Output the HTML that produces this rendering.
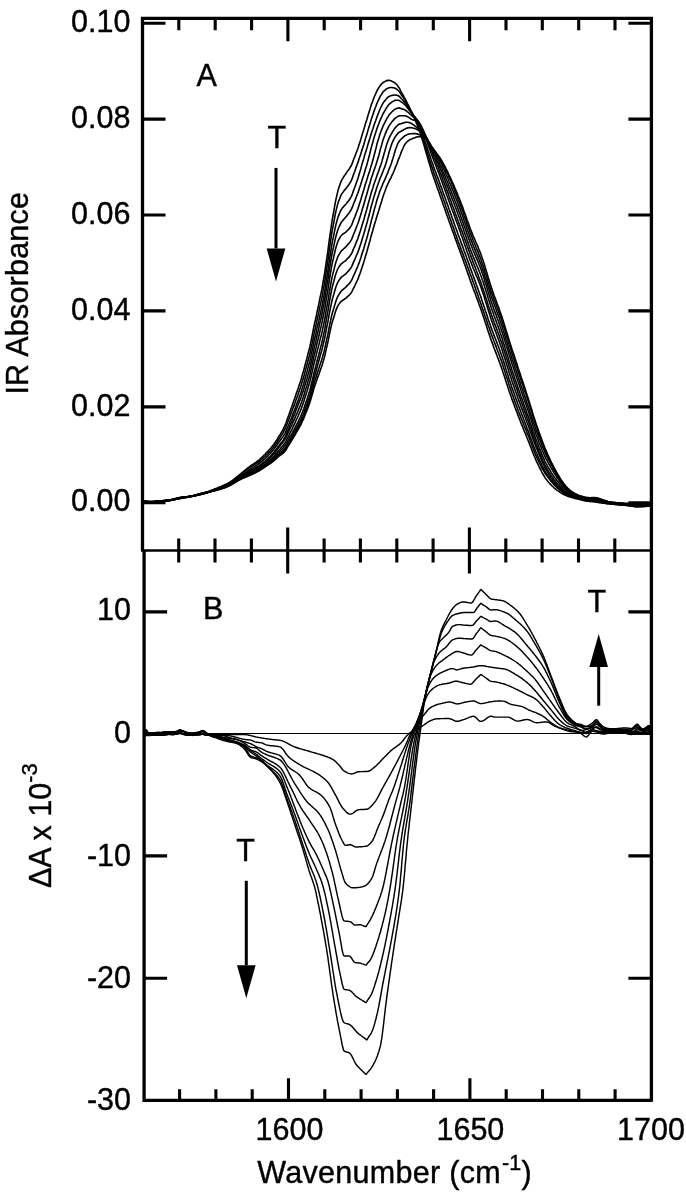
<!DOCTYPE html>
<html lang="en"><head><meta charset="utf-8"><title>IR Absorbance vs Wavenumber</title>
<style>html,body{margin:0;padding:0;background:#fff}svg{display:block}</style></head>
<body>
<svg width="686" height="1199" viewBox="0 0 686 1199">
<rect width="686" height="1199" fill="#fff"/>
<g fill="none" stroke="#000" stroke-width="1.6" stroke-linejoin="round" stroke-linecap="round">
<path d="M142.5 502.0L143.2 502.0L144.0 501.9L144.8 501.9L145.5 501.9L146.2 501.8L147.0 501.8L147.8 501.8L148.5 501.7L149.2 501.7L150.0 501.6L150.8 501.6L151.5 501.6L152.2 501.5L153.0 501.5L153.8 501.5L154.5 501.4L155.2 501.4L156.0 501.4L156.8 501.3L157.5 501.3L158.2 501.2L159.0 501.2L159.8 501.2L160.5 501.1L161.2 501.1L162.0 501.1L162.8 501.0L163.5 501.0L164.2 500.9L165.0 500.9L165.8 500.8L166.5 500.8L167.2 500.7L168.0 500.6L168.8 500.5L169.5 500.4L170.2 500.3L171.0 500.2L171.8 500.1L172.5 499.9L173.2 499.8L174.0 499.6L174.8 499.5L175.5 499.3L176.2 499.2L177.0 499.0L177.8 498.9L178.5 498.7L179.2 498.5L180.0 498.4L180.8 498.2L181.5 498.0L182.2 497.9L183.0 497.7L183.8 497.6L184.5 497.4L185.2 497.3L186.0 497.2L186.8 497.0L187.5 496.9L188.2 496.7L189.0 496.6L189.8 496.4L190.5 496.3L191.2 496.1L192.0 496.0L192.8 495.8L193.5 495.7L194.2 495.5L195.0 495.4L195.8 495.2L196.5 495.1L197.2 494.9L198.0 494.7L198.8 494.5L199.5 494.3L200.2 494.2L201.0 494.0L201.8 493.7L202.5 493.5L203.2 493.3L204.0 493.1L204.8 492.8L205.5 492.6L206.2 492.3L207.0 492.0L207.8 491.8L208.5 491.5L209.2 491.2L210.0 490.9L210.8 490.6L211.5 490.3L212.2 490.0L213.0 489.7L213.8 489.4L214.5 489.1L215.2 488.8L216.0 488.5L216.8 488.2L217.5 487.9L218.2 487.6L219.0 487.3L219.8 487.0L220.5 486.7L221.2 486.4L222.0 486.1L222.8 485.7L223.5 485.4L224.2 485.1L225.0 484.7L225.8 484.3L226.5 484.0L227.2 483.6L228.0 483.2L228.8 482.8L229.5 482.3L230.2 481.9L231.0 481.4L231.8 480.9L232.5 480.3L233.2 479.8L234.0 479.2L234.8 478.6L235.5 478.0L236.2 477.4L237.0 476.8L237.8 476.2L238.5 475.6L239.2 475.0L240.0 474.4L240.8 473.8L241.5 473.2L242.2 472.6L243.0 472.0L243.8 471.3L244.5 470.7L245.2 470.1L246.0 469.5L246.8 468.8L247.5 468.2L248.2 467.6L249.0 467.1L249.8 466.5L250.5 465.9L251.2 465.4L252.0 464.9L252.8 464.4L253.5 463.9L254.2 463.4L255.0 462.9L255.8 462.4L256.5 461.9L257.2 461.3L258.0 460.7L258.8 460.1L259.5 459.5L260.2 458.8L261.0 458.1L261.8 457.4L262.5 456.7L263.2 456.0L264.0 455.2L264.8 454.5L265.5 453.7L266.2 452.9L267.0 452.2L267.8 451.4L268.5 450.6L269.2 449.8L270.0 449.0L270.8 448.1L271.5 447.2L272.2 446.3L273.0 445.4L273.8 444.4L274.5 443.3L275.2 442.2L276.0 441.0L276.8 439.9L277.5 438.6L278.2 437.4L279.0 436.2L279.8 435.0L280.5 433.8L281.2 432.6L282.0 431.3L282.8 430.0L283.5 428.5L284.2 427.0L285.0 425.4L285.8 423.5L286.5 421.4L287.2 419.3L288.0 417.2L288.8 415.1L289.5 413.0L290.2 410.9L291.0 408.8L291.8 406.7L292.5 404.6L293.2 402.5L294.0 400.3L294.8 398.1L295.5 396.0L296.2 393.8L297.0 391.6L297.8 389.4L298.5 387.2L299.2 385.0L300.0 382.7L300.8 380.4L301.5 378.0L302.2 375.4L303.0 372.8L303.8 370.1L304.5 367.3L305.2 364.4L306.0 361.6L306.8 358.7L307.5 355.9L308.2 353.0L309.0 350.0L309.8 347.0L310.5 343.7L311.2 340.1L312.0 336.3L312.8 332.4L313.5 328.7L314.2 325.2L315.0 321.7L315.8 318.2L316.5 314.8L317.2 311.2L318.0 307.7L318.8 304.1L319.5 300.6L320.2 297.0L321.0 293.4L321.8 289.6L322.5 285.6L323.2 281.5L324.0 277.0L324.8 272.3L325.5 267.3L326.2 262.1L327.0 256.9L327.8 251.7L328.5 246.2L329.2 240.6L330.0 234.9L330.8 229.5L331.5 224.5L332.2 219.9L333.0 215.5L333.8 211.3L334.5 207.2L335.2 203.1L336.0 199.1L336.8 195.6L337.5 192.6L338.2 189.8L339.0 187.3L339.8 185.0L340.5 182.9L341.2 181.1L342.0 179.6L342.8 178.3L343.5 177.1L344.2 176.0L345.0 174.9L345.8 173.9L346.5 172.8L347.2 171.6L348.0 170.6L348.8 169.6L349.5 168.5L350.2 167.3L351.0 166.0L351.8 164.4L352.5 162.5L353.2 160.5L354.0 158.5L354.8 156.6L355.5 154.7L356.2 152.8L357.0 150.8L357.8 148.7L358.5 146.6L359.2 144.3L360.0 141.9L360.8 139.4L361.5 136.9L362.2 134.5L363.0 132.0L363.8 129.5L364.5 127.1L365.2 124.6L366.0 122.1L366.8 119.7L367.5 117.2L368.2 114.8L369.0 112.3L369.8 109.8L370.5 107.4L371.2 105.1L372.0 102.9L372.8 100.8L373.5 98.9L374.2 97.0L375.0 95.2L375.8 93.5L376.5 91.9L377.2 90.4L378.0 89.0L378.8 87.8L379.5 86.6L380.2 85.5L381.0 84.6L381.8 83.8L382.5 83.1L383.2 82.5L384.0 82.0L384.8 81.6L385.5 81.2L386.2 80.8L387.0 80.6L387.8 80.4L388.5 80.3L389.2 80.4L390.0 80.5L390.8 80.7L391.5 81.0L392.2 81.4L393.0 81.8L393.8 82.2L394.5 82.6L395.2 83.2L396.0 83.9L396.8 84.7L397.5 85.6L398.2 86.6L399.0 87.7L399.8 89.0L400.5 90.5L401.2 92.0L402.0 93.3L402.8 94.7L403.5 96.0L404.2 97.3L405.0 98.7L405.8 100.2L406.5 101.6L407.2 103.1L408.0 104.6L408.8 106.2L409.5 107.8L410.2 109.5L411.0 111.1L411.8 112.8L412.5 114.5L413.2 116.1L414.0 117.7L414.8 119.3L415.5 120.9L416.2 122.6L417.0 124.4L417.8 126.2L418.5 128.2L419.2 130.3L420.0 132.5L420.8 134.8L421.5 137.1L422.2 139.5L423.0 141.9L423.8 144.4L424.5 147.0L425.2 149.6L426.0 152.2L426.8 154.8L427.5 157.3L428.2 159.9L429.0 162.5L429.8 165.0L430.5 167.6L431.2 170.0L432.0 172.4L432.8 174.7L433.5 176.9L434.2 179.1L435.0 181.3L435.8 183.4L436.5 185.5L437.2 187.6L438.0 189.7L438.8 191.8L439.5 193.9L440.2 196.1L441.0 198.2L441.8 200.4L442.5 202.5L443.2 204.7L444.0 206.8L444.8 209.0L445.5 211.1L446.2 213.2L447.0 215.4L447.8 217.5L448.5 219.6L449.2 221.7L450.0 223.8L450.8 225.9L451.5 228.0L452.2 230.1L453.0 232.2L453.8 234.2L454.5 236.3L455.2 238.4L456.0 240.5L456.8 242.5L457.5 244.6L458.2 246.6L459.0 248.6L459.8 250.7L460.5 252.7L461.2 254.8L462.0 256.9L462.8 259.0L463.5 261.1L464.2 263.2L465.0 265.3L465.8 267.5L466.5 269.6L467.2 271.8L468.0 273.9L468.8 276.0L469.5 278.2L470.2 280.3L471.0 282.4L471.8 284.5L472.5 286.5L473.2 288.5L474.0 290.6L474.8 292.6L475.5 294.6L476.2 296.6L477.0 298.6L477.8 300.6L478.5 302.7L479.2 304.7L480.0 306.8L480.8 308.9L481.5 311.0L482.2 313.2L483.0 315.4L483.8 317.7L484.5 319.9L485.2 322.2L486.0 324.6L486.8 326.9L487.5 329.2L488.2 331.5L489.0 333.8L489.8 336.0L490.5 338.2L491.2 340.3L492.0 342.4L492.8 344.5L493.5 346.5L494.2 348.5L495.0 350.4L495.8 352.4L496.5 354.3L497.2 356.2L498.0 358.2L498.8 360.2L499.5 362.2L500.2 364.3L501.0 366.4L501.8 368.5L502.5 370.8L503.2 373.0L504.0 375.3L504.8 377.6L505.5 379.9L506.2 382.3L507.0 384.6L507.8 386.9L508.5 389.1L509.2 391.4L510.0 393.6L510.8 395.7L511.5 397.8L512.2 399.9L513.0 401.9L513.8 404.0L514.5 406.0L515.2 408.0L516.0 410.0L516.8 412.0L517.5 413.9L518.2 415.9L519.0 417.8L519.8 419.8L520.5 421.7L521.2 423.6L522.0 425.4L522.8 427.3L523.5 429.1L524.2 431.0L525.0 432.8L525.8 434.6L526.5 436.5L527.2 438.3L528.0 440.2L528.8 442.0L529.5 443.9L530.2 445.9L531.0 447.8L531.8 449.8L532.5 451.7L533.2 453.6L534.0 455.5L534.8 457.3L535.5 459.0L536.2 460.7L537.0 462.3L537.8 463.9L538.5 465.5L539.2 467.0L540.0 468.5L540.8 470.0L541.5 471.5L542.2 472.9L543.0 474.2L543.8 475.5L544.5 476.7L545.2 477.9L546.0 478.9L546.8 479.9L547.5 480.9L548.2 481.8L549.0 482.7L549.8 483.5L550.5 484.4L551.2 485.1L552.0 485.9L552.8 486.6L553.5 487.3L554.2 488.0L555.0 488.6L555.8 489.2L556.5 489.8L557.2 490.3L558.0 490.9L558.8 491.4L559.5 491.9L560.2 492.4L561.0 492.9L561.8 493.4L562.5 493.8L563.2 494.2L564.0 494.6L564.8 495.0L565.5 495.3L566.2 495.6L567.0 495.9L567.8 496.2L568.5 496.4L569.2 496.7L570.0 496.9L570.8 497.2L571.5 497.4L572.2 497.6L573.0 497.8L573.8 498.0L574.5 498.2L575.2 498.4L576.0 498.6L576.8 498.7L577.5 498.9L578.2 499.1L579.0 499.2L579.8 499.4L580.5 499.5L581.2 499.7L582.0 499.8L582.8 500.0L583.5 500.1L584.2 500.2L585.0 500.4L585.8 500.5L586.5 500.6L587.2 500.8L588.0 500.9L588.8 501.0L589.5 501.1L590.2 501.2L591.0 501.4L591.8 501.5L592.5 501.6L593.2 501.7L594.0 501.8L594.8 501.9L595.5 502.0L596.2 502.1L597.0 502.3L597.8 502.4L598.5 502.5L599.2 502.6L600.0 502.7L600.8 502.8L601.5 502.9L602.2 503.0L603.0 503.1L603.8 503.2L604.5 503.3L605.2 503.4L606.0 503.5L606.8 503.6L607.5 503.7L608.2 503.8L609.0 503.8L609.8 503.9L610.5 504.0L611.2 504.1L612.0 504.2L612.8 504.3L613.5 504.3L614.2 504.4L615.0 504.5L615.8 504.6L616.5 504.7L617.2 504.7L618.0 504.8L618.8 504.9L619.5 504.9L620.2 505.0L621.0 505.0L621.8 505.1L622.5 505.1L623.2 505.2L624.0 505.3L624.8 505.3L625.5 505.4L626.2 505.4L627.0 505.5L627.8 505.6L628.5 505.6L629.2 505.7L630.0 505.8L630.8 505.9L631.5 506.0L632.2 506.1L633.0 506.2L633.8 506.4L634.5 506.5L635.2 506.6L636.0 506.6L636.8 506.7L637.5 506.7L638.2 506.7L639.0 506.7L639.8 506.7L640.5 506.7L641.2 506.7L642.0 506.6L642.8 506.6L643.5 506.6L644.2 506.5L645.0 506.5L645.8 506.4L646.5 506.4L647.2 506.3L648.0 506.2L648.8 506.1L649.5 506.0L650.2 505.9L651.0 505.8"/>
<path d="M142.5 501.1L143.2 501.1L144.0 501.2L144.8 501.2L145.5 501.3L146.2 501.4L147.0 501.5L147.8 501.6L148.5 501.6L149.2 501.7L150.0 501.8L150.8 501.8L151.5 501.8L152.2 501.8L153.0 501.8L153.8 501.8L154.5 501.8L155.2 501.7L156.0 501.6L156.8 501.5L157.5 501.4L158.2 501.3L159.0 501.2L159.8 501.1L160.5 501.0L161.2 501.0L162.0 500.9L162.8 500.8L163.5 500.8L164.2 500.7L165.0 500.7L165.8 500.7L166.5 500.6L167.2 500.6L168.0 500.6L168.8 500.5L169.5 500.4L170.2 500.3L171.0 500.2L171.8 500.1L172.5 499.9L173.2 499.7L174.0 499.5L174.8 499.3L175.5 499.1L176.2 498.9L177.0 498.6L177.8 498.4L178.5 498.2L179.2 498.0L180.0 497.8L180.8 497.7L181.5 497.5L182.2 497.4L183.0 497.3L183.8 497.2L184.5 497.2L185.2 497.1L186.0 497.1L186.8 497.0L187.5 497.0L188.2 496.9L189.0 496.8L189.8 496.8L190.5 496.6L191.2 496.5L192.0 496.3L192.8 496.2L193.5 496.0L194.2 495.7L195.0 495.5L195.8 495.2L196.5 495.0L197.2 494.7L198.0 494.5L198.8 494.2L199.5 494.0L200.2 493.7L201.0 493.5L201.8 493.3L202.5 493.1L203.2 492.9L204.0 492.7L204.8 492.5L205.5 492.3L206.2 492.1L207.0 491.9L207.8 491.7L208.5 491.4L209.2 491.2L210.0 491.0L210.8 490.7L211.5 490.4L212.2 490.2L213.0 489.9L213.8 489.6L214.5 489.3L215.2 489.0L216.0 488.8L216.8 488.5L217.5 488.2L218.2 487.9L219.0 487.6L219.8 487.3L220.5 487.0L221.2 486.7L222.0 486.4L222.8 486.1L223.5 485.8L224.2 485.4L225.0 485.1L225.8 484.7L226.5 484.4L227.2 484.0L228.0 483.6L228.8 483.2L229.5 482.7L230.2 482.3L231.0 481.8L231.8 481.3L232.5 480.7L233.2 480.2L234.0 479.6L234.8 479.0L235.5 478.4L236.2 477.8L237.0 477.2L237.8 476.6L238.5 476.0L239.2 475.4L240.0 474.9L240.8 474.3L241.5 473.7L242.2 473.1L243.0 472.5L243.8 471.8L244.5 471.2L245.2 470.7L246.0 470.1L246.8 469.5L247.5 468.9L248.2 468.4L249.0 467.9L249.8 467.4L250.5 466.9L251.2 466.4L252.0 466.0L252.8 465.5L253.5 465.1L254.2 464.7L255.0 464.2L255.8 463.8L256.5 463.3L257.2 462.8L258.0 462.3L258.8 461.8L259.5 461.2L260.2 460.6L261.0 459.9L261.8 459.3L262.5 458.6L263.2 457.9L264.0 457.2L264.8 456.5L265.5 455.8L266.2 455.0L267.0 454.3L267.8 453.6L268.5 452.8L269.2 452.1L270.0 451.3L270.8 450.4L271.5 449.6L272.2 448.7L273.0 447.8L273.8 446.8L274.5 445.8L275.2 444.7L276.0 443.6L276.8 442.5L277.5 441.3L278.2 440.2L279.0 439.0L279.8 437.9L280.5 436.8L281.2 435.6L282.0 434.5L282.8 433.2L283.5 431.9L284.2 430.5L285.0 429.0L285.8 427.3L286.5 425.4L287.2 423.4L288.0 421.4L288.8 419.4L289.5 417.5L290.2 415.6L291.0 413.6L291.8 411.6L292.5 409.6L293.2 407.6L294.0 405.6L294.8 403.5L295.5 401.4L296.2 399.4L297.0 397.3L297.8 395.2L298.5 393.1L299.2 391.0L300.0 388.8L300.8 386.5L301.5 384.2L302.2 381.8L303.0 379.2L303.8 376.6L304.5 373.9L305.2 371.1L306.0 368.3L306.8 365.6L307.5 362.8L308.2 360.0L309.0 357.1L309.8 354.1L310.5 351.0L311.2 347.5L312.0 343.8L312.8 340.0L313.5 336.3L314.2 332.9L315.0 329.5L315.8 326.1L316.5 322.7L317.2 319.3L318.0 315.8L318.8 312.4L319.5 308.9L320.2 305.4L321.0 301.9L321.8 298.2L322.5 294.3L323.2 290.3L324.0 285.9L324.8 281.3L325.5 276.4L326.2 271.4L327.0 266.3L327.8 261.2L328.5 255.9L329.2 250.4L330.0 244.9L330.8 239.6L331.5 234.9L332.2 230.4L333.0 226.3L333.8 222.3L334.5 218.4L335.2 214.6L336.0 210.9L336.8 207.6L337.5 204.9L338.2 202.4L339.0 200.2L339.8 198.2L340.5 196.4L341.2 194.8L342.0 193.6L342.8 192.4L343.5 191.5L344.2 190.5L345.0 189.6L345.8 188.7L346.5 187.7L347.2 186.7L348.0 185.7L348.8 184.7L349.5 183.6L350.2 182.5L351.0 181.1L351.8 179.4L352.5 177.5L353.2 175.4L354.0 173.3L354.8 171.2L355.5 169.1L356.2 167.1L357.0 165.0L357.8 162.9L358.5 160.8L359.2 158.6L360.0 156.2L360.8 153.9L361.5 151.6L362.2 149.2L363.0 146.9L363.8 144.5L364.5 142.1L365.2 139.6L366.0 137.1L366.8 134.6L367.5 132.1L368.2 129.6L369.0 127.0L369.8 124.5L370.5 122.0L371.2 119.6L372.0 117.2L372.8 114.9L373.5 112.8L374.2 110.6L375.0 108.5L375.8 106.5L376.5 104.6L377.2 102.8L378.0 101.0L378.8 99.3L379.5 97.8L380.2 96.3L381.0 95.1L381.8 93.9L382.5 92.8L383.2 91.8L384.0 91.0L384.8 90.4L385.5 89.7L386.2 89.1L387.0 88.6L387.8 88.2L388.5 87.9L389.2 87.7L390.0 87.5L390.8 87.5L391.5 87.5L392.2 87.6L393.0 87.7L393.8 87.8L394.5 88.0L395.2 88.3L396.0 88.7L396.8 89.3L397.5 89.9L398.2 90.5L399.0 91.3L399.8 92.4L400.5 93.5L401.2 94.7L402.0 95.8L402.8 96.8L403.5 97.9L404.2 99.0L405.0 100.1L405.8 101.3L406.5 102.5L407.2 103.8L408.0 105.1L408.8 106.5L409.5 107.9L410.2 109.3L411.0 110.8L411.8 112.2L412.5 113.7L413.2 115.1L414.0 116.6L414.8 118.0L415.5 119.4L416.2 121.0L417.0 122.5L417.8 124.2L418.5 126.1L419.2 128.0L420.0 130.0L420.8 132.1L421.5 134.2L422.2 136.5L423.0 138.8L423.8 141.1L424.5 143.5L425.2 145.9L426.0 148.3L426.8 150.7L427.5 153.1L428.2 155.5L429.0 158.0L429.8 160.4L430.5 162.7L431.2 165.1L432.0 167.3L432.8 169.5L433.5 171.6L434.2 173.7L435.0 175.8L435.8 177.9L436.5 179.9L437.2 182.0L438.0 184.0L438.8 186.1L439.5 188.2L440.2 190.3L441.0 192.4L441.8 194.6L442.5 196.7L443.2 198.8L444.0 201.0L444.8 203.1L445.5 205.3L446.2 207.4L447.0 209.6L447.8 211.7L448.5 213.9L449.2 216.0L450.0 218.2L450.8 220.3L451.5 222.5L452.2 224.6L453.0 226.8L453.8 228.9L454.5 231.1L455.2 233.2L456.0 235.3L456.8 237.4L457.5 239.5L458.2 241.5L459.0 243.5L459.8 245.6L460.5 247.6L461.2 249.6L462.0 251.6L462.8 253.6L463.5 255.6L464.2 257.7L465.0 259.7L465.8 261.7L466.5 263.8L467.2 265.8L468.0 267.9L468.8 269.9L469.5 272.0L470.2 274.1L471.0 276.1L471.8 278.2L472.5 280.2L473.2 282.3L474.0 284.3L474.8 286.4L475.5 288.5L476.2 290.6L477.0 292.7L477.8 294.9L478.5 297.0L479.2 299.2L480.0 301.3L480.8 303.5L481.5 305.6L482.2 307.8L483.0 310.0L483.8 312.2L484.5 314.4L485.2 316.6L486.0 318.8L486.8 321.0L487.5 323.2L488.2 325.4L489.0 327.6L489.8 329.8L490.5 331.9L491.2 334.0L492.0 336.0L492.8 338.0L493.5 340.0L494.2 342.0L495.0 343.9L495.8 345.9L496.5 347.8L497.2 349.8L498.0 351.7L498.8 353.7L499.5 355.7L500.2 357.8L501.0 359.9L501.8 362.1L502.5 364.3L503.2 366.6L504.0 368.9L504.8 371.2L505.5 373.6L506.2 375.9L507.0 378.3L507.8 380.6L508.5 382.9L509.2 385.2L510.0 387.5L510.8 389.7L511.5 391.9L512.2 394.1L513.0 396.2L513.8 398.4L514.5 400.5L515.2 402.6L516.0 404.7L516.8 406.7L517.5 408.7L518.2 410.7L519.0 412.7L519.8 414.6L520.5 416.5L521.2 418.4L522.0 420.3L522.8 422.1L523.5 423.9L524.2 425.8L525.0 427.6L525.8 429.4L526.5 431.2L527.2 433.1L528.0 434.9L528.8 436.8L529.5 438.8L530.2 440.8L531.0 442.8L531.8 444.8L532.5 446.9L533.2 448.8L534.0 450.8L534.8 452.7L535.5 454.5L536.2 456.2L537.0 457.8L537.8 459.4L538.5 461.0L539.2 462.6L540.0 464.1L540.8 465.6L541.5 467.1L542.2 468.5L543.0 469.8L543.8 471.1L544.5 472.3L545.2 473.5L546.0 474.6L546.8 475.6L547.5 476.6L548.2 477.6L549.0 478.6L549.8 479.6L550.5 480.5L551.2 481.4L552.0 482.3L552.8 483.1L553.5 484.0L554.2 484.8L555.0 485.5L555.8 486.3L556.5 487.0L557.2 487.7L558.0 488.4L558.8 489.0L559.5 489.6L560.2 490.3L561.0 490.8L561.8 491.4L562.5 492.0L563.2 492.5L564.0 493.0L564.8 493.4L565.5 493.8L566.2 494.2L567.0 494.6L567.8 495.0L568.5 495.3L569.2 495.7L570.0 496.0L570.8 496.3L571.5 496.5L572.2 496.8L573.0 497.1L573.8 497.3L574.5 497.5L575.2 497.8L576.0 498.0L576.8 498.2L577.5 498.5L578.2 498.7L579.0 499.0L579.8 499.2L580.5 499.5L581.2 499.7L582.0 500.0L582.8 500.2L583.5 500.5L584.2 500.7L585.0 500.8L585.8 501.0L586.5 501.1L587.2 501.2L588.0 501.3L588.8 501.3L589.5 501.4L590.2 501.4L591.0 501.4L591.8 501.3L592.5 501.3L593.2 501.4L594.0 501.4L594.8 501.4L595.5 501.5L596.2 501.6L597.0 501.7L597.8 501.9L598.5 502.0L599.2 502.2L600.0 502.4L600.8 502.5L601.5 502.7L602.2 502.8L603.0 503.0L603.8 503.1L604.5 503.2L605.2 503.3L606.0 503.4L606.8 503.5L607.5 503.6L608.2 503.7L609.0 503.7L609.8 503.8L610.5 503.8L611.2 503.9L612.0 503.9L612.8 504.0L613.5 504.1L614.2 504.1L615.0 504.2L615.8 504.2L616.5 504.3L617.2 504.4L618.0 504.4L618.8 504.5L619.5 504.6L620.2 504.6L621.0 504.7L621.8 504.8L622.5 504.8L623.2 504.9L624.0 505.0L624.8 505.1L625.5 505.2L626.2 505.3L627.0 505.4L627.8 505.5L628.5 505.6L629.2 505.7L630.0 505.9L630.8 506.0L631.5 506.1L632.2 506.2L633.0 506.3L633.8 506.4L634.5 506.5L635.2 506.6L636.0 506.6L636.8 506.6L637.5 506.6L638.2 506.6L639.0 506.6L639.8 506.5L640.5 506.5L641.2 506.5L642.0 506.5L642.8 506.4L643.5 506.4L644.2 506.3L645.0 506.3L645.8 506.2L646.5 506.1L647.2 506.0L648.0 505.9L648.8 505.7L649.5 505.6L650.2 505.4L651.0 505.3"/>
<path d="M142.5 501.6L143.2 501.6L144.0 501.7L144.8 501.7L145.5 501.8L146.2 501.9L147.0 501.9L147.8 502.0L148.5 502.0L149.2 502.0L150.0 502.1L150.8 502.1L151.5 502.0L152.2 502.0L153.0 502.0L153.8 501.9L154.5 501.8L155.2 501.8L156.0 501.7L156.8 501.6L157.5 501.5L158.2 501.4L159.0 501.2L159.8 501.1L160.5 501.0L161.2 500.9L162.0 500.8L162.8 500.7L163.5 500.7L164.2 500.6L165.0 500.5L165.8 500.4L166.5 500.4L167.2 500.3L168.0 500.3L168.8 500.2L169.5 500.1L170.2 500.0L171.0 500.0L171.8 499.9L172.5 499.8L173.2 499.7L174.0 499.6L174.8 499.4L175.5 499.3L176.2 499.2L177.0 499.0L177.8 498.9L178.5 498.7L179.2 498.6L180.0 498.4L180.8 498.2L181.5 498.1L182.2 497.9L183.0 497.7L183.8 497.6L184.5 497.4L185.2 497.3L186.0 497.1L186.8 496.9L187.5 496.8L188.2 496.6L189.0 496.5L189.8 496.3L190.5 496.1L191.2 496.0L192.0 495.9L192.8 495.7L193.5 495.6L194.2 495.4L195.0 495.3L195.8 495.2L196.5 495.0L197.2 494.9L198.0 494.7L198.8 494.6L199.5 494.5L200.2 494.3L201.0 494.1L201.8 494.0L202.5 493.8L203.2 493.6L204.0 493.4L204.8 493.2L205.5 492.9L206.2 492.7L207.0 492.4L207.8 492.2L208.5 491.9L209.2 491.7L210.0 491.4L210.8 491.1L211.5 490.8L212.2 490.6L213.0 490.3L213.8 490.0L214.5 489.7L215.2 489.5L216.0 489.2L216.8 488.9L217.5 488.6L218.2 488.4L219.0 488.1L219.8 487.8L220.5 487.5L221.2 487.2L222.0 486.9L222.8 486.6L223.5 486.3L224.2 485.9L225.0 485.6L225.8 485.2L226.5 484.9L227.2 484.5L228.0 484.2L228.8 483.8L229.5 483.4L230.2 483.0L231.0 482.6L231.8 482.1L232.5 481.6L233.2 481.1L234.0 480.6L234.8 480.1L235.5 479.6L236.2 479.1L237.0 478.5L237.8 478.0L238.5 477.5L239.2 476.9L240.0 476.4L240.8 475.9L241.5 475.3L242.2 474.8L243.0 474.2L243.8 473.6L244.5 473.1L245.2 472.5L246.0 471.9L246.8 471.4L247.5 470.8L248.2 470.3L249.0 469.8L249.8 469.3L250.5 468.8L251.2 468.3L252.0 467.9L252.8 467.5L253.5 467.1L254.2 466.6L255.0 466.2L255.8 465.8L256.5 465.3L257.2 464.8L258.0 464.3L258.8 463.8L259.5 463.2L260.2 462.6L261.0 462.0L261.8 461.4L262.5 460.8L263.2 460.1L264.0 459.4L264.8 458.8L265.5 458.1L266.2 457.4L267.0 456.7L267.8 456.0L268.5 455.2L269.2 454.5L270.0 453.7L270.8 452.9L271.5 452.1L272.2 451.2L273.0 450.3L273.8 449.4L274.5 448.4L275.2 447.3L276.0 446.3L276.8 445.2L277.5 444.1L278.2 443.0L279.0 442.0L279.8 441.0L280.5 440.0L281.2 439.0L282.0 438.0L282.8 436.9L283.5 435.8L284.2 434.6L285.0 433.3L285.8 431.7L286.5 430.0L287.2 428.1L288.0 426.3L288.8 424.5L289.5 422.7L290.2 420.8L291.0 419.0L291.8 417.1L292.5 415.2L293.2 413.3L294.0 411.4L294.8 409.4L295.5 407.4L296.2 405.4L297.0 403.4L297.8 401.4L298.5 399.4L299.2 397.3L300.0 395.2L300.8 393.0L301.5 390.8L302.2 388.4L303.0 385.9L303.8 383.4L304.5 380.7L305.2 378.0L306.0 375.3L306.8 372.6L307.5 369.9L308.2 367.2L309.0 364.3L309.8 361.4L310.5 358.3L311.2 354.9L312.0 351.2L312.8 347.5L313.5 343.9L314.2 340.5L315.0 337.2L315.8 334.0L316.5 330.7L317.2 327.4L318.0 324.0L318.8 320.7L319.5 317.3L320.2 314.0L321.0 310.6L321.8 307.0L322.5 303.3L323.2 299.5L324.0 295.3L324.8 290.8L325.5 286.2L326.2 281.3L327.0 276.5L327.8 271.6L328.5 266.6L329.2 261.4L330.0 256.2L330.8 251.2L331.5 246.7L332.2 242.6L333.0 238.7L333.8 235.0L334.5 231.4L335.2 227.9L336.0 224.4L336.8 221.4L337.5 218.9L338.2 216.6L339.0 214.6L339.8 212.7L340.5 211.1L341.2 209.7L342.0 208.6L342.8 207.6L343.5 206.7L344.2 205.9L345.0 205.1L345.8 204.3L346.5 203.4L347.2 202.4L348.0 201.5L348.8 200.6L349.5 199.5L350.2 198.4L351.0 197.1L351.8 195.4L352.5 193.5L353.2 191.4L354.0 189.3L354.8 187.3L355.5 185.3L356.2 183.2L357.0 181.0L357.8 178.8L358.5 176.5L359.2 174.0L360.0 171.4L360.8 168.7L361.5 166.1L362.2 163.5L363.0 160.9L363.8 158.4L364.5 155.8L365.2 153.4L366.0 150.9L366.8 148.4L367.5 146.0L368.2 143.5L369.0 141.0L369.8 138.5L370.5 136.0L371.2 133.7L372.0 131.3L372.8 129.0L373.5 126.8L374.2 124.6L375.0 122.5L375.8 120.3L376.5 118.2L377.2 116.2L378.0 114.2L378.8 112.3L379.5 110.4L380.2 108.7L381.0 107.1L381.8 105.6L382.5 104.2L383.2 102.9L384.0 101.8L384.8 100.8L385.5 99.9L386.2 99.0L387.0 98.1L387.8 97.4L388.5 96.8L389.2 96.4L390.0 96.0L390.8 95.8L391.5 95.5L392.2 95.4L393.0 95.2L393.8 95.1L394.5 95.0L395.2 95.0L396.0 95.1L396.8 95.3L397.5 95.5L398.2 95.8L399.0 96.2L399.8 96.9L400.5 97.7L401.2 98.5L402.0 99.3L402.8 100.1L403.5 100.9L404.2 101.8L405.0 102.8L405.8 103.8L406.5 104.8L407.2 105.8L408.0 106.8L408.8 107.9L409.5 109.0L410.2 110.1L411.0 111.2L411.8 112.4L412.5 113.6L413.2 114.7L414.0 115.9L414.8 117.0L415.5 118.2L416.2 119.5L417.0 120.8L417.8 122.2L418.5 123.8L419.2 125.5L420.0 127.3L420.8 129.2L421.5 131.1L422.2 133.1L423.0 135.2L423.8 137.4L424.5 139.6L425.2 141.8L426.0 144.1L426.8 146.4L427.5 148.6L428.2 150.9L429.0 153.2L429.8 155.5L430.5 157.8L431.2 160.0L432.0 162.2L432.8 164.3L433.5 166.4L434.2 168.4L435.0 170.5L435.8 172.4L436.5 174.4L437.2 176.4L438.0 178.4L438.8 180.4L439.5 182.4L440.2 184.5L441.0 186.6L441.8 188.6L442.5 190.7L443.2 192.8L444.0 194.9L444.8 197.0L445.5 199.1L446.2 201.1L447.0 203.2L447.8 205.3L448.5 207.4L449.2 209.5L450.0 211.6L450.8 213.8L451.5 215.9L452.2 218.0L453.0 220.1L453.8 222.2L454.5 224.4L455.2 226.5L456.0 228.5L456.8 230.6L457.5 232.7L458.2 234.7L459.0 236.8L459.8 238.8L460.5 240.8L461.2 242.9L462.0 244.9L462.8 246.9L463.5 249.0L464.2 251.1L465.0 253.1L465.8 255.2L466.5 257.3L467.2 259.4L468.0 261.5L468.8 263.6L469.5 265.7L470.2 267.8L471.0 269.8L471.8 271.9L472.5 274.0L473.2 276.0L474.0 278.1L474.8 280.1L475.5 282.2L476.2 284.2L477.0 286.3L477.8 288.4L478.5 290.5L479.2 292.6L480.0 294.7L480.8 296.8L481.5 299.0L482.2 301.2L483.0 303.4L483.8 305.7L484.5 307.9L485.2 310.2L486.0 312.5L486.8 314.8L487.5 317.0L488.2 319.3L489.0 321.5L489.8 323.7L490.5 325.8L491.2 327.9L492.0 330.0L492.8 332.0L493.5 333.9L494.2 335.9L495.0 337.8L495.8 339.7L496.5 341.6L497.2 343.6L498.0 345.5L498.8 347.5L499.5 349.5L500.2 351.6L501.0 353.7L501.8 355.9L502.5 358.2L503.2 360.5L504.0 362.8L504.8 365.2L505.5 367.6L506.2 370.0L507.0 372.4L507.8 374.8L508.5 377.2L509.2 379.5L510.0 381.8L510.8 384.0L511.5 386.2L512.2 388.4L513.0 390.5L513.8 392.6L514.5 394.7L515.2 396.8L516.0 398.9L516.8 400.9L517.5 403.0L518.2 405.0L519.0 407.0L519.8 409.0L520.5 411.0L521.2 413.0L522.0 415.0L522.8 416.9L523.5 418.9L524.2 420.8L525.0 422.7L525.8 424.7L526.5 426.7L527.2 428.6L528.0 430.6L528.8 432.6L529.5 434.7L530.2 436.7L531.0 438.8L531.8 440.9L532.5 442.9L533.2 445.0L534.0 447.0L534.8 448.9L535.5 450.8L536.2 452.5L537.0 454.3L537.8 456.0L538.5 457.7L539.2 459.4L540.0 461.1L540.8 462.7L541.5 464.3L542.2 465.9L543.0 467.4L543.8 468.9L544.5 470.3L545.2 471.7L546.0 472.9L546.8 474.1L547.5 475.3L548.2 476.4L549.0 477.6L549.8 478.6L550.5 479.7L551.2 480.7L552.0 481.6L552.8 482.6L553.5 483.4L554.2 484.3L555.0 485.1L555.8 485.9L556.5 486.6L557.2 487.4L558.0 488.1L558.8 488.7L559.5 489.4L560.2 490.0L561.0 490.6L561.8 491.2L562.5 491.7L563.2 492.2L564.0 492.7L564.8 493.2L565.5 493.6L566.2 494.0L567.0 494.4L567.8 494.7L568.5 495.0L569.2 495.4L570.0 495.7L570.8 496.0L571.5 496.3L572.2 496.5L573.0 496.8L573.8 497.0L574.5 497.3L575.2 497.5L576.0 497.8L576.8 498.0L577.5 498.2L578.2 498.4L579.0 498.6L579.8 498.8L580.5 499.0L581.2 499.2L582.0 499.4L582.8 499.6L583.5 499.8L584.2 499.9L585.0 500.1L585.8 500.2L586.5 500.3L587.2 500.4L588.0 500.5L588.8 500.6L589.5 500.7L590.2 500.8L591.0 500.9L591.8 501.0L592.5 501.0L593.2 501.1L594.0 501.2L594.8 501.3L595.5 501.4L596.2 501.5L597.0 501.7L597.8 501.8L598.5 501.9L599.2 502.0L600.0 502.2L600.8 502.3L601.5 502.4L602.2 502.5L603.0 502.6L603.8 502.7L604.5 502.8L605.2 502.9L606.0 503.0L606.8 503.1L607.5 503.2L608.2 503.2L609.0 503.3L609.8 503.4L610.5 503.5L611.2 503.5L612.0 503.6L612.8 503.7L613.5 503.8L614.2 503.8L615.0 503.9L615.8 504.0L616.5 504.1L617.2 504.2L618.0 504.3L618.8 504.4L619.5 504.4L620.2 504.5L621.0 504.6L621.8 504.7L622.5 504.8L623.2 504.9L624.0 504.9L624.8 505.0L625.5 505.1L626.2 505.1L627.0 505.2L627.8 505.3L628.5 505.3L629.2 505.4L630.0 505.5L630.8 505.6L631.5 505.7L632.2 505.8L633.0 505.9L633.8 505.9L634.5 506.0L635.2 506.1L636.0 506.1L636.8 506.2L637.5 506.2L638.2 506.2L639.0 506.2L639.8 506.2L640.5 506.2L641.2 506.2L642.0 506.2L642.8 506.2L643.5 506.1L644.2 506.1L645.0 506.1L645.8 506.0L646.5 506.0L647.2 505.9L648.0 505.8L648.8 505.7L649.5 505.6L650.2 505.4L651.0 505.3"/>
<path d="M142.5 501.0L143.2 501.0L144.0 501.0L144.8 501.1L145.5 501.1L146.2 501.2L147.0 501.2L147.8 501.3L148.5 501.4L149.2 501.4L150.0 501.5L150.8 501.5L151.5 501.6L152.2 501.6L153.0 501.7L153.8 501.7L154.5 501.7L155.2 501.7L156.0 501.7L156.8 501.7L157.5 501.7L158.2 501.7L159.0 501.7L159.8 501.7L160.5 501.7L161.2 501.6L162.0 501.6L162.8 501.5L163.5 501.5L164.2 501.4L165.0 501.3L165.8 501.2L166.5 501.1L167.2 501.0L168.0 500.8L168.8 500.7L169.5 500.5L170.2 500.3L171.0 500.1L171.8 499.8L172.5 499.6L173.2 499.4L174.0 499.1L174.8 498.9L175.5 498.7L176.2 498.4L177.0 498.2L177.8 498.0L178.5 497.8L179.2 497.7L180.0 497.5L180.8 497.4L181.5 497.2L182.2 497.1L183.0 497.1L183.8 497.0L184.5 496.9L185.2 496.8L186.0 496.8L186.8 496.7L187.5 496.7L188.2 496.6L189.0 496.5L189.8 496.4L190.5 496.4L191.2 496.3L192.0 496.2L192.8 496.1L193.5 495.9L194.2 495.8L195.0 495.7L195.8 495.5L196.5 495.4L197.2 495.2L198.0 495.1L198.8 494.9L199.5 494.7L200.2 494.5L201.0 494.3L201.8 494.1L202.5 493.9L203.2 493.7L204.0 493.5L204.8 493.2L205.5 493.0L206.2 492.8L207.0 492.5L207.8 492.2L208.5 492.0L209.2 491.7L210.0 491.4L210.8 491.1L211.5 490.9L212.2 490.6L213.0 490.3L213.8 490.0L214.5 489.7L215.2 489.4L216.0 489.1L216.8 488.9L217.5 488.6L218.2 488.3L219.0 488.0L219.8 487.7L220.5 487.5L221.2 487.2L222.0 486.9L222.8 486.7L223.5 486.4L224.2 486.1L225.0 485.9L225.8 485.6L226.5 485.3L227.2 485.0L228.0 484.7L228.8 484.4L229.5 484.0L230.2 483.6L231.0 483.2L231.8 482.8L232.5 482.4L233.2 481.9L234.0 481.4L234.8 480.9L235.5 480.4L236.2 479.8L237.0 479.3L237.8 478.8L238.5 478.3L239.2 477.8L240.0 477.3L240.8 476.8L241.5 476.3L242.2 475.7L243.0 475.2L243.8 474.7L244.5 474.1L245.2 473.6L246.0 473.1L246.8 472.6L247.5 472.1L248.2 471.6L249.0 471.1L249.8 470.7L250.5 470.2L251.2 469.8L252.0 469.5L252.8 469.1L253.5 468.7L254.2 468.4L255.0 468.0L255.8 467.6L256.5 467.2L257.2 466.8L258.0 466.4L258.8 465.9L259.5 465.4L260.2 464.8L261.0 464.3L261.8 463.7L262.5 463.1L263.2 462.5L264.0 461.9L264.8 461.3L265.5 460.6L266.2 460.0L267.0 459.3L267.8 458.6L268.5 457.9L269.2 457.2L270.0 456.5L270.8 455.8L271.5 455.0L272.2 454.2L273.0 453.3L273.8 452.4L274.5 451.5L275.2 450.5L276.0 449.5L276.8 448.5L277.5 447.5L278.2 446.4L279.0 445.5L279.8 444.5L280.5 443.6L281.2 442.6L282.0 441.7L282.8 440.7L283.5 439.6L284.2 438.4L285.0 437.1L285.8 435.6L286.5 433.9L287.2 432.0L288.0 430.2L288.8 428.4L289.5 426.6L290.2 424.8L291.0 423.0L291.8 421.1L292.5 419.2L293.2 417.3L294.0 415.4L294.8 413.5L295.5 411.5L296.2 409.6L297.0 407.7L297.8 405.8L298.5 403.9L299.2 402.0L300.0 400.1L300.8 398.1L301.5 396.0L302.2 393.8L303.0 391.5L303.8 389.2L304.5 386.7L305.2 384.2L306.0 381.7L306.8 379.2L307.5 376.6L308.2 374.0L309.0 371.3L309.8 368.5L310.5 365.5L311.2 362.1L312.0 358.5L312.8 354.9L313.5 351.3L314.2 348.0L315.0 344.7L315.8 341.4L316.5 338.2L317.2 334.9L318.0 331.5L318.8 328.2L319.5 324.9L320.2 321.6L321.0 318.3L321.8 314.8L322.5 311.2L323.2 307.4L324.0 303.4L324.8 299.0L325.5 294.5L326.2 289.8L327.0 285.1L327.8 280.5L328.5 275.7L329.2 270.7L330.0 265.7L330.8 261.0L331.5 256.8L332.2 252.9L333.0 249.3L333.8 245.9L334.5 242.6L335.2 239.3L336.0 236.1L336.8 233.2L337.5 230.9L338.2 228.9L339.0 227.0L339.8 225.3L340.5 223.8L341.2 222.5L342.0 221.4L342.8 220.4L343.5 219.6L344.2 218.8L345.0 218.0L345.8 217.1L346.5 216.2L347.2 215.2L348.0 214.3L348.8 213.3L349.5 212.3L350.2 211.2L351.0 210.0L351.8 208.4L352.5 206.6L353.2 204.7L354.0 202.8L354.8 200.9L355.5 199.1L356.2 197.2L357.0 195.3L357.8 193.3L358.5 191.2L359.2 189.1L360.0 186.7L360.8 184.3L361.5 182.0L362.2 179.6L363.0 177.2L363.8 174.8L364.5 172.5L365.2 170.0L366.0 167.6L366.8 165.1L367.5 162.4L368.2 159.7L369.0 156.8L369.8 153.8L370.5 150.8L371.2 147.9L372.0 145.0L372.8 142.3L373.5 139.6L374.2 137.1L375.0 134.7L375.8 132.3L376.5 130.1L377.2 127.9L378.0 125.8L378.8 123.8L379.5 121.8L380.2 120.0L381.0 118.3L381.8 116.6L382.5 115.0L383.2 113.5L384.0 112.1L384.8 110.8L385.5 109.5L386.2 108.3L387.0 107.1L387.8 106.0L388.5 105.1L389.2 104.2L390.0 103.5L390.8 102.9L391.5 102.3L392.2 101.8L393.0 101.4L393.8 101.0L394.5 100.6L395.2 100.3L396.0 100.2L396.8 100.2L397.5 100.2L398.2 100.2L399.0 100.4L399.8 100.9L400.5 101.4L401.2 101.9L402.0 102.4L402.8 102.9L403.5 103.5L404.2 104.2L405.0 104.9L405.8 105.7L406.5 106.6L407.2 107.6L408.0 108.5L408.8 109.5L409.5 110.4L410.2 111.4L411.0 112.4L411.8 113.3L412.5 114.2L413.2 115.1L414.0 116.0L414.8 116.8L415.5 117.7L416.2 118.6L417.0 119.6L417.8 120.8L418.5 122.0L419.2 123.4L420.0 124.8L420.8 126.4L421.5 128.0L422.2 129.7L423.0 131.5L423.8 133.3L424.5 135.2L425.2 137.1L426.0 139.1L426.8 141.1L427.5 143.1L428.2 145.2L429.0 147.3L429.8 149.4L430.5 151.5L431.2 153.6L432.0 155.6L432.8 157.6L433.5 159.5L434.2 161.5L435.0 163.4L435.8 165.3L436.5 167.2L437.2 169.2L438.0 171.1L438.8 173.1L439.5 175.1L440.2 177.1L441.0 179.2L441.8 181.2L442.5 183.3L443.2 185.4L444.0 187.4L444.8 189.5L445.5 191.6L446.2 193.6L447.0 195.7L447.8 197.7L448.5 199.8L449.2 201.8L450.0 203.9L450.8 205.9L451.5 207.9L452.2 210.0L453.0 212.0L453.8 214.0L454.5 216.1L455.2 218.1L456.0 220.2L456.8 222.2L457.5 224.3L458.2 226.3L459.0 228.4L459.8 230.5L460.5 232.6L461.2 234.7L462.0 236.8L462.8 239.0L463.5 241.1L464.2 243.3L465.0 245.5L465.8 247.7L466.5 249.9L467.2 252.0L468.0 254.2L468.8 256.3L469.5 258.4L470.2 260.4L471.0 262.4L471.8 264.4L472.5 266.3L473.2 268.2L474.0 270.0L474.8 271.8L475.5 273.6L476.2 275.4L477.0 277.2L477.8 279.0L478.5 280.9L479.2 282.8L480.0 284.8L480.8 286.8L481.5 288.8L482.2 291.0L483.0 293.2L483.8 295.5L484.5 297.9L485.2 300.3L486.0 302.8L486.8 305.2L487.5 307.7L488.2 310.1L489.0 312.5L489.8 314.9L490.5 317.3L491.2 319.5L492.0 321.7L492.8 323.9L493.5 326.0L494.2 328.0L495.0 330.1L495.8 332.1L496.5 334.1L497.2 336.1L498.0 338.1L498.8 340.2L499.5 342.3L500.2 344.4L501.0 346.6L501.8 348.8L502.5 351.1L503.2 353.5L504.0 355.9L504.8 358.3L505.5 360.7L506.2 363.1L507.0 365.5L507.8 367.9L508.5 370.3L509.2 372.7L510.0 375.0L510.8 377.2L511.5 379.5L512.2 381.7L513.0 383.9L513.8 386.0L514.5 388.2L515.2 390.3L516.0 392.5L516.8 394.6L517.5 396.7L518.2 398.8L519.0 400.9L519.8 402.9L520.5 405.0L521.2 407.1L522.0 409.1L522.8 411.1L523.5 413.1L524.2 415.0L525.0 417.0L525.8 419.0L526.5 421.0L527.2 423.0L528.0 425.0L528.8 427.0L529.5 429.0L530.2 431.1L531.0 433.2L531.8 435.4L532.5 437.5L533.2 439.5L534.0 441.6L534.8 443.6L535.5 445.5L536.2 447.4L537.0 449.2L537.8 451.1L538.5 452.9L539.2 454.7L540.0 456.5L540.8 458.3L541.5 460.1L542.2 461.8L543.0 463.4L543.8 465.0L544.5 466.6L545.2 468.1L546.0 469.5L546.8 470.8L547.5 472.1L548.2 473.4L549.0 474.6L549.8 475.8L550.5 477.0L551.2 478.1L552.0 479.2L552.8 480.2L553.5 481.2L554.2 482.2L555.0 483.1L555.8 484.0L556.5 484.9L557.2 485.7L558.0 486.5L558.8 487.3L559.5 488.0L560.2 488.7L561.0 489.4L561.8 490.1L562.5 490.7L563.2 491.2L564.0 491.8L564.8 492.3L565.5 492.8L566.2 493.2L567.0 493.6L567.8 494.0L568.5 494.4L569.2 494.8L570.0 495.1L570.8 495.4L571.5 495.8L572.2 496.1L573.0 496.4L573.8 496.7L574.5 496.9L575.2 497.2L576.0 497.5L576.8 497.7L577.5 498.0L578.2 498.2L579.0 498.5L579.8 498.7L580.5 498.9L581.2 499.1L582.0 499.2L582.8 499.4L583.5 499.5L584.2 499.6L585.0 499.7L585.8 499.8L586.5 499.9L587.2 500.0L588.0 500.0L588.8 500.1L589.5 500.2L590.2 500.2L591.0 500.3L591.8 500.4L592.5 500.4L593.2 500.5L594.0 500.6L594.8 500.7L595.5 500.9L596.2 501.0L597.0 501.1L597.8 501.3L598.5 501.4L599.2 501.6L600.0 501.7L600.8 501.9L601.5 502.0L602.2 502.1L603.0 502.3L603.8 502.4L604.5 502.5L605.2 502.6L606.0 502.7L606.8 502.8L607.5 502.9L608.2 503.0L609.0 503.1L609.8 503.2L610.5 503.3L611.2 503.4L612.0 503.4L612.8 503.5L613.5 503.6L614.2 503.7L615.0 503.8L615.8 503.9L616.5 503.9L617.2 504.0L618.0 504.1L618.8 504.1L619.5 504.2L620.2 504.3L621.0 504.3L621.8 504.4L622.5 504.4L623.2 504.5L624.0 504.6L624.8 504.6L625.5 504.7L626.2 504.8L627.0 504.8L627.8 504.9L628.5 505.0L629.2 505.1L630.0 505.2L630.8 505.3L631.5 505.5L632.2 505.6L633.0 505.8L633.8 505.9L634.5 506.0L635.2 506.1L636.0 506.2L636.8 506.2L637.5 506.2L638.2 506.2L639.0 506.2L639.8 506.1L640.5 506.1L641.2 506.1L642.0 506.0L642.8 505.9L643.5 505.8L644.2 505.7L645.0 505.6L645.8 505.5L646.5 505.4L647.2 505.3L648.0 505.2L648.8 505.0L649.5 504.9L650.2 504.8L651.0 504.6"/>
<path d="M142.5 501.2L143.2 501.2L144.0 501.3L144.8 501.3L145.5 501.4L146.2 501.5L147.0 501.6L147.8 501.7L148.5 501.8L149.2 501.8L150.0 501.9L150.8 501.9L151.5 501.9L152.2 501.9L153.0 501.8L153.8 501.8L154.5 501.7L155.2 501.7L156.0 501.6L156.8 501.5L157.5 501.4L158.2 501.3L159.0 501.2L159.8 501.1L160.5 501.0L161.2 500.9L162.0 500.9L162.8 500.8L163.5 500.8L164.2 500.7L165.0 500.7L165.8 500.7L166.5 500.7L167.2 500.6L168.0 500.6L168.8 500.5L169.5 500.5L170.2 500.4L171.0 500.2L171.8 500.1L172.5 499.9L173.2 499.8L174.0 499.6L174.8 499.3L175.5 499.1L176.2 498.9L177.0 498.6L177.8 498.4L178.5 498.2L179.2 498.0L180.0 497.8L180.8 497.7L181.5 497.5L182.2 497.4L183.0 497.3L183.8 497.2L184.5 497.1L185.2 497.1L186.0 497.0L186.8 497.0L187.5 496.9L188.2 496.9L189.0 496.8L189.8 496.7L190.5 496.6L191.2 496.5L192.0 496.4L192.8 496.2L193.5 496.0L194.2 495.8L195.0 495.6L195.8 495.3L196.5 495.1L197.2 494.8L198.0 494.6L198.8 494.3L199.5 494.0L200.2 493.8L201.0 493.6L201.8 493.4L202.5 493.2L203.2 493.0L204.0 492.8L204.8 492.6L205.5 492.4L206.2 492.3L207.0 492.1L207.8 491.9L208.5 491.7L209.2 491.6L210.0 491.4L210.8 491.1L211.5 490.9L212.2 490.7L213.0 490.5L213.8 490.3L214.5 490.0L215.2 489.8L216.0 489.6L216.8 489.3L217.5 489.1L218.2 488.8L219.0 488.6L219.8 488.3L220.5 488.1L221.2 487.8L222.0 487.6L222.8 487.3L223.5 487.0L224.2 486.7L225.0 486.4L225.8 486.1L226.5 485.8L227.2 485.5L228.0 485.1L228.8 484.7L229.5 484.4L230.2 484.0L231.0 483.5L231.8 483.1L232.5 482.6L233.2 482.1L234.0 481.6L234.8 481.1L235.5 480.6L236.2 480.0L237.0 479.5L237.8 479.1L238.5 478.6L239.2 478.1L240.0 477.7L240.8 477.2L241.5 476.8L242.2 476.3L243.0 475.8L243.8 475.4L244.5 474.9L245.2 474.4L246.0 474.0L246.8 473.5L247.5 473.0L248.2 472.6L249.0 472.1L249.8 471.7L250.5 471.3L251.2 470.8L252.0 470.5L252.8 470.1L253.5 469.7L254.2 469.3L255.0 469.0L255.8 468.6L256.5 468.2L257.2 467.8L258.0 467.4L258.8 467.0L259.5 466.5L260.2 466.0L261.0 465.5L261.8 465.0L262.5 464.4L263.2 463.8L264.0 463.2L264.8 462.6L265.5 462.0L266.2 461.3L267.0 460.7L267.8 460.0L268.5 459.4L269.2 458.7L270.0 457.9L270.8 457.2L271.5 456.4L272.2 455.6L273.0 454.8L273.8 453.9L274.5 453.0L275.2 452.0L276.0 451.1L276.8 450.1L277.5 449.1L278.2 448.1L279.0 447.1L279.8 446.2L280.5 445.2L281.2 444.3L282.0 443.4L282.8 442.5L283.5 441.5L284.2 440.4L285.0 439.2L285.8 437.7L286.5 436.2L287.2 434.6L288.0 432.9L288.8 431.4L289.5 429.8L290.2 428.2L291.0 426.6L291.8 425.0L292.5 423.4L293.2 421.8L294.0 420.1L294.8 418.4L295.5 416.7L296.2 415.0L297.0 413.3L297.8 411.6L298.5 409.8L299.2 408.1L300.0 406.2L300.8 404.3L301.5 402.3L302.2 400.2L303.0 398.0L303.8 395.6L304.5 393.2L305.2 390.7L306.0 388.2L306.8 385.7L307.5 383.2L308.2 380.6L309.0 377.9L309.8 375.2L310.5 372.2L311.2 368.9L312.0 365.4L312.8 361.8L313.5 358.4L314.2 355.2L315.0 352.0L315.8 348.9L316.5 345.8L317.2 342.6L318.0 339.4L318.8 336.3L319.5 333.2L320.2 330.1L321.0 326.9L321.8 323.6L322.5 320.2L323.2 316.5L324.0 312.7L324.8 308.5L325.5 304.1L326.2 299.6L327.0 295.0L327.8 290.5L328.5 285.8L329.2 280.9L330.0 276.0L330.8 271.4L331.5 267.2L332.2 263.5L333.0 259.9L333.8 256.6L334.5 253.5L335.2 250.3L336.0 247.3L336.8 244.7L337.5 242.6L338.2 240.8L339.0 239.2L339.8 237.8L340.5 236.6L341.2 235.6L342.0 234.9L342.8 234.2L343.5 233.7L344.2 233.2L345.0 232.7L345.8 232.1L346.5 231.4L347.2 230.7L348.0 229.9L348.8 229.2L349.5 228.3L350.2 227.3L351.0 226.1L351.8 224.6L352.5 222.8L353.2 220.8L354.0 218.9L354.8 217.0L355.5 215.1L356.2 213.2L357.0 211.1L357.8 209.1L358.5 206.9L359.2 204.6L360.0 202.2L360.8 199.7L361.5 197.2L362.2 194.7L363.0 192.2L363.8 189.7L364.5 187.3L365.2 184.8L366.0 182.4L366.8 180.0L367.5 177.6L368.2 175.3L369.0 172.9L369.8 170.5L370.5 168.1L371.2 165.7L372.0 163.2L372.8 160.6L373.5 157.8L374.2 155.0L375.0 152.0L375.8 149.0L376.5 146.1L377.2 143.3L378.0 140.6L378.8 138.0L379.5 135.6L380.2 133.4L381.0 131.3L381.8 129.4L382.5 127.5L383.2 125.8L384.0 124.2L384.8 122.7L385.5 121.2L386.2 119.8L387.0 118.4L387.8 117.1L388.5 115.9L389.2 114.8L390.0 113.9L390.8 113.0L391.5 112.2L392.2 111.5L393.0 110.8L393.8 110.1L394.5 109.5L395.2 109.1L396.0 108.7L396.8 108.4L397.5 108.2L398.2 108.0L399.0 107.9L399.8 108.1L400.5 108.4L401.2 108.6L402.0 108.9L402.8 109.1L403.5 109.3L404.2 109.6L405.0 110.0L405.8 110.5L406.5 111.0L407.2 111.6L408.0 112.2L408.8 112.9L409.5 113.6L410.2 114.3L411.0 115.0L411.8 115.7L412.5 116.3L413.2 116.8L414.0 117.3L414.8 117.8L415.5 118.4L416.2 119.0L417.0 119.8L417.8 120.7L418.5 121.8L419.2 123.0L420.0 124.3L420.8 125.7L421.5 127.1L422.2 128.7L423.0 130.3L423.8 132.0L424.5 133.7L425.2 135.5L426.0 137.3L426.8 139.1L427.5 140.9L428.2 142.8L429.0 144.6L429.8 146.5L430.5 148.4L431.2 150.3L432.0 152.2L432.8 154.0L433.5 155.9L434.2 157.7L435.0 159.5L435.8 161.3L436.5 163.1L437.2 165.0L438.0 166.8L438.8 168.7L439.5 170.6L440.2 172.6L441.0 174.6L441.8 176.5L442.5 178.5L443.2 180.5L444.0 182.5L444.8 184.6L445.5 186.6L446.2 188.6L447.0 190.6L447.8 192.6L448.5 194.6L449.2 196.7L450.0 198.7L450.8 200.8L451.5 202.8L452.2 204.9L453.0 207.0L453.8 209.0L454.5 211.1L455.2 213.2L456.0 215.2L456.8 217.3L457.5 219.3L458.2 221.3L459.0 223.4L459.8 225.4L460.5 227.4L461.2 229.4L462.0 231.4L462.8 233.5L463.5 235.5L464.2 237.6L465.0 239.7L465.8 241.8L466.5 243.9L467.2 246.0L468.0 248.1L468.8 250.2L469.5 252.3L470.2 254.3L471.0 256.4L471.8 258.4L472.5 260.4L473.2 262.4L474.0 264.4L474.8 266.4L475.5 268.3L476.2 270.3L477.0 272.3L477.8 274.3L478.5 276.3L479.2 278.3L480.0 280.3L480.8 282.4L481.5 284.5L482.2 286.7L483.0 288.9L483.8 291.2L484.5 293.5L485.2 295.8L486.0 298.2L486.8 300.6L487.5 302.9L488.2 305.2L489.0 307.6L489.8 309.8L490.5 312.1L491.2 314.3L492.0 316.4L492.8 318.5L493.5 320.6L494.2 322.6L495.0 324.6L495.8 326.6L496.5 328.5L497.2 330.5L498.0 332.5L498.8 334.5L499.5 336.6L500.2 338.7L501.0 340.9L501.8 343.1L502.5 345.3L503.2 347.7L504.0 350.0L504.8 352.4L505.5 354.8L506.2 357.2L507.0 359.6L507.8 362.0L508.5 364.4L509.2 366.8L510.0 369.1L510.8 371.4L511.5 373.6L512.2 375.8L513.0 378.1L513.8 380.3L514.5 382.5L515.2 384.6L516.0 386.8L516.8 389.0L517.5 391.1L518.2 393.3L519.0 395.4L519.8 397.5L520.5 399.6L521.2 401.7L522.0 403.8L522.8 405.9L523.5 407.9L524.2 410.0L525.0 412.1L525.8 414.1L526.5 416.2L527.2 418.3L528.0 420.4L528.8 422.5L529.5 424.7L530.2 426.9L531.0 429.1L531.8 431.4L532.5 433.6L533.2 435.8L534.0 438.0L534.8 440.1L535.5 442.2L536.2 444.2L537.0 446.1L537.8 448.0L538.5 449.9L539.2 451.8L540.0 453.7L540.8 455.6L541.5 457.4L542.2 459.1L543.0 460.8L543.8 462.4L544.5 464.0L545.2 465.5L546.0 466.9L546.8 468.3L547.5 469.6L548.2 470.9L549.0 472.1L549.8 473.3L550.5 474.5L551.2 475.7L552.0 476.8L552.8 477.8L553.5 478.9L554.2 479.9L555.0 480.9L555.8 481.8L556.5 482.7L557.2 483.6L558.0 484.5L558.8 485.3L559.5 486.2L560.2 486.9L561.0 487.7L561.8 488.4L562.5 489.1L563.2 489.8L564.0 490.4L564.8 491.0L565.5 491.5L566.2 492.0L567.0 492.5L567.8 492.9L568.5 493.4L569.2 493.7L570.0 494.1L570.8 494.5L571.5 494.8L572.2 495.1L573.0 495.4L573.8 495.7L574.5 496.0L575.2 496.3L576.0 496.5L576.8 496.8L577.5 497.1L578.2 497.3L579.0 497.6L579.8 497.8L580.5 498.1L581.2 498.4L582.0 498.6L582.8 498.8L583.5 499.1L584.2 499.3L585.0 499.5L585.8 499.6L586.5 499.8L587.2 499.9L588.0 500.0L588.8 500.0L589.5 500.1L590.2 500.1L591.0 500.1L591.8 500.1L592.5 500.1L593.2 500.1L594.0 500.1L594.8 500.1L595.5 500.1L596.2 500.2L597.0 500.3L597.8 500.4L598.5 500.5L599.2 500.7L600.0 500.9L600.8 501.1L601.5 501.3L602.2 501.5L603.0 501.7L603.8 501.9L604.5 502.1L605.2 502.2L606.0 502.4L606.8 502.6L607.5 502.7L608.2 502.8L609.0 503.0L609.8 503.1L610.5 503.2L611.2 503.2L612.0 503.3L612.8 503.4L613.5 503.4L614.2 503.5L615.0 503.5L615.8 503.6L616.5 503.6L617.2 503.7L618.0 503.7L618.8 503.8L619.5 503.9L620.2 503.9L621.0 504.0L621.8 504.1L622.5 504.2L623.2 504.3L624.0 504.3L624.8 504.5L625.5 504.6L626.2 504.7L627.0 504.8L627.8 504.9L628.5 505.0L629.2 505.1L630.0 505.1L630.8 505.2L631.5 505.3L632.2 505.4L633.0 505.5L633.8 505.5L634.5 505.6L635.2 505.6L636.0 505.6L636.8 505.6L637.5 505.5L638.2 505.5L639.0 505.4L639.8 505.4L640.5 505.4L641.2 505.4L642.0 505.4L642.8 505.4L643.5 505.4L644.2 505.4L645.0 505.3L645.8 505.3L646.5 505.3L647.2 505.2L648.0 505.1L648.8 505.1L649.5 505.0L650.2 504.9L651.0 504.7"/>
<path d="M142.5 501.1L143.2 501.2L144.0 501.2L144.8 501.3L145.5 501.3L146.2 501.4L147.0 501.4L147.8 501.5L148.5 501.6L149.2 501.6L150.0 501.7L150.8 501.7L151.5 501.8L152.2 501.8L153.0 501.8L153.8 501.8L154.5 501.9L155.2 501.9L156.0 501.9L156.8 501.8L157.5 501.8L158.2 501.8L159.0 501.8L159.8 501.7L160.5 501.7L161.2 501.6L162.0 501.6L162.8 501.5L163.5 501.4L164.2 501.3L165.0 501.2L165.8 501.1L166.5 500.9L167.2 500.8L168.0 500.6L168.8 500.4L169.5 500.3L170.2 500.0L171.0 499.8L171.8 499.6L172.5 499.4L173.2 499.2L174.0 498.9L174.8 498.7L175.5 498.5L176.2 498.3L177.0 498.1L177.8 497.9L178.5 497.7L179.2 497.6L180.0 497.5L180.8 497.4L181.5 497.3L182.2 497.2L183.0 497.1L183.8 497.1L184.5 497.0L185.2 497.0L186.0 496.9L186.8 496.9L187.5 496.9L188.2 496.8L189.0 496.7L189.8 496.7L190.5 496.6L191.2 496.5L192.0 496.4L192.8 496.2L193.5 496.1L194.2 496.0L195.0 495.8L195.8 495.7L196.5 495.5L197.2 495.3L198.0 495.1L198.8 495.0L199.5 494.8L200.2 494.6L201.0 494.4L201.8 494.1L202.5 493.9L203.2 493.7L204.0 493.5L204.8 493.3L205.5 493.0L206.2 492.8L207.0 492.6L207.8 492.4L208.5 492.1L209.2 491.9L210.0 491.7L210.8 491.4L211.5 491.2L212.2 491.0L213.0 490.8L213.8 490.5L214.5 490.3L215.2 490.1L216.0 489.8L216.8 489.6L217.5 489.3L218.2 489.1L219.0 488.9L219.8 488.6L220.5 488.4L221.2 488.2L222.0 487.9L222.8 487.7L223.5 487.4L224.2 487.1L225.0 486.9L225.8 486.6L226.5 486.3L227.2 486.0L228.0 485.7L228.8 485.3L229.5 485.0L230.2 484.6L231.0 484.2L231.8 483.8L232.5 483.3L233.2 482.8L234.0 482.4L234.8 481.9L235.5 481.4L236.2 480.9L237.0 480.4L237.8 479.9L238.5 479.4L239.2 479.0L240.0 478.6L240.8 478.1L241.5 477.7L242.2 477.2L243.0 476.8L243.8 476.3L244.5 475.9L245.2 475.4L246.0 475.0L246.8 474.5L247.5 474.1L248.2 473.7L249.0 473.3L249.8 472.8L250.5 472.5L251.2 472.1L252.0 471.7L252.8 471.4L253.5 471.0L254.2 470.7L255.0 470.3L255.8 470.0L256.5 469.6L257.2 469.2L258.0 468.8L258.8 468.4L259.5 468.0L260.2 467.5L261.0 467.0L261.8 466.5L262.5 465.9L263.2 465.4L264.0 464.8L264.8 464.2L265.5 463.6L266.2 463.1L267.0 462.5L267.8 461.9L268.5 461.2L269.2 460.6L270.0 459.9L270.8 459.3L271.5 458.6L272.2 457.8L273.0 457.1L273.8 456.3L274.5 455.4L275.2 454.5L276.0 453.6L276.8 452.7L277.5 451.8L278.2 450.9L279.0 450.0L279.8 449.2L280.5 448.4L281.2 447.6L282.0 446.8L282.8 445.9L283.5 445.0L284.2 444.0L285.0 442.9L285.8 441.6L286.5 440.1L287.2 438.6L288.0 437.0L288.8 435.6L289.5 434.1L290.2 432.6L291.0 431.1L291.8 429.6L292.5 428.1L293.2 426.5L294.0 425.0L294.8 423.4L295.5 421.8L296.2 420.1L297.0 418.5L297.8 416.9L298.5 415.2L299.2 413.5L300.0 411.7L300.8 409.9L301.5 407.9L302.2 405.9L303.0 403.7L303.8 401.4L304.5 399.1L305.2 396.7L306.0 394.3L306.8 391.9L307.5 389.5L308.2 387.0L309.0 384.5L309.8 381.8L310.5 379.0L311.2 375.9L312.0 372.5L312.8 369.1L313.5 365.9L314.2 362.8L315.0 359.8L315.8 356.9L316.5 353.9L317.2 350.9L318.0 347.9L318.8 345.0L319.5 342.1L320.2 339.1L321.0 336.1L321.8 333.1L322.5 329.8L323.2 326.4L324.0 322.8L324.8 318.8L325.5 314.7L326.2 310.4L327.0 306.1L327.8 301.8L328.5 297.4L329.2 292.8L330.0 288.2L330.8 283.9L331.5 280.0L332.2 276.6L333.0 273.4L333.8 270.4L334.5 267.5L335.2 264.6L336.0 261.9L336.8 259.5L337.5 257.7L338.2 256.1L339.0 254.6L339.8 253.3L340.5 252.1L341.2 251.1L342.0 250.3L342.8 249.6L343.5 249.0L344.2 248.3L345.0 247.7L345.8 246.9L346.5 246.1L347.2 245.2L348.0 244.4L348.8 243.5L349.5 242.6L350.2 241.6L351.0 240.4L351.8 238.9L352.5 237.1L353.2 235.2L354.0 233.3L354.8 231.5L355.5 229.6L356.2 227.8L357.0 225.8L357.8 223.8L358.5 221.7L359.2 219.5L360.0 217.1L360.8 214.6L361.5 212.1L362.2 209.6L363.0 207.1L363.8 204.6L364.5 202.0L365.2 199.4L366.0 196.8L366.8 194.2L367.5 191.6L368.2 189.0L369.0 186.3L369.8 183.7L370.5 181.1L371.2 178.6L372.0 176.3L372.8 174.0L373.5 171.8L374.2 169.7L375.0 167.5L375.8 165.3L376.5 163.1L377.2 160.7L378.0 158.2L378.8 155.5L379.5 152.7L380.2 149.9L381.0 147.1L381.8 144.4L382.5 141.8L383.2 139.4L384.0 137.3L384.8 135.3L385.5 133.4L386.2 131.6L387.0 129.9L387.8 128.4L388.5 126.9L389.2 125.6L390.0 124.4L390.8 123.4L391.5 122.4L392.2 121.4L393.0 120.6L393.8 119.7L394.5 118.9L395.2 118.2L396.0 117.6L396.8 117.1L397.5 116.6L398.2 116.2L399.0 115.9L399.8 115.8L400.5 115.8L401.2 115.8L402.0 115.8L402.8 115.7L403.5 115.7L404.2 115.7L405.0 115.8L405.8 116.0L406.5 116.3L407.2 116.6L408.0 117.0L408.8 117.4L409.5 117.9L410.2 118.4L411.0 119.0L411.8 119.4L412.5 119.8L413.2 120.0L414.0 120.1L414.8 120.1L415.5 120.1L416.2 120.3L417.0 120.6L417.8 121.1L418.5 121.8L419.2 122.8L420.0 123.9L420.8 125.2L421.5 126.6L422.2 128.1L423.0 129.7L423.8 131.3L424.5 133.0L425.2 134.7L426.0 136.3L426.8 138.0L427.5 139.6L428.2 141.3L429.0 142.9L429.8 144.6L430.5 146.3L431.2 147.9L432.0 149.6L432.8 151.2L433.5 152.8L434.2 154.5L435.0 156.1L435.8 157.7L436.5 159.4L437.2 161.1L438.0 162.8L438.8 164.6L439.5 166.4L440.2 168.3L441.0 170.2L441.8 172.0L442.5 173.9L443.2 175.9L444.0 177.8L444.8 179.7L445.5 181.6L446.2 183.5L447.0 185.4L447.8 187.3L448.5 189.3L449.2 191.2L450.0 193.1L450.8 195.0L451.5 196.9L452.2 198.9L453.0 200.8L453.8 202.8L454.5 204.7L455.2 206.7L456.0 208.7L456.8 210.7L457.5 212.7L458.2 214.7L459.0 216.8L459.8 218.8L460.5 220.9L461.2 223.0L462.0 225.1L462.8 227.3L463.5 229.5L464.2 231.7L465.0 233.9L465.8 236.1L466.5 238.3L467.2 240.5L468.0 242.6L468.8 244.8L469.5 246.9L470.2 249.0L471.0 251.0L471.8 253.0L472.5 254.9L473.2 256.8L474.0 258.6L474.8 260.4L475.5 262.2L476.2 264.0L477.0 265.8L477.8 267.6L478.5 269.4L479.2 271.3L480.0 273.2L480.8 275.2L481.5 277.2L482.2 279.4L483.0 281.6L483.8 283.8L484.5 286.2L485.2 288.6L486.0 291.0L486.8 293.4L487.5 295.8L488.2 298.3L489.0 300.7L489.8 303.0L490.5 305.3L491.2 307.6L492.0 309.8L492.8 312.0L493.5 314.1L494.2 316.1L495.0 318.2L495.8 320.2L496.5 322.3L497.2 324.3L498.0 326.4L498.8 328.5L499.5 330.6L500.2 332.8L501.0 335.0L501.8 337.3L502.5 339.6L503.2 342.0L504.0 344.5L504.8 346.9L505.5 349.4L506.2 351.8L507.0 354.3L507.8 356.8L508.5 359.2L509.2 361.6L510.0 363.9L510.8 366.2L511.5 368.5L512.2 370.8L513.0 373.0L513.8 375.2L514.5 377.4L515.2 379.6L516.0 381.8L516.8 384.0L517.5 386.2L518.2 388.4L519.0 390.5L519.8 392.7L520.5 394.8L521.2 397.0L522.0 399.1L522.8 401.2L523.5 403.3L524.2 405.4L525.0 407.5L525.8 409.6L526.5 411.7L527.2 413.8L528.0 415.9L528.8 418.1L529.5 420.3L530.2 422.5L531.0 424.7L531.8 427.0L532.5 429.2L533.2 431.5L534.0 433.6L534.8 435.8L535.5 437.9L536.2 439.9L537.0 441.8L537.8 443.8L538.5 445.8L539.2 447.7L540.0 449.6L540.8 451.5L541.5 453.4L542.2 455.2L543.0 456.9L543.8 458.6L544.5 460.3L545.2 461.8L546.0 463.3L546.8 464.7L547.5 466.1L548.2 467.4L549.0 468.7L549.8 470.0L550.5 471.2L551.2 472.4L552.0 473.6L552.8 474.8L553.5 475.9L554.2 476.9L555.0 478.0L555.8 479.0L556.5 480.0L557.2 480.9L558.0 481.9L558.8 482.8L559.5 483.7L560.2 484.6L561.0 485.4L561.8 486.3L562.5 487.1L563.2 487.8L564.0 488.5L564.8 489.2L565.5 489.9L566.2 490.5L567.0 491.0L567.8 491.6L568.5 492.1L569.2 492.5L570.0 493.0L570.8 493.4L571.5 493.8L572.2 494.2L573.0 494.6L573.8 495.0L574.5 495.3L575.2 495.7L576.0 496.0L576.8 496.3L577.5 496.7L578.2 497.0L579.0 497.3L579.8 497.5L580.5 497.8L581.2 498.0L582.0 498.2L582.8 498.4L583.5 498.6L584.2 498.7L585.0 498.8L585.8 498.9L586.5 499.0L587.2 499.1L588.0 499.1L588.8 499.2L589.5 499.2L590.2 499.3L591.0 499.3L591.8 499.4L592.5 499.5L593.2 499.6L594.0 499.7L594.8 499.8L595.5 499.9L596.2 500.1L597.0 500.2L597.8 500.4L598.5 500.5L599.2 500.7L600.0 500.9L600.8 501.0L601.5 501.2L602.2 501.4L603.0 501.5L603.8 501.7L604.5 501.8L605.2 502.0L606.0 502.1L606.8 502.2L607.5 502.4L608.2 502.5L609.0 502.6L609.8 502.7L610.5 502.8L611.2 502.9L612.0 503.0L612.8 503.1L613.5 503.2L614.2 503.2L615.0 503.3L615.8 503.4L616.5 503.5L617.2 503.6L618.0 503.6L618.8 503.7L619.5 503.8L620.2 503.8L621.0 503.9L621.8 503.9L622.5 504.0L623.2 504.0L624.0 504.1L624.8 504.1L625.5 504.2L626.2 504.3L627.0 504.4L627.8 504.4L628.5 504.5L629.2 504.6L630.0 504.7L630.8 504.8L631.5 505.0L632.2 505.1L633.0 505.2L633.8 505.3L634.5 505.4L635.2 505.5L636.0 505.5L636.8 505.5L637.5 505.5L638.2 505.5L639.0 505.4L639.8 505.4L640.5 505.3L641.2 505.3L642.0 505.2L642.8 505.2L643.5 505.1L644.2 505.1L645.0 505.0L645.8 504.9L646.5 504.8L647.2 504.7L648.0 504.6L648.8 504.5L649.5 504.4L650.2 504.3L651.0 504.2"/>
<path d="M142.5 502.4L143.2 502.4L144.0 502.4L144.8 502.4L145.5 502.4L146.2 502.4L147.0 502.4L147.8 502.3L148.5 502.3L149.2 502.2L150.0 502.2L150.8 502.1L151.5 502.0L152.2 501.9L153.0 501.8L153.8 501.7L154.5 501.6L155.2 501.5L156.0 501.4L156.8 501.3L157.5 501.2L158.2 501.1L159.0 501.0L159.8 500.9L160.5 500.9L161.2 500.8L162.0 500.7L162.8 500.7L163.5 500.6L164.2 500.6L165.0 500.6L165.8 500.5L166.5 500.5L167.2 500.5L168.0 500.4L168.8 500.4L169.5 500.3L170.2 500.3L171.0 500.2L171.8 500.1L172.5 500.0L173.2 499.8L174.0 499.7L174.8 499.6L175.5 499.4L176.2 499.2L177.0 499.0L177.8 498.9L178.5 498.7L179.2 498.5L180.0 498.3L180.8 498.1L181.5 497.9L182.2 497.8L183.0 497.6L183.8 497.4L184.5 497.3L185.2 497.1L186.0 497.0L186.8 496.8L187.5 496.7L188.2 496.5L189.0 496.4L189.8 496.3L190.5 496.1L191.2 496.0L192.0 495.9L192.8 495.7L193.5 495.6L194.2 495.5L195.0 495.4L195.8 495.2L196.5 495.1L197.2 495.0L198.0 494.8L198.8 494.7L199.5 494.5L200.2 494.4L201.0 494.2L201.8 494.1L202.5 493.9L203.2 493.8L204.0 493.6L204.8 493.4L205.5 493.2L206.2 493.0L207.0 492.8L207.8 492.6L208.5 492.3L209.2 492.1L210.0 491.9L210.8 491.7L211.5 491.4L212.2 491.2L213.0 490.9L213.8 490.7L214.5 490.4L215.2 490.2L216.0 489.9L216.8 489.6L217.5 489.4L218.2 489.1L219.0 488.9L219.8 488.6L220.5 488.3L221.2 488.1L222.0 487.8L222.8 487.6L223.5 487.3L224.2 487.0L225.0 486.8L225.8 486.5L226.5 486.2L227.2 486.0L228.0 485.7L228.8 485.4L229.5 485.1L230.2 484.7L231.0 484.4L231.8 484.0L232.5 483.5L233.2 483.1L234.0 482.6L234.8 482.1L235.5 481.6L236.2 481.1L237.0 480.6L237.8 480.1L238.5 479.6L239.2 479.1L240.0 478.7L240.8 478.2L241.5 477.7L242.2 477.2L243.0 476.8L243.8 476.3L244.5 475.8L245.2 475.4L246.0 475.0L246.8 474.6L247.5 474.2L248.2 473.8L249.0 473.5L249.8 473.1L250.5 472.8L251.2 472.5L252.0 472.2L252.8 471.9L253.5 471.7L254.2 471.4L255.0 471.1L255.8 470.8L256.5 470.5L257.2 470.2L258.0 469.8L258.8 469.5L259.5 469.0L260.2 468.6L261.0 468.1L261.8 467.6L262.5 467.1L263.2 466.6L264.0 466.1L264.8 465.5L265.5 464.9L266.2 464.4L267.0 463.8L267.8 463.2L268.5 462.6L269.2 462.0L270.0 461.4L270.8 460.7L271.5 460.0L272.2 459.3L273.0 458.6L273.8 457.8L274.5 457.0L275.2 456.2L276.0 455.3L276.8 454.5L277.5 453.6L278.2 452.8L279.0 452.0L279.8 451.2L280.5 450.5L281.2 449.8L282.0 449.1L282.8 448.3L283.5 447.6L284.2 446.7L285.0 445.7L285.8 444.5L286.5 443.2L287.2 441.8L288.0 440.4L288.8 439.0L289.5 437.7L290.2 436.4L291.0 435.1L291.8 433.7L292.5 432.4L293.2 431.0L294.0 429.6L294.8 428.2L295.5 426.8L296.2 425.4L297.0 423.9L297.8 422.5L298.5 421.0L299.2 419.5L300.0 418.0L300.8 416.4L301.5 414.6L302.2 412.8L303.0 410.8L303.8 408.8L304.5 406.6L305.2 404.4L306.0 402.2L306.8 400.0L307.5 397.7L308.2 395.4L309.0 393.0L309.8 390.5L310.5 387.8L311.2 384.8L312.0 381.6L312.8 378.2L313.5 375.1L314.2 372.1L315.0 369.2L315.8 366.3L316.5 363.5L317.2 360.5L318.0 357.6L318.8 354.7L319.5 351.8L320.2 348.9L321.0 345.9L321.8 342.8L322.5 339.6L323.2 336.2L324.0 332.6L324.8 328.7L325.5 324.5L326.2 320.3L327.0 316.1L327.8 311.9L328.5 307.5L329.2 303.0L330.0 298.5L330.8 294.3L331.5 290.6L332.2 287.3L333.0 284.2L333.8 281.4L334.5 278.7L335.2 276.0L336.0 273.4L336.8 271.2L337.5 269.5L338.2 268.1L339.0 266.8L339.8 265.7L340.5 264.7L341.2 263.9L342.0 263.3L342.8 262.7L343.5 262.2L344.2 261.7L345.0 261.1L345.8 260.5L346.5 259.7L347.2 258.9L348.0 258.2L348.8 257.4L349.5 256.5L350.2 255.6L351.0 254.5L351.8 253.1L352.5 251.4L353.2 249.6L354.0 247.8L354.8 246.1L355.5 244.3L356.2 242.5L357.0 240.6L357.8 238.7L358.5 236.6L359.2 234.4L360.0 232.1L360.8 229.6L361.5 227.2L362.2 224.7L363.0 222.2L363.8 219.7L364.5 217.1L365.2 214.5L366.0 211.9L366.8 209.2L367.5 206.5L368.2 203.8L369.0 201.0L369.8 198.2L370.5 195.5L371.2 192.9L372.0 190.4L372.8 188.0L373.5 185.6L374.2 183.4L375.0 181.2L375.8 179.0L376.5 176.9L377.2 174.9L378.0 172.8L378.8 170.8L379.5 168.6L380.2 166.5L381.0 164.3L381.8 161.9L382.5 159.4L383.2 156.7L384.0 154.0L384.8 151.3L385.5 148.7L386.2 146.1L387.0 143.7L387.8 141.5L388.5 139.6L389.2 137.9L390.0 136.3L390.8 134.9L391.5 133.6L392.2 132.3L393.0 131.1L393.8 129.9L394.5 128.8L395.2 127.8L396.0 126.9L396.8 126.2L397.5 125.5L398.2 124.8L399.0 124.3L399.8 124.0L400.5 123.8L401.2 123.7L402.0 123.4L402.8 123.1L403.5 122.9L404.2 122.6L405.0 122.5L405.8 122.3L406.5 122.3L407.2 122.3L408.0 122.3L408.8 122.5L409.5 122.6L410.2 122.9L411.0 123.3L411.8 123.7L412.5 124.2L413.2 124.7L414.0 125.3L414.8 125.8L415.5 126.4L416.2 127.0L417.0 127.6L417.8 128.3L418.5 128.9L419.2 129.6L420.0 130.2L420.8 130.8L421.5 131.5L422.2 132.2L423.0 133.0L423.8 133.8L424.5 134.8L425.2 135.9L426.0 137.0L426.8 138.2L427.5 139.5L428.2 140.9L429.0 142.3L429.8 143.7L430.5 145.1L431.2 146.6L432.0 148.0L432.8 149.4L433.5 150.7L434.2 152.1L435.0 153.5L435.8 155.0L436.5 156.4L437.2 157.9L438.0 159.5L438.8 161.1L439.5 162.8L440.2 164.6L441.0 166.3L441.8 168.1L442.5 170.0L443.2 171.8L444.0 173.6L444.8 175.5L445.5 177.3L446.2 179.2L447.0 181.0L447.8 182.8L448.5 184.7L449.2 186.5L450.0 188.4L450.8 190.2L451.5 192.1L452.2 193.9L453.0 195.8L453.8 197.7L454.5 199.6L455.2 201.6L456.0 203.5L456.8 205.5L457.5 207.5L458.2 209.4L459.0 211.4L459.8 213.4L460.5 215.5L461.2 217.5L462.0 219.6L462.8 221.7L463.5 223.8L464.2 225.9L465.0 228.1L465.8 230.2L466.5 232.4L467.2 234.5L468.0 236.6L468.8 238.7L469.5 240.8L470.2 242.8L471.0 244.8L471.8 246.8L472.5 248.7L473.2 250.5L474.0 252.4L474.8 254.1L475.5 255.9L476.2 257.7L477.0 259.4L477.8 261.2L478.5 263.0L479.2 264.8L480.0 266.7L480.8 268.7L481.5 270.8L482.2 272.9L483.0 275.1L483.8 277.4L484.5 279.8L485.2 282.2L486.0 284.6L486.8 287.1L487.5 289.6L488.2 292.0L489.0 294.5L489.8 296.9L490.5 299.2L491.2 301.5L492.0 303.7L492.8 305.9L493.5 308.0L494.2 310.1L495.0 312.1L495.8 314.1L496.5 316.1L497.2 318.2L498.0 320.2L498.8 322.2L499.5 324.3L500.2 326.5L501.0 328.7L501.8 330.9L502.5 333.2L503.2 335.6L504.0 338.0L504.8 340.4L505.5 342.8L506.2 345.3L507.0 347.7L507.8 350.2L508.5 352.6L509.2 355.0L510.0 357.4L510.8 359.7L511.5 362.0L512.2 364.3L513.0 366.5L513.8 368.8L514.5 371.0L515.2 373.3L516.0 375.5L516.8 377.7L517.5 379.9L518.2 382.1L519.0 384.3L519.8 386.6L520.5 388.7L521.2 390.9L522.0 393.1L522.8 395.2L523.5 397.4L524.2 399.5L525.0 401.7L525.8 403.8L526.5 406.0L527.2 408.1L528.0 410.3L528.8 412.5L529.5 414.8L530.2 417.0L531.0 419.3L531.8 421.6L532.5 423.9L533.2 426.2L534.0 428.4L534.8 430.6L535.5 432.7L536.2 434.8L537.0 436.8L537.8 438.7L538.5 440.7L539.2 442.7L540.0 444.6L540.8 446.5L541.5 448.4L542.2 450.2L543.0 452.0L543.8 453.7L544.5 455.4L545.2 457.0L546.0 458.5L546.8 459.9L547.5 461.4L548.2 462.8L549.0 464.1L549.8 465.5L550.5 466.8L551.2 468.1L552.0 469.4L552.8 470.7L553.5 471.9L554.2 473.1L555.0 474.3L555.8 475.5L556.5 476.6L557.2 477.8L558.0 478.9L558.8 480.0L559.5 481.0L560.2 482.1L561.0 483.1L561.8 484.0L562.5 485.0L563.2 485.8L564.0 486.7L564.8 487.5L565.5 488.2L566.2 488.9L567.0 489.6L567.8 490.2L568.5 490.8L569.2 491.4L570.0 491.9L570.8 492.4L571.5 492.8L572.2 493.3L573.0 493.7L573.8 494.1L574.5 494.4L575.2 494.8L576.0 495.1L576.8 495.4L577.5 495.7L578.2 496.0L579.0 496.3L579.8 496.6L580.5 496.9L581.2 497.1L582.0 497.4L582.8 497.6L583.5 497.8L584.2 498.0L585.0 498.2L585.8 498.4L586.5 498.6L587.2 498.7L588.0 498.8L588.8 498.9L589.5 499.0L590.2 499.1L591.0 499.1L591.8 499.1L592.5 499.2L593.2 499.2L594.0 499.2L594.8 499.2L595.5 499.3L596.2 499.3L597.0 499.4L597.8 499.6L598.5 499.7L599.2 499.9L600.0 500.1L600.8 500.3L601.5 500.5L602.2 500.7L603.0 501.0L603.8 501.2L604.5 501.4L605.2 501.6L606.0 501.8L606.8 502.0L607.5 502.1L608.2 502.3L609.0 502.4L609.8 502.5L610.5 502.6L611.2 502.7L612.0 502.8L612.8 502.9L613.5 502.9L614.2 503.0L615.0 503.1L615.8 503.1L616.5 503.2L617.2 503.3L618.0 503.4L618.8 503.4L619.5 503.5L620.2 503.6L621.0 503.7L621.8 503.7L622.5 503.8L623.2 503.9L624.0 504.0L624.8 504.1L625.5 504.1L626.2 504.2L627.0 504.3L627.8 504.3L628.5 504.4L629.2 504.4L630.0 504.5L630.8 504.5L631.5 504.6L632.2 504.7L633.0 504.7L633.8 504.8L634.5 504.8L635.2 504.9L636.0 504.9L636.8 505.0L637.5 505.0L638.2 505.0L639.0 505.0L639.8 505.0L640.5 505.0L641.2 505.0L642.0 505.0L642.8 505.0L643.5 504.9L644.2 504.9L645.0 504.8L645.8 504.7L646.5 504.6L647.2 504.5L648.0 504.4L648.8 504.2L649.5 504.1L650.2 503.9L651.0 503.7"/>
<path d="M142.5 502.0L143.2 502.1L144.0 502.1L144.8 502.1L145.5 502.1L146.2 502.1L147.0 502.2L147.8 502.2L148.5 502.2L149.2 502.2L150.0 502.2L150.8 502.2L151.5 502.1L152.2 502.1L153.0 502.1L153.8 502.0L154.5 501.9L155.2 501.9L156.0 501.8L156.8 501.7L157.5 501.6L158.2 501.5L159.0 501.4L159.8 501.3L160.5 501.2L161.2 501.1L162.0 501.0L162.8 500.9L163.5 500.7L164.2 500.6L165.0 500.5L165.8 500.4L166.5 500.3L167.2 500.2L168.0 500.1L168.8 499.9L169.5 499.8L170.2 499.7L171.0 499.6L171.8 499.4L172.5 499.3L173.2 499.2L174.0 499.1L174.8 498.9L175.5 498.8L176.2 498.7L177.0 498.6L177.8 498.5L178.5 498.4L179.2 498.4L180.0 498.3L180.8 498.2L181.5 498.1L182.2 498.1L183.0 498.0L183.8 497.9L184.5 497.8L185.2 497.7L186.0 497.6L186.8 497.5L187.5 497.4L188.2 497.2L189.0 497.1L189.8 496.9L190.5 496.7L191.2 496.5L192.0 496.3L192.8 496.0L193.5 495.8L194.2 495.6L195.0 495.3L195.8 495.0L196.5 494.8L197.2 494.5L198.0 494.3L198.8 494.1L199.5 493.9L200.2 493.7L201.0 493.5L201.8 493.3L202.5 493.1L203.2 492.9L204.0 492.8L204.8 492.6L205.5 492.5L206.2 492.4L207.0 492.2L207.8 492.1L208.5 491.9L209.2 491.8L210.0 491.6L210.8 491.4L211.5 491.2L212.2 491.0L213.0 490.8L213.8 490.6L214.5 490.4L215.2 490.2L216.0 490.0L216.8 489.8L217.5 489.6L218.2 489.4L219.0 489.2L219.8 489.0L220.5 488.7L221.2 488.5L222.0 488.3L222.8 488.0L223.5 487.8L224.2 487.5L225.0 487.2L225.8 487.0L226.5 486.7L227.2 486.4L228.0 486.0L228.8 485.7L229.5 485.4L230.2 485.0L231.0 484.6L231.8 484.2L232.5 483.8L233.2 483.3L234.0 482.9L234.8 482.4L235.5 481.9L236.2 481.4L237.0 480.9L237.8 480.5L238.5 480.0L239.2 479.6L240.0 479.1L240.8 478.7L241.5 478.2L242.2 477.8L243.0 477.4L243.8 476.9L244.5 476.5L245.2 476.1L246.0 475.7L246.8 475.3L247.5 474.9L248.2 474.5L249.0 474.2L249.8 473.8L250.5 473.5L251.2 473.2L252.0 472.9L252.8 472.6L253.5 472.4L254.2 472.1L255.0 471.8L255.8 471.6L256.5 471.3L257.2 471.0L258.0 470.6L258.8 470.3L259.5 469.9L260.2 469.4L261.0 469.0L261.8 468.5L262.5 468.0L263.2 467.5L264.0 467.0L264.8 466.5L265.5 466.0L266.2 465.4L267.0 464.9L267.8 464.3L268.5 463.8L269.2 463.2L270.0 462.6L270.8 462.0L271.5 461.3L272.2 460.7L273.0 460.0L273.8 459.2L274.5 458.5L275.2 457.7L276.0 456.9L276.8 456.1L277.5 455.3L278.2 454.6L279.0 453.8L279.8 453.2L280.5 452.5L281.2 451.9L282.0 451.3L282.8 450.7L283.5 450.0L284.2 449.2L285.0 448.3L285.8 447.1L286.5 445.9L287.2 444.5L288.0 443.2L288.8 441.9L289.5 440.6L290.2 439.3L291.0 438.0L291.8 436.6L292.5 435.3L293.2 434.0L294.0 432.6L294.8 431.2L295.5 429.9L296.2 428.5L297.0 427.1L297.8 425.7L298.5 424.3L299.2 422.9L300.0 421.4L300.8 419.9L301.5 418.3L302.2 416.5L303.0 414.7L303.8 412.7L304.5 410.7L305.2 408.6L306.0 406.5L306.8 404.3L307.5 402.2L308.2 400.0L309.0 397.8L309.8 395.4L310.5 392.8L311.2 389.9L312.0 386.8L312.8 383.5L313.5 380.5L314.2 377.6L315.0 374.8L315.8 372.1L316.5 369.4L317.2 366.6L318.0 363.8L318.8 361.1L319.5 358.4L320.2 355.7L321.0 353.0L321.8 350.3L322.5 347.4L323.2 344.3L324.0 341.0L324.8 337.5L325.5 333.8L326.2 330.0L327.0 326.1L327.8 322.3L328.5 318.3L329.2 314.2L330.0 310.1L330.8 306.2L331.5 302.8L332.2 299.7L333.0 296.9L333.8 294.3L334.5 291.8L335.2 289.2L336.0 286.8L336.8 284.6L337.5 283.0L338.2 281.6L339.0 280.4L339.8 279.2L340.5 278.2L341.2 277.4L342.0 276.7L342.8 276.1L343.5 275.6L344.2 275.0L345.0 274.4L345.8 273.8L346.5 273.0L347.2 272.2L348.0 271.4L348.8 270.6L349.5 269.8L350.2 268.8L351.0 267.7L351.8 266.3L352.5 264.6L353.2 262.9L354.0 261.1L354.8 259.4L355.5 257.7L356.2 256.0L357.0 254.2L357.8 252.4L358.5 250.5L359.2 248.4L360.0 246.1L360.8 243.7L361.5 241.4L362.2 239.0L363.0 236.5L363.8 234.0L364.5 231.5L365.2 228.9L366.0 226.3L366.8 223.6L367.5 220.9L368.2 218.1L369.0 215.2L369.8 212.3L370.5 209.4L371.2 206.5L372.0 203.7L372.8 201.0L373.5 198.4L374.2 195.9L375.0 193.4L375.8 190.9L376.5 188.6L377.2 186.4L378.0 184.2L378.8 182.1L379.5 180.1L380.2 178.1L381.0 176.3L381.8 174.4L382.5 172.6L383.2 170.7L384.0 168.8L384.8 166.9L385.5 164.7L386.2 162.4L387.0 159.8L387.8 157.2L388.5 154.4L389.2 151.8L390.0 149.2L390.8 146.8L391.5 144.6L392.2 142.7L393.0 141.0L393.8 139.5L394.5 138.0L395.2 136.8L396.0 135.8L396.8 134.8L397.5 133.9L398.2 133.1L399.0 132.4L399.8 131.9L400.5 131.6L401.2 131.2L402.0 130.7L402.8 130.3L403.5 129.8L404.2 129.4L405.0 129.0L405.8 128.6L406.5 128.3L407.2 128.1L408.0 127.9L408.8 127.7L409.5 127.6L410.2 127.6L411.0 127.7L411.8 127.8L412.5 127.9L413.2 128.1L414.0 128.3L414.8 128.5L415.5 128.8L416.2 129.1L417.0 129.5L417.8 129.9L418.5 130.4L419.2 130.9L420.0 131.4L420.8 131.9L421.5 132.4L422.2 133.0L423.0 133.7L423.8 134.4L424.5 135.3L425.2 136.3L426.0 137.3L426.8 138.4L427.5 139.6L428.2 140.8L429.0 142.1L429.8 143.5L430.5 144.8L431.2 146.0L432.0 147.3L432.8 148.4L433.5 149.6L434.2 150.7L435.0 151.9L435.8 153.0L436.5 154.2L437.2 155.4L438.0 156.7L438.8 158.0L439.5 159.5L440.2 161.0L441.0 162.6L441.8 164.2L442.5 165.9L443.2 167.6L444.0 169.3L444.8 171.1L445.5 172.8L446.2 174.6L447.0 176.4L447.8 178.2L448.5 179.9L449.2 181.7L450.0 183.5L450.8 185.3L451.5 187.1L452.2 188.9L453.0 190.7L453.8 192.6L454.5 194.5L455.2 196.4L456.0 198.3L456.8 200.2L457.5 202.2L458.2 204.1L459.0 206.1L459.8 208.1L460.5 210.2L461.2 212.2L462.0 214.3L462.8 216.4L463.5 218.5L464.2 220.6L465.0 222.8L465.8 224.9L466.5 227.1L467.2 229.2L468.0 231.4L468.8 233.5L469.5 235.6L470.2 237.6L471.0 239.6L471.8 241.6L472.5 243.5L473.2 245.4L474.0 247.3L474.8 249.1L475.5 250.9L476.2 252.7L477.0 254.5L477.8 256.3L478.5 258.2L479.2 260.0L480.0 262.0L480.8 263.9L481.5 266.0L482.2 268.1L483.0 270.3L483.8 272.6L484.5 274.9L485.2 277.2L486.0 279.6L486.8 282.1L487.5 284.5L488.2 286.9L489.0 289.2L489.8 291.6L490.5 293.8L491.2 296.0L492.0 298.2L492.8 300.3L493.5 302.4L494.2 304.4L495.0 306.4L495.8 308.4L496.5 310.4L497.2 312.4L498.0 314.5L498.8 316.6L499.5 318.7L500.2 320.9L501.0 323.1L501.8 325.5L502.5 327.8L503.2 330.2L504.0 332.7L504.8 335.2L505.5 337.7L506.2 340.2L507.0 342.7L507.8 345.2L508.5 347.6L509.2 350.0L510.0 352.4L510.8 354.7L511.5 357.0L512.2 359.3L513.0 361.6L513.8 363.8L514.5 366.1L515.2 368.3L516.0 370.6L516.8 372.8L517.5 375.0L518.2 377.2L519.0 379.5L519.8 381.7L520.5 383.9L521.2 386.1L522.0 388.3L522.8 390.5L523.5 392.7L524.2 394.9L525.0 397.1L525.8 399.2L526.5 401.4L527.2 403.6L528.0 405.8L528.8 408.0L529.5 410.3L530.2 412.6L531.0 414.9L531.8 417.2L532.5 419.5L533.2 421.8L534.0 424.0L534.8 426.2L535.5 428.3L536.2 430.4L537.0 432.4L537.8 434.3L538.5 436.3L539.2 438.3L540.0 440.2L540.8 442.1L541.5 444.0L542.2 445.9L543.0 447.7L543.8 449.5L544.5 451.2L545.2 452.9L546.0 454.5L546.8 456.0L547.5 457.5L548.2 459.1L549.0 460.5L549.8 462.0L550.5 463.5L551.2 464.9L552.0 466.3L552.8 467.7L553.5 469.0L554.2 470.4L555.0 471.7L555.8 473.0L556.5 474.2L557.2 475.5L558.0 476.7L558.8 477.9L559.5 479.1L560.2 480.3L561.0 481.4L561.8 482.5L562.5 483.5L563.2 484.5L564.0 485.5L564.8 486.4L565.5 487.2L566.2 488.0L567.0 488.8L567.8 489.5L568.5 490.1L569.2 490.7L570.0 491.3L570.8 491.8L571.5 492.4L572.2 492.8L573.0 493.3L573.8 493.7L574.5 494.0L575.2 494.4L576.0 494.7L576.8 495.1L577.5 495.4L578.2 495.7L579.0 495.9L579.8 496.2L580.5 496.5L581.2 496.8L582.0 497.0L582.8 497.3L583.5 497.5L584.2 497.7L585.0 497.9L585.8 498.1L586.5 498.2L587.2 498.4L588.0 498.5L588.8 498.6L589.5 498.6L590.2 498.7L591.0 498.7L591.8 498.7L592.5 498.7L593.2 498.7L594.0 498.7L594.8 498.7L595.5 498.7L596.2 498.8L597.0 498.9L597.8 499.1L598.5 499.2L599.2 499.4L600.0 499.6L600.8 499.9L601.5 500.1L602.2 500.4L603.0 500.6L603.8 500.9L604.5 501.1L605.2 501.3L606.0 501.5L606.8 501.7L607.5 501.9L608.2 502.0L609.0 502.2L609.8 502.3L610.5 502.4L611.2 502.5L612.0 502.6L612.8 502.6L613.5 502.7L614.2 502.8L615.0 502.8L615.8 502.9L616.5 503.0L617.2 503.0L618.0 503.1L618.8 503.2L619.5 503.3L620.2 503.3L621.0 503.4L621.8 503.5L622.5 503.6L623.2 503.7L624.0 503.8L624.8 503.8L625.5 503.9L626.2 504.0L627.0 504.1L627.8 504.1L628.5 504.2L629.2 504.2L630.0 504.2L630.8 504.3L631.5 504.3L632.2 504.4L633.0 504.4L633.8 504.4L634.5 504.5L635.2 504.5L636.0 504.5L636.8 504.5L637.5 504.5L638.2 504.5L639.0 504.5L639.8 504.5L640.5 504.5L641.2 504.6L642.0 504.6L642.8 504.6L643.5 504.6L644.2 504.6L645.0 504.6L645.8 504.5L646.5 504.4L647.2 504.3L648.0 504.2L648.8 504.1L649.5 503.9L650.2 503.7L651.0 503.6"/>
<path d="M142.5 502.1L143.2 502.1L144.0 502.1L144.8 502.1L145.5 502.1L146.2 502.2L147.0 502.2L147.8 502.2L148.5 502.2L149.2 502.2L150.0 502.2L150.8 502.1L151.5 502.1L152.2 502.1L153.0 502.0L153.8 501.9L154.5 501.8L155.2 501.7L156.0 501.6L156.8 501.5L157.5 501.4L158.2 501.3L159.0 501.2L159.8 501.1L160.5 501.0L161.2 500.9L162.0 500.8L162.8 500.7L163.5 500.6L164.2 500.5L165.0 500.5L165.8 500.4L166.5 500.3L167.2 500.2L168.0 500.2L168.8 500.1L169.5 500.0L170.2 499.9L171.0 499.8L171.8 499.7L172.5 499.6L173.2 499.5L174.0 499.4L174.8 499.3L175.5 499.2L176.2 499.1L177.0 499.0L177.8 498.9L178.5 498.7L179.2 498.6L180.0 498.5L180.8 498.4L181.5 498.2L182.2 498.1L183.0 498.0L183.8 497.8L184.5 497.7L185.2 497.5L186.0 497.4L186.8 497.2L187.5 497.0L188.2 496.8L189.0 496.7L189.8 496.5L190.5 496.3L191.2 496.1L192.0 495.9L192.8 495.7L193.5 495.5L194.2 495.3L195.0 495.1L195.8 494.9L196.5 494.7L197.2 494.5L198.0 494.3L198.8 494.2L199.5 494.0L200.2 493.9L201.0 493.7L201.8 493.6L202.5 493.5L203.2 493.3L204.0 493.2L204.8 493.1L205.5 492.9L206.2 492.8L207.0 492.6L207.8 492.4L208.5 492.3L209.2 492.1L210.0 491.9L210.8 491.7L211.5 491.5L212.2 491.3L213.0 491.1L213.8 490.9L214.5 490.7L215.2 490.4L216.0 490.2L216.8 490.0L217.5 489.7L218.2 489.5L219.0 489.3L219.8 489.0L220.5 488.8L221.2 488.6L222.0 488.3L222.8 488.1L223.5 487.9L224.2 487.6L225.0 487.3L225.8 487.1L226.5 486.8L227.2 486.5L228.0 486.1L228.8 485.8L229.5 485.4L230.2 485.1L231.0 484.6L231.8 484.2L232.5 483.7L233.2 483.2L234.0 482.7L234.8 482.2L235.5 481.7L236.2 481.3L237.0 480.8L237.8 480.3L238.5 479.9L239.2 479.5L240.0 479.1L240.8 478.7L241.5 478.4L242.2 478.0L243.0 477.7L243.8 477.3L244.5 477.0L245.2 476.7L246.0 476.4L246.8 476.1L247.5 475.8L248.2 475.5L249.0 475.1L249.8 474.8L250.5 474.5L251.2 474.2L252.0 473.9L252.8 473.5L253.5 473.2L254.2 472.9L255.0 472.5L255.8 472.1L256.5 471.8L257.2 471.4L258.0 471.0L258.8 470.6L259.5 470.1L260.2 469.7L261.0 469.2L261.8 468.7L262.5 468.3L263.2 467.8L264.0 467.3L264.8 466.8L265.5 466.4L266.2 465.9L267.0 465.4L267.8 464.9L268.5 464.4L269.2 463.9L270.0 463.4L270.8 462.8L271.5 462.2L272.2 461.6L273.0 461.0L273.8 460.3L274.5 459.6L275.2 458.8L276.0 458.1L276.8 457.3L277.5 456.6L278.2 455.9L279.0 455.2L279.8 454.6L280.5 454.0L281.2 453.4L282.0 452.9L282.8 452.2L283.5 451.6L284.2 450.8L285.0 450.0L285.8 448.9L286.5 447.7L287.2 446.4L288.0 445.1L288.8 443.8L289.5 442.6L290.2 441.3L291.0 440.1L291.8 438.8L292.5 437.5L293.2 436.2L294.0 434.9L294.8 433.6L295.5 432.3L296.2 431.0L297.0 429.7L297.8 428.4L298.5 427.0L299.2 425.7L300.0 424.3L300.8 422.8L301.5 421.3L302.2 419.7L303.0 417.9L303.8 416.0L304.5 414.1L305.2 412.1L306.0 410.1L306.8 408.1L307.5 406.1L308.2 404.0L309.0 401.9L309.8 399.6L310.5 397.2L311.2 394.5L312.0 391.5L312.8 388.5L313.5 385.6L314.2 383.0L315.0 380.5L315.8 378.1L316.5 375.7L317.2 373.3L318.0 370.9L318.8 368.6L319.5 366.4L320.2 364.2L321.0 361.9L321.8 359.6L322.5 357.1L323.2 354.5L324.0 351.7L324.8 348.5L325.5 345.2L326.2 341.7L327.0 338.2L327.8 334.7L328.5 331.0L329.2 327.1L330.0 323.3L330.8 319.6L331.5 316.4L332.2 313.5L333.0 310.8L333.8 308.3L334.5 305.9L335.2 303.4L336.0 300.9L336.8 298.8L337.5 297.1L338.2 295.7L339.0 294.4L339.8 293.2L340.5 292.1L341.2 291.2L342.0 290.4L342.8 289.7L343.5 289.1L344.2 288.5L345.0 287.9L345.8 287.2L346.5 286.4L347.2 285.6L348.0 284.8L348.8 284.1L349.5 283.2L350.2 282.3L351.0 281.2L351.8 279.9L352.5 278.2L353.2 276.5L354.0 274.8L354.8 273.2L355.5 271.5L356.2 269.8L357.0 268.1L357.8 266.3L358.5 264.4L359.2 262.4L360.0 260.2L360.8 257.9L361.5 255.6L362.2 253.3L363.0 250.9L363.8 248.5L364.5 246.0L365.2 243.5L366.0 241.0L366.8 238.3L367.5 235.7L368.2 232.9L369.0 230.0L369.8 227.1L370.5 224.2L371.2 221.3L372.0 218.4L372.8 215.5L373.5 212.7L374.2 209.9L375.0 207.1L375.8 204.4L376.5 201.8L377.2 199.3L378.0 196.9L378.8 194.6L379.5 192.3L380.2 190.3L381.0 188.4L381.8 186.5L382.5 184.7L383.2 183.0L384.0 181.3L384.8 179.6L385.5 177.9L386.2 176.2L387.0 174.4L387.8 172.6L388.5 170.7L389.2 168.9L390.0 167.0L390.8 165.0L391.5 162.9L392.2 160.6L393.0 158.2L393.8 155.6L394.5 153.0L395.2 150.5L396.0 148.3L396.8 146.2L397.5 144.4L398.2 142.8L399.0 141.5L399.8 140.5L400.5 139.7L401.2 139.0L402.0 138.3L402.8 137.6L403.5 136.9L404.2 136.3L405.0 135.8L405.8 135.4L406.5 135.0L407.2 134.6L408.0 134.3L408.8 134.1L409.5 133.9L410.2 133.8L411.0 133.7L411.8 133.7L412.5 133.6L413.2 133.6L414.0 133.6L414.8 133.6L415.5 133.6L416.2 133.7L417.0 133.9L417.8 134.1L418.5 134.4L419.2 134.7L420.0 135.0L420.8 135.2L421.5 135.4L422.2 135.7L423.0 135.9L423.8 136.3L424.5 136.7L425.2 137.3L426.0 138.1L426.8 139.0L427.5 139.9L428.2 141.1L429.0 142.3L429.8 143.5L430.5 144.8L431.2 146.0L432.0 147.2L432.8 148.3L433.5 149.4L434.2 150.5L435.0 151.5L435.8 152.6L436.5 153.6L437.2 154.6L438.0 155.7L438.8 156.8L439.5 158.0L440.2 159.2L441.0 160.5L441.8 161.8L442.5 163.2L443.2 164.6L444.0 166.1L444.8 167.6L445.5 169.1L446.2 170.7L447.0 172.3L447.8 174.0L448.5 175.6L449.2 177.4L450.0 179.1L450.8 180.8L451.5 182.6L452.2 184.5L453.0 186.3L453.8 188.2L454.5 190.0L455.2 191.9L456.0 193.9L456.8 195.8L457.5 197.7L458.2 199.7L459.0 201.6L459.8 203.6L460.5 205.6L461.2 207.6L462.0 209.6L462.8 211.6L463.5 213.7L464.2 215.8L465.0 217.9L465.8 220.0L466.5 222.1L467.2 224.2L468.0 226.4L468.8 228.5L469.5 230.5L470.2 232.6L471.0 234.6L471.8 236.6L472.5 238.6L473.2 240.5L474.0 242.3L474.8 244.2L475.5 246.0L476.2 247.8L477.0 249.6L477.8 251.4L478.5 253.2L479.2 255.1L480.0 257.0L480.8 259.0L481.5 261.0L482.2 263.2L483.0 265.4L483.8 267.7L484.5 270.0L485.2 272.4L486.0 274.8L486.8 277.2L487.5 279.7L488.2 282.1L489.0 284.5L489.8 286.9L490.5 289.2L491.2 291.4L492.0 293.6L492.8 295.7L493.5 297.8L494.2 299.8L495.0 301.8L495.8 303.8L496.5 305.8L497.2 307.8L498.0 309.8L498.8 311.9L499.5 314.0L500.2 316.1L501.0 318.3L501.8 320.5L502.5 322.8L503.2 325.2L504.0 327.6L504.8 330.0L505.5 332.5L506.2 335.0L507.0 337.4L507.8 339.9L508.5 342.3L509.2 344.8L510.0 347.1L510.8 349.5L511.5 351.8L512.2 354.1L513.0 356.4L513.8 358.6L514.5 360.9L515.2 363.1L516.0 365.4L516.8 367.6L517.5 369.8L518.2 372.1L519.0 374.3L519.8 376.5L520.5 378.7L521.2 380.8L522.0 383.0L522.8 385.2L523.5 387.3L524.2 389.5L525.0 391.6L525.8 393.8L526.5 396.0L527.2 398.2L528.0 400.4L528.8 402.7L529.5 405.0L530.2 407.4L531.0 409.8L531.8 412.2L532.5 414.6L533.2 417.0L534.0 419.3L534.8 421.6L535.5 423.8L536.2 426.0L537.0 428.1L537.8 430.2L538.5 432.3L539.2 434.4L540.0 436.5L540.8 438.5L541.5 440.5L542.2 442.5L543.0 444.5L543.8 446.3L544.5 448.2L545.2 450.0L546.0 451.7L546.8 453.4L547.5 455.0L548.2 456.6L549.0 458.2L549.8 459.8L550.5 461.3L551.2 462.8L552.0 464.3L552.8 465.8L553.5 467.3L554.2 468.7L555.0 470.1L555.8 471.4L556.5 472.7L557.2 474.0L558.0 475.3L558.8 476.6L559.5 477.8L560.2 479.1L561.0 480.2L561.8 481.4L562.5 482.5L563.2 483.5L564.0 484.5L564.8 485.5L565.5 486.4L566.2 487.3L567.0 488.0L567.8 488.8L568.5 489.5L569.2 490.2L570.0 490.8L570.8 491.4L571.5 491.9L572.2 492.4L573.0 492.8L573.8 493.2L574.5 493.6L575.2 494.0L576.0 494.3L576.8 494.6L577.5 494.9L578.2 495.2L579.0 495.5L579.8 495.7L580.5 496.0L581.2 496.2L582.0 496.4L582.8 496.6L583.5 496.9L584.2 497.1L585.0 497.3L585.8 497.4L586.5 497.6L587.2 497.7L588.0 497.9L588.8 498.0L589.5 498.0L590.2 498.1L591.0 498.2L591.8 498.2L592.5 498.2L593.2 498.2L594.0 498.3L594.8 498.3L595.5 498.3L596.2 498.4L597.0 498.5L597.8 498.7L598.5 498.8L599.2 499.0L600.0 499.3L600.8 499.5L601.5 499.8L602.2 500.0L603.0 500.3L603.8 500.5L604.5 500.8L605.2 501.0L606.0 501.2L606.8 501.4L607.5 501.6L608.2 501.7L609.0 501.9L609.8 502.0L610.5 502.1L611.2 502.2L612.0 502.3L612.8 502.4L613.5 502.5L614.2 502.5L615.0 502.6L615.8 502.7L616.5 502.8L617.2 502.9L618.0 502.9L618.8 503.0L619.5 503.1L620.2 503.2L621.0 503.2L621.8 503.3L622.5 503.4L623.2 503.5L624.0 503.5L624.8 503.6L625.5 503.7L626.2 503.7L627.0 503.8L627.8 503.8L628.5 503.8L629.2 503.9L630.0 503.9L630.8 504.0L631.5 504.0L632.2 504.1L633.0 504.1L633.8 504.2L634.5 504.2L635.2 504.3L636.0 504.3L636.8 504.3L637.5 504.3L638.2 504.3L639.0 504.3L639.8 504.3L640.5 504.3L641.2 504.3L642.0 504.4L642.8 504.3L643.5 504.3L644.2 504.3L645.0 504.2L645.8 504.1L646.5 504.0L647.2 503.9L648.0 503.8L648.8 503.6L649.5 503.5L650.2 503.3L651.0 503.2"/>
<path d="M142.5 502.9L143.2 502.8L144.0 502.8L144.8 502.7L145.5 502.5L146.2 502.4L147.0 502.3L147.8 502.2L148.5 502.1L149.2 501.9L150.0 501.8L150.8 501.7L151.5 501.6L152.2 501.5L153.0 501.4L153.8 501.3L154.5 501.2L155.2 501.1L156.0 501.1L156.8 501.0L157.5 501.0L158.2 501.0L159.0 501.0L159.8 500.9L160.5 500.9L161.2 501.0L162.0 501.0L162.8 501.0L163.5 501.0L164.2 501.0L165.0 501.0L165.8 501.0L166.5 501.0L167.2 500.9L168.0 500.9L168.8 500.8L169.5 500.7L170.2 500.6L171.0 500.4L171.8 500.2L172.5 500.1L173.2 499.9L174.0 499.6L174.8 499.4L175.5 499.2L176.2 498.9L177.0 498.7L177.8 498.5L178.5 498.3L179.2 498.0L180.0 497.8L180.8 497.7L181.5 497.5L182.2 497.3L183.0 497.2L183.8 497.1L184.5 497.0L185.2 496.9L186.0 496.8L186.8 496.7L187.5 496.6L188.2 496.6L189.0 496.5L189.8 496.4L190.5 496.3L191.2 496.2L192.0 496.1L192.8 496.0L193.5 495.9L194.2 495.8L195.0 495.7L195.8 495.5L196.5 495.4L197.2 495.2L198.0 495.1L198.8 494.9L199.5 494.7L200.2 494.5L201.0 494.3L201.8 494.1L202.5 493.9L203.2 493.7L204.0 493.5L204.8 493.3L205.5 493.1L206.2 492.9L207.0 492.7L207.8 492.5L208.5 492.3L209.2 492.1L210.0 491.9L210.8 491.7L211.5 491.5L212.2 491.3L213.0 491.1L213.8 491.0L214.5 490.8L215.2 490.6L216.0 490.4L216.8 490.2L217.5 490.0L218.2 489.8L219.0 489.6L219.8 489.4L220.5 489.2L221.2 489.0L222.0 488.7L222.8 488.5L223.5 488.2L224.2 488.0L225.0 487.7L225.8 487.4L226.5 487.1L227.2 486.8L228.0 486.4L228.8 486.1L229.5 485.7L230.2 485.3L231.0 484.9L231.8 484.5L232.5 484.0L233.2 483.6L234.0 483.1L234.8 482.6L235.5 482.2L236.2 481.7L237.0 481.2L237.8 480.8L238.5 480.4L239.2 480.0L240.0 479.7L240.8 479.3L241.5 479.0L242.2 478.6L243.0 478.3L243.8 478.0L244.5 477.7L245.2 477.4L246.0 477.0L246.8 476.7L247.5 476.4L248.2 476.1L249.0 475.7L249.8 475.4L250.5 475.1L251.2 474.7L252.0 474.4L252.8 474.1L253.5 473.7L254.2 473.4L255.0 473.0L255.8 472.6L256.5 472.3L257.2 471.9L258.0 471.4L258.8 471.0L259.5 470.5L260.2 470.0L261.0 469.6L261.8 469.1L262.5 468.5L263.2 468.0L264.0 467.5L264.8 467.0L265.5 466.5L266.2 466.0L267.0 465.5L267.8 465.0L268.5 464.6L269.2 464.1L270.0 463.6L270.8 463.1L271.5 462.5L272.2 462.0L273.0 461.4L273.8 460.8L274.5 460.2L275.2 459.5L276.0 458.9L276.8 458.2L277.5 457.5L278.2 456.9L279.0 456.2L279.8 455.6L280.5 455.1L281.2 454.6L282.0 454.0L282.8 453.4L283.5 452.8L284.2 452.1L285.0 451.2L285.8 450.2L286.5 449.0L287.2 447.7L288.0 446.4L288.8 445.2L289.5 444.0L290.2 442.8L291.0 441.5L291.8 440.3L292.5 439.1L293.2 437.8L294.0 436.5L294.8 435.3L295.5 434.0L296.2 432.7L297.0 431.4L297.8 430.1L298.5 428.8L299.2 427.5L300.0 426.2L300.8 424.8L301.5 423.3L302.2 421.7L303.0 420.0L303.8 418.3L304.5 416.4L305.2 414.5L306.0 412.6L306.8 410.8L307.5 408.9L308.2 407.0L309.0 405.0L309.8 402.8L310.5 400.6L311.2 398.1L312.0 395.3L312.8 392.5L313.5 389.9L314.2 387.5L315.0 385.2L315.8 383.1L316.5 380.9L317.2 378.7L318.0 376.6L318.8 374.5L319.5 372.4L320.2 370.4L321.0 368.3L321.8 366.2L322.5 363.9L323.2 361.4L324.0 358.7L324.8 355.7L325.5 352.6L326.2 349.3L327.0 345.9L327.8 342.6L328.5 339.1L329.2 335.3L330.0 331.6L330.8 328.1L331.5 325.0L332.2 322.2L333.0 319.7L333.8 317.2L334.5 314.9L335.2 312.5L336.0 310.1L336.8 308.1L337.5 306.6L338.2 305.3L339.0 304.1L339.8 303.0L340.5 302.1L341.2 301.4L342.0 300.8L342.8 300.2L343.5 299.8L344.2 299.3L345.0 298.8L345.8 298.2L346.5 297.6L347.2 296.9L348.0 296.2L348.8 295.6L349.5 294.8L350.2 294.0L351.0 293.1L351.8 291.9L352.5 290.4L353.2 288.8L354.0 287.3L354.8 285.8L355.5 284.2L356.2 282.7L357.0 281.1L357.8 279.4L358.5 277.6L359.2 275.6L360.0 273.5L360.8 271.2L361.5 269.0L362.2 266.7L363.0 264.4L363.8 262.0L364.5 259.6L365.2 257.1L366.0 254.6L366.8 252.0L367.5 249.4L368.2 246.7L369.0 244.0L369.8 241.2L370.5 238.4L371.2 235.7L372.0 233.0L372.8 230.4L373.5 227.8L374.2 225.3L375.0 222.8L375.8 220.3L376.5 217.8L377.2 215.4L378.0 213.0L378.8 210.5L379.5 208.0L380.2 205.6L381.0 203.2L381.8 200.7L382.5 198.3L383.2 196.0L384.0 193.8L384.8 191.7L385.5 189.7L386.2 187.7L387.0 185.9L387.8 184.2L388.5 182.6L389.2 181.0L390.0 179.5L390.8 178.1L391.5 176.5L392.2 174.9L393.0 173.3L393.8 171.5L394.5 169.7L395.2 167.9L396.0 166.0L396.8 164.2L397.5 162.2L398.2 160.1L399.0 158.1L399.8 156.2L400.5 154.3L401.2 152.4L402.0 150.5L402.8 148.7L403.5 147.0L404.2 145.5L405.0 144.3L405.8 143.2L406.5 142.3L407.2 141.6L408.0 141.0L408.8 140.4L409.5 139.9L410.2 139.5L411.0 139.2L411.8 138.9L412.5 138.6L413.2 138.3L414.0 138.0L414.8 137.7L415.5 137.4L416.2 137.1L417.0 137.0L417.8 136.8L418.5 136.8L419.2 136.8L420.0 136.8L420.8 136.8L421.5 136.9L422.2 136.9L423.0 137.0L423.8 137.2L424.5 137.6L425.2 138.1L426.0 138.7L426.8 139.4L427.5 140.3L428.2 141.4L429.0 142.5L429.8 143.7L430.5 144.9L431.2 146.1L432.0 147.2L432.8 148.3L433.5 149.3L434.2 150.3L435.0 151.3L435.8 152.3L436.5 153.2L437.2 154.2L438.0 155.1L438.8 156.2L439.5 157.2L440.2 158.4L441.0 159.5L441.8 160.8L442.5 162.1L443.2 163.4L444.0 164.8L444.8 166.2L445.5 167.6L446.2 169.1L447.0 170.6L447.8 172.2L448.5 173.7L449.2 175.3L450.0 176.9L450.8 178.5L451.5 180.2L452.2 181.8L453.0 183.5L453.8 185.2L454.5 187.0L455.2 188.7L456.0 190.5L456.8 192.3L457.5 194.1L458.2 196.0L459.0 197.9L459.8 199.7L460.5 201.7L461.2 203.6L462.0 205.6L462.8 207.6L463.5 209.7L464.2 211.8L465.0 213.9L465.8 216.0L466.5 218.1L467.2 220.2L468.0 222.3L468.8 224.4L469.5 226.5L470.2 228.5L471.0 230.5L471.8 232.4L472.5 234.2L473.2 236.0L474.0 237.8L474.8 239.5L475.5 241.3L476.2 243.0L477.0 244.7L477.8 246.4L478.5 248.2L479.2 250.0L480.0 251.9L480.8 253.9L481.5 255.9L482.2 258.1L483.0 260.3L483.8 262.6L484.5 265.0L485.2 267.4L486.0 269.9L486.8 272.4L487.5 274.9L488.2 277.5L489.0 279.9L489.8 282.4L490.5 284.7L491.2 287.1L492.0 289.3L492.8 291.5L493.5 293.6L494.2 295.7L495.0 297.7L495.8 299.7L496.5 301.7L497.2 303.7L498.0 305.8L498.8 307.8L499.5 309.9L500.2 312.0L501.0 314.2L501.8 316.4L502.5 318.7L503.2 321.1L504.0 323.5L504.8 325.9L505.5 328.4L506.2 330.8L507.0 333.3L507.8 335.8L508.5 338.2L509.2 340.6L510.0 343.0L510.8 345.4L511.5 347.7L512.2 350.0L513.0 352.3L513.8 354.6L514.5 356.8L515.2 359.1L516.0 361.4L516.8 363.6L517.5 365.9L518.2 368.2L519.0 370.4L519.8 372.7L520.5 375.0L521.2 377.3L522.0 379.5L522.8 381.8L523.5 384.0L524.2 386.3L525.0 388.6L525.8 390.9L526.5 393.2L527.2 395.5L528.0 397.8L528.8 400.2L529.5 402.6L530.2 405.0L531.0 407.5L531.8 410.0L532.5 412.5L533.2 414.9L534.0 417.3L534.8 419.7L535.5 421.9L536.2 424.2L537.0 426.3L537.8 428.5L538.5 430.7L539.2 432.8L540.0 434.9L540.8 437.0L541.5 439.1L542.2 441.1L543.0 443.1L543.8 445.1L544.5 447.0L545.2 448.8L546.0 450.6L546.8 452.3L547.5 454.0L548.2 455.7L549.0 457.3L549.8 459.0L550.5 460.5L551.2 462.1L552.0 463.6L552.8 465.1L553.5 466.6L554.2 468.0L555.0 469.4L555.8 470.8L556.5 472.1L557.2 473.4L558.0 474.7L558.8 476.0L559.5 477.2L560.2 478.4L561.0 479.6L561.8 480.7L562.5 481.8L563.2 482.9L564.0 483.9L564.8 484.9L565.5 485.8L566.2 486.6L567.0 487.4L567.8 488.2L568.5 488.9L569.2 489.6L570.0 490.2L570.8 490.8L571.5 491.4L572.2 491.9L573.0 492.4L573.8 492.9L574.5 493.3L575.2 493.7L576.0 494.1L576.8 494.5L577.5 494.9L578.2 495.2L579.0 495.5L579.8 495.8L580.5 496.0L581.2 496.3L582.0 496.5L582.8 496.7L583.5 496.9L584.2 497.1L585.0 497.2L585.8 497.4L586.5 497.5L587.2 497.5L588.0 497.6L588.8 497.6L589.5 497.7L590.2 497.7L591.0 497.7L591.8 497.6L592.5 497.6L593.2 497.6L594.0 497.6L594.8 497.6L595.5 497.7L596.2 497.8L597.0 497.9L597.8 498.0L598.5 498.2L599.2 498.4L600.0 498.7L600.8 499.0L601.5 499.2L602.2 499.5L603.0 499.8L603.8 500.1L604.5 500.4L605.2 500.6L606.0 500.9L606.8 501.1L607.5 501.3L608.2 501.5L609.0 501.7L609.8 501.8L610.5 502.0L611.2 502.1L612.0 502.2L612.8 502.3L613.5 502.4L614.2 502.5L615.0 502.6L615.8 502.6L616.5 502.7L617.2 502.8L618.0 502.8L618.8 502.9L619.5 502.9L620.2 503.0L621.0 503.0L621.8 503.0L622.5 503.1L623.2 503.1L624.0 503.2L624.8 503.2L625.5 503.2L626.2 503.3L627.0 503.3L627.8 503.4L628.5 503.4L629.2 503.5L630.0 503.5L630.8 503.6L631.5 503.7L632.2 503.7L633.0 503.8L633.8 503.8L634.5 503.9L635.2 503.9L636.0 503.9L636.8 503.9L637.5 503.9L638.2 503.9L639.0 503.9L639.8 504.0L640.5 504.0L641.2 504.1L642.0 504.1L642.8 504.1L643.5 504.1L644.2 504.1L645.0 504.1L645.8 504.1L646.5 504.0L647.2 503.9L648.0 503.8L648.8 503.6L649.5 503.5L650.2 503.3L651.0 503.2"/>
</g>
<g fill="none" stroke="#000" stroke-width="1.45" stroke-linejoin="round" stroke-linecap="round">
<path d="M144.1 730.6L144.8 730.1L145.6 729.9L146.3 730.0L147.1 731.1L147.8 732.5L148.6 733.1L149.3 733.5L150.1 733.9L150.8 734.2L151.6 734.6L152.3 734.8L153.1 735.1L153.8 735.2L154.6 735.3L155.3 735.2L156.1 735.2L156.8 735.0L157.6 734.7L158.3 734.4L159.1 734.1L159.8 733.7L160.6 733.3L161.3 732.9L162.1 732.6L162.8 732.4L163.6 732.2L164.3 732.2L165.1 732.2L165.8 732.2L166.6 732.3L167.3 732.5L168.1 732.8L168.8 733.1L169.6 733.5L170.3 733.8L171.1 734.1L171.8 734.3L172.6 734.4L173.3 734.5L174.1 734.6L174.8 734.4L175.6 734.1L176.3 733.8L177.1 733.3L177.8 732.7L178.6 732.1L179.3 731.3L180.1 730.9L180.8 730.8L181.6 730.8L182.3 730.8L183.1 731.0L183.8 731.3L184.6 731.7L185.3 732.2L186.1 732.7L186.8 733.1L187.6 733.5L188.3 733.9L189.1 734.4L189.8 734.7L190.6 735.0L191.3 735.3L192.1 735.4L192.8 735.4L193.6 735.3L194.3 735.2L195.1 735.0L195.8 734.7L196.6 734.3L197.3 733.9L198.1 733.4L198.8 732.9L199.6 732.3L200.3 731.8L201.1 731.2L201.8 730.8L202.6 730.8L203.3 731.0L204.1 731.3L204.8 732.0L205.6 732.9L206.3 733.3L207.1 733.5L207.8 733.6L208.6 733.6L209.3 733.7L210.1 733.7L210.8 733.7L211.6 733.7L212.3 733.7L213.1 733.8L213.8 733.8L214.6 733.8L215.3 733.9L216.1 733.9L216.8 734.0L217.6 734.1L218.3 734.1L219.1 734.2L219.8 734.3L220.6 734.3L221.3 734.4L222.1 734.4L222.8 734.4L223.6 734.5L224.3 734.5L225.1 734.5L225.8 734.5L226.6 734.5L227.3 734.6L228.1 734.6L228.8 734.6L229.6 734.6L230.3 734.6L231.1 734.6L231.8 734.6L232.6 734.6L233.3 734.6L234.1 734.5L234.8 734.5L235.6 734.5L236.3 734.5L237.1 734.5L237.8 734.5L238.6 734.5L239.3 734.5L240.1 734.5L240.8 734.5L241.6 734.5L242.3 734.5L243.1 734.5L243.8 734.5L244.6 734.5L245.3 734.6L246.1 734.7L246.8 734.8L247.6 734.9L248.3 735.0L249.1 735.2L249.8 735.4L250.6 735.5L251.3 735.7L252.1 735.9L252.8 736.1L253.6 736.3L254.3 736.5L255.1 736.7L255.8 736.9L256.6 737.1L257.4 737.2L258.1 737.4L258.9 737.5L259.6 737.6L260.4 737.7L261.1 737.9L261.9 738.0L262.6 738.1L263.4 738.2L264.1 738.4L264.9 738.5L265.6 738.6L266.4 738.7L267.1 738.8L267.9 738.9L268.6 739.0L269.4 739.1L270.1 739.2L270.9 739.3L271.6 739.4L272.4 739.5L273.1 739.6L273.9 739.7L274.6 739.8L275.4 739.8L276.1 739.9L276.9 740.0L277.6 740.0L278.4 740.1L279.1 740.2L279.9 740.3L280.6 740.4L281.4 740.6L282.1 740.8L282.9 741.1L283.6 741.4L284.4 741.7L285.1 742.1L285.9 742.4L286.6 742.8L287.4 743.2L288.1 743.7L288.9 744.1L289.6 744.5L290.4 744.9L291.1 745.3L291.9 745.7L292.6 746.1L293.4 746.4L294.1 746.7L294.9 747.0L295.6 747.3L296.4 747.5L297.1 747.8L297.9 748.0L298.6 748.2L299.4 748.5L300.1 748.7L300.9 748.9L301.6 749.1L302.4 749.3L303.1 749.6L303.9 749.8L304.6 750.0L305.4 750.2L306.1 750.4L306.9 750.6L307.6 750.8L308.4 751.0L309.1 751.3L309.9 751.5L310.6 751.7L311.4 751.9L312.1 752.2L312.9 752.4L313.6 752.6L314.4 752.8L315.1 753.0L315.9 753.2L316.6 753.4L317.4 753.7L318.1 753.9L318.9 754.1L319.6 754.3L320.4 754.6L321.1 754.8L321.9 755.0L322.6 755.3L323.4 755.5L324.1 755.8L324.9 756.1L325.6 756.3L326.4 756.6L327.1 756.8L327.9 757.1L328.6 757.4L329.4 757.7L330.1 758.0L330.9 758.4L331.6 758.8L332.4 759.2L333.1 759.6L333.9 760.1L334.6 760.7L335.4 761.4L336.1 762.1L336.9 762.9L337.6 763.6L338.4 764.4L339.1 765.2L339.9 766.1L340.6 767.1L341.4 768.0L342.1 769.0L342.9 769.9L343.6 770.6L344.4 771.1L345.1 771.5L345.9 772.0L346.6 772.4L347.4 772.8L348.1 773.1L348.9 773.4L349.6 773.6L350.4 773.8L351.1 773.9L351.9 773.9L352.6 773.8L353.4 773.6L354.1 773.3L354.9 773.0L355.6 772.7L356.4 772.3L357.1 772.1L357.9 771.8L358.6 771.7L359.4 771.7L360.1 771.6L360.9 771.6L361.6 771.6L362.4 771.6L363.1 771.6L363.9 771.5L364.6 771.5L365.4 771.5L366.1 771.5L366.9 771.4L367.6 771.4L368.4 771.3L369.1 771.0L369.9 770.7L370.6 770.2L371.4 769.7L372.1 769.1L372.9 768.5L373.6 767.8L374.4 767.2L375.1 766.6L375.9 766.0L376.6 765.3L377.4 764.6L378.1 763.8L378.9 763.1L379.6 762.2L380.4 761.4L381.1 760.6L381.9 759.8L382.6 759.0L383.4 758.2L384.1 757.5L384.9 756.7L385.6 756.0L386.4 755.2L387.1 754.4L387.9 753.6L388.6 752.9L389.4 752.2L390.1 751.4L390.9 750.7L391.6 750.1L392.4 749.5L393.1 748.9L393.9 748.3L394.6 747.8L395.4 747.3L396.1 746.8L396.9 746.2L397.6 745.7L398.4 745.1L399.1 744.6L399.9 743.9L400.6 743.2L401.4 742.4L402.1 741.6L402.9 740.7L403.6 739.8L404.4 738.8L405.1 737.8L405.9 736.9L406.6 736.0L407.4 735.1L408.1 734.4L408.9 733.7L409.6 733.1L410.4 732.5L411.1 732.0L411.9 731.6L412.6 731.1L413.4 730.7L414.1 730.3L414.9 729.9L415.6 729.5L416.4 729.1L417.1 728.7L417.9 728.3L418.6 728.0L419.4 727.6L420.1 727.2L420.9 726.8L421.6 726.4L422.4 726.0L423.1 725.5L423.9 725.0L424.6 724.4L425.4 723.8L426.1 723.3L426.9 722.7L427.6 722.2L428.4 721.8L429.1 721.4L429.9 721.0L430.6 720.7L431.4 720.3L432.1 720.0L432.9 719.7L433.6 719.4L434.4 719.2L435.1 719.0L435.9 718.9L436.6 718.8L437.4 718.8L438.1 718.7L438.9 718.7L439.6 718.7L440.4 718.6L441.1 718.6L441.9 718.6L442.6 718.6L443.4 718.6L444.1 718.5L444.9 718.5L445.6 718.5L446.4 718.5L447.1 718.5L447.9 718.5L448.6 718.5L449.4 718.6L450.1 718.8L450.9 719.0L451.6 719.3L452.4 719.7L453.1 720.0L453.9 720.4L454.6 720.7L455.4 721.0L456.1 721.2L456.9 721.3L457.6 721.3L458.4 721.2L459.1 721.0L459.9 720.8L460.6 720.6L461.4 720.3L462.1 720.1L462.9 719.8L463.6 719.6L464.4 719.4L465.1 719.1L465.9 718.8L466.6 718.4L467.4 718.1L468.1 717.8L468.9 717.4L469.6 717.1L470.4 716.9L471.1 716.7L471.9 716.5L472.6 716.4L473.4 716.3L474.1 716.4L474.9 716.8L475.6 717.3L476.4 718.0L477.1 718.8L477.9 719.6L478.6 720.3L479.4 720.9L480.1 721.3L480.9 721.4L481.6 721.3L482.4 721.1L483.1 720.7L483.9 720.3L484.6 719.8L485.4 719.3L486.1 718.7L486.9 718.1L487.6 717.6L488.4 717.2L489.1 716.8L489.9 716.5L490.6 716.3L491.4 716.3L492.1 716.4L492.9 716.7L493.6 716.9L494.4 717.0L495.1 717.1L495.9 717.1L496.6 717.1L497.4 717.1L498.1 717.1L498.9 717.1L499.6 717.1L500.4 717.1L501.1 717.1L501.9 717.1L502.6 717.1L503.4 717.1L504.1 717.1L504.9 717.1L505.6 717.1L506.4 717.1L507.1 717.1L507.9 717.1L508.6 717.2L509.4 717.4L510.1 717.7L510.9 718.0L511.6 718.5L512.4 718.9L513.1 719.4L513.9 719.8L514.6 720.2L515.4 720.6L516.1 720.9L516.9 721.0L517.6 721.1L518.4 721.1L519.1 721.0L519.9 720.9L520.6 720.7L521.4 720.5L522.1 720.3L522.9 720.2L523.6 720.0L524.4 719.8L525.1 719.7L525.9 719.6L526.6 719.5L527.4 719.5L528.1 719.6L528.9 719.8L529.6 720.0L530.4 720.4L531.1 720.7L531.9 721.1L532.6 721.4L533.4 721.8L534.1 722.1L534.9 722.4L535.6 722.6L536.4 722.7L537.1 722.7L537.9 722.7L538.6 722.6L539.4 722.6L540.1 722.5L540.9 722.4L541.6 722.3L542.4 722.2L543.1 722.1L543.9 722.0L544.6 722.0L545.4 721.9L546.1 721.9L546.9 721.9L547.6 722.1L548.4 722.4L549.1 722.7L549.9 723.2L550.6 723.7L551.4 724.2L552.1 724.6L552.9 725.1L553.6 725.6L554.4 725.9L555.1 726.3L555.9 726.6L556.6 726.9L557.4 727.2L558.1 727.5L558.9 727.8L559.6 728.1L560.4 728.4L561.1 728.6L561.9 728.9L562.6 729.2L563.4 729.4L564.1 729.7L564.9 730.0L565.6 730.2L566.4 730.5L567.1 730.7L567.9 730.9L568.6 731.1L569.4 731.3L570.1 731.5L570.9 731.6L571.6 731.7L572.4 731.7L573.1 731.8L573.9 731.8L574.6 731.9L575.4 731.9L576.1 732.0L576.9 732.1L577.6 732.2L578.4 732.3L579.1 732.5L579.9 732.9L580.6 733.3L581.4 733.7L582.1 734.3L582.9 734.9L583.6 735.6L584.4 736.2L585.1 736.6L585.9 736.9L586.6 736.9L587.4 736.4L588.1 735.6L588.9 734.7L589.6 733.6L590.4 732.7L591.1 731.9L591.9 731.4L592.6 731.3L593.4 731.2L594.1 731.1L594.9 731.1L595.6 731.0L596.4 731.0L597.1 731.2L597.9 731.8L598.6 732.6L599.4 733.2L600.1 733.6L600.9 733.7L601.6 733.8L602.4 733.9L603.1 734.0L603.9 734.0L604.6 734.0L605.4 733.8L606.1 733.7L606.9 733.5L607.6 733.3L608.4 733.1L609.1 732.9L609.9 732.8L610.6 732.7L611.4 732.6L612.1 732.6L612.9 732.6L613.6 732.6L614.4 732.6L615.1 732.5L615.9 732.5L616.6 732.5L617.4 732.5L618.1 732.5L618.9 732.5L619.6 732.5L620.4 732.5L621.1 732.5L621.9 732.5L622.6 732.5L623.4 732.5L624.1 732.6L624.9 732.7L625.6 733.0L626.4 733.3L627.1 733.7L627.9 734.0L628.6 734.2L629.4 734.3L630.1 734.4L630.9 734.4L631.6 734.4L632.4 734.3L633.1 734.0L633.9 733.7L634.6 733.4L635.4 733.1L636.1 732.7L636.9 732.4L637.6 732.3L638.4 732.6L639.1 732.9L639.9 733.2L640.6 733.3L641.4 733.4L642.1 733.5L642.9 733.6L643.6 733.6L644.4 733.4L645.1 733.1L645.9 732.9L646.6 732.6L647.4 732.2L648.1 731.9L648.9 731.7L649.6 731.7L650.4 731.8L651.1 731.9"/>
<path d="M144.1 731.4L144.8 731.5L145.6 731.9L146.3 732.3L147.1 733.3L147.8 734.3L148.6 734.6L149.3 734.8L150.1 734.9L150.8 735.1L151.6 735.2L152.3 735.3L153.1 735.3L153.8 735.3L154.6 735.3L155.3 735.2L156.1 735.0L156.8 734.8L157.6 734.6L158.3 734.4L159.1 734.1L159.8 733.8L160.6 733.5L161.3 733.2L162.1 733.0L162.8 732.7L163.6 732.5L164.3 732.3L165.1 732.2L165.8 732.1L166.6 732.0L167.3 732.0L168.1 732.0L168.8 732.0L169.6 732.2L170.3 732.3L171.1 732.5L171.8 732.7L172.6 732.9L173.3 733.2L174.1 733.4L174.8 733.6L175.6 733.7L176.3 733.8L177.1 733.8L177.8 733.8L178.6 733.7L179.3 733.5L180.1 733.4L180.8 733.5L181.6 733.6L182.3 733.7L183.1 733.7L183.8 733.7L184.6 733.7L185.3 733.7L186.1 733.6L186.8 733.5L187.6 733.3L188.3 733.1L189.1 733.0L189.8 732.9L190.6 733.0L191.3 733.0L192.1 733.1L192.8 733.0L193.6 733.0L194.3 732.9L195.1 733.0L195.8 733.0L196.6 733.1L197.3 733.2L198.1 733.3L198.8 733.4L199.6 733.5L200.3 733.6L201.1 733.7L201.8 733.8L202.6 734.0L203.3 734.2L204.1 734.5L204.8 734.8L205.6 735.0L206.3 735.1L207.1 734.6L207.8 734.3L208.6 734.3L209.3 734.3L210.1 734.4L210.8 734.4L211.6 734.5L212.3 734.6L213.1 734.7L213.8 734.8L214.6 734.9L215.3 735.0L216.1 735.0L216.8 735.1L217.6 735.2L218.3 735.3L219.1 735.4L219.8 735.4L220.6 735.5L221.3 735.5L222.1 735.6L222.8 735.6L223.6 735.6L224.3 735.7L225.1 735.7L225.8 735.7L226.6 735.7L227.3 735.7L228.1 735.8L228.8 735.8L229.6 735.8L230.3 735.9L231.1 736.1L231.8 736.2L232.6 736.4L233.3 736.6L234.1 736.8L234.8 737.0L235.6 737.2L236.3 737.4L237.1 737.5L237.8 737.7L238.6 737.9L239.3 738.2L240.1 738.4L240.8 738.6L241.6 738.8L242.3 739.0L243.1 739.1L243.8 739.3L244.6 739.4L245.3 739.5L246.1 739.6L246.8 739.7L247.6 739.7L248.3 739.8L249.1 739.9L249.8 740.0L250.6 740.1L251.3 740.3L252.1 740.6L252.8 740.9L253.6 741.2L254.3 741.6L255.1 741.9L255.8 742.1L256.6 742.2L257.4 742.3L258.1 742.4L258.9 742.5L259.6 742.6L260.4 742.6L261.1 742.8L261.9 742.9L262.6 743.2L263.4 743.5L264.1 743.9L264.9 744.3L265.6 744.6L266.4 744.9L267.1 745.1L267.9 745.2L268.6 745.4L269.4 745.5L270.1 745.6L270.9 745.7L271.6 745.7L272.4 745.8L273.1 745.9L273.9 745.9L274.6 746.0L275.4 746.1L276.1 746.2L276.9 746.3L277.6 746.4L278.4 746.5L279.1 746.7L279.9 746.9L280.6 747.1L281.4 747.7L282.1 748.4L282.9 749.2L283.6 750.2L284.4 751.3L285.1 752.4L285.9 753.5L286.6 754.5L287.4 755.5L288.1 756.4L288.9 757.1L289.6 757.8L290.4 758.4L291.1 759.0L291.9 759.5L292.6 760.1L293.4 760.6L294.1 761.1L294.9 761.6L295.6 762.1L296.4 762.6L297.1 763.1L297.9 763.5L298.6 764.0L299.4 764.4L300.1 764.9L300.9 765.3L301.6 765.7L302.4 766.2L303.1 766.6L303.9 767.0L304.6 767.3L305.4 767.7L306.1 768.1L306.9 768.4L307.6 768.7L308.4 769.1L309.1 769.4L309.9 769.8L310.6 770.1L311.4 770.4L312.1 770.8L312.9 771.2L313.6 771.6L314.4 772.0L315.1 772.4L315.9 772.8L316.6 773.3L317.4 773.7L318.1 774.2L318.9 774.7L319.6 775.2L320.4 775.7L321.1 776.3L321.9 776.8L322.6 777.4L323.4 778.0L324.1 778.6L324.9 779.3L325.6 780.0L326.4 780.7L327.1 781.5L327.9 782.3L328.6 783.2L329.4 784.2L330.1 785.3L330.9 786.6L331.6 787.9L332.4 789.3L333.1 790.7L333.9 792.1L334.6 793.5L335.4 794.8L336.1 796.2L336.9 797.6L337.6 799.1L338.4 800.6L339.1 802.1L339.9 803.6L340.6 805.0L341.4 806.2L342.1 807.3L342.9 808.3L343.6 809.1L344.4 810.0L345.1 810.8L345.9 811.6L346.6 812.3L347.4 812.9L348.1 813.5L348.9 813.8L349.6 814.1L350.4 814.1L351.1 814.0L351.9 813.7L352.6 813.3L353.4 812.8L354.1 812.3L354.9 811.7L355.6 811.2L356.4 810.7L357.1 810.3L357.9 809.9L358.6 809.7L359.4 809.6L360.1 809.6L360.9 809.5L361.6 809.5L362.4 809.5L363.1 809.4L363.9 809.4L364.6 809.4L365.4 809.3L366.1 809.3L366.9 809.2L367.6 809.0L368.4 808.6L369.1 808.1L369.9 807.5L370.6 806.8L371.4 806.1L372.1 805.2L372.9 804.3L373.6 803.4L374.4 802.5L375.1 801.6L375.9 800.6L376.6 799.4L377.4 798.2L378.1 796.8L378.9 795.4L379.6 793.9L380.4 792.4L381.1 790.9L381.9 789.4L382.6 788.0L383.4 786.6L384.1 785.3L384.9 783.9L385.6 782.6L386.4 781.3L387.1 780.0L387.9 778.6L388.6 777.3L389.4 776.0L390.1 774.6L390.9 773.3L391.6 771.9L392.4 770.5L393.1 769.1L393.9 767.7L394.6 766.3L395.4 764.9L396.1 763.5L396.9 762.1L397.6 760.6L398.4 759.2L399.1 757.7L399.9 756.3L400.6 754.8L401.4 753.4L402.1 752.0L402.9 750.5L403.6 749.0L404.4 747.5L405.1 746.0L405.9 744.4L406.6 742.8L407.4 741.1L408.1 739.2L408.9 737.4L409.6 735.6L410.4 734.0L411.1 732.6L411.9 731.2L412.6 729.9L413.4 728.7L414.1 727.5L414.9 726.4L415.6 725.3L416.4 724.3L417.1 723.2L417.9 722.2L418.6 721.2L419.4 720.2L420.1 719.3L420.9 718.4L421.6 717.5L422.4 716.6L423.1 715.7L423.9 714.9L424.6 714.0L425.4 713.1L426.1 712.2L426.9 711.2L427.6 710.3L428.4 709.5L429.1 708.7L429.9 708.1L430.6 707.6L431.4 707.1L432.1 706.7L432.9 706.3L433.6 706.0L434.4 705.6L435.1 705.3L435.9 705.0L436.6 704.8L437.4 704.5L438.1 704.3L438.9 704.1L439.6 703.9L440.4 703.7L441.1 703.6L441.9 703.4L442.6 703.2L443.4 703.0L444.1 702.9L444.9 702.7L445.6 702.5L446.4 702.4L447.1 702.2L447.9 702.1L448.6 702.0L449.4 702.0L450.1 702.0L450.9 702.1L451.6 702.3L452.4 702.5L453.1 702.8L453.9 703.1L454.6 703.3L455.4 703.6L456.1 703.8L456.9 703.9L457.6 703.9L458.4 703.8L459.1 703.7L459.9 703.6L460.6 703.4L461.4 703.2L462.1 702.9L462.9 702.7L463.6 702.5L464.4 702.3L465.1 702.2L465.9 702.0L466.6 701.9L467.4 701.8L468.1 701.6L468.9 701.5L469.6 701.4L470.4 701.2L471.1 701.1L471.9 701.1L472.6 701.0L473.4 701.0L474.1 701.0L474.9 701.2L475.6 701.5L476.4 701.9L477.1 702.3L477.9 702.7L478.6 703.0L479.4 703.3L480.1 703.5L480.9 703.6L481.6 703.6L482.4 703.5L483.1 703.4L483.9 703.3L484.6 703.1L485.4 702.9L486.1 702.8L486.9 702.6L487.6 702.4L488.4 702.2L489.1 702.0L489.9 701.9L490.6 701.8L491.4 701.7L492.1 701.6L492.9 701.5L493.6 701.4L494.4 701.3L495.1 701.2L495.9 701.1L496.6 701.1L497.4 701.0L498.1 701.0L498.9 701.0L499.6 701.0L500.4 701.0L501.1 701.0L501.9 701.1L502.6 701.1L503.4 701.1L504.1 701.3L504.9 701.5L505.6 701.8L506.4 702.1L507.1 702.5L507.9 702.9L508.6 703.3L509.4 703.7L510.1 704.0L510.9 704.3L511.6 704.5L512.4 704.6L513.1 704.8L513.9 705.0L514.6 705.1L515.4 705.2L516.1 705.4L516.9 705.5L517.6 705.6L518.4 705.8L519.1 705.9L519.9 706.1L520.6 706.2L521.4 706.4L522.1 706.6L522.9 706.9L523.6 707.2L524.4 707.6L525.1 708.0L525.9 708.4L526.6 708.8L527.4 709.2L528.1 709.6L528.9 710.0L529.6 710.3L530.4 710.6L531.1 710.9L531.9 711.2L532.6 711.5L533.4 711.7L534.1 712.0L534.9 712.3L535.6 712.6L536.4 712.9L537.1 713.3L537.9 713.6L538.6 714.0L539.4 714.3L540.1 714.7L540.9 715.0L541.6 715.4L542.4 715.9L543.1 716.3L543.9 716.8L544.6 717.3L545.4 717.9L546.1 718.6L546.9 719.2L547.6 719.9L548.4 720.5L549.1 721.2L549.9 721.8L550.6 722.3L551.4 722.9L552.1 723.4L552.9 723.9L553.6 724.4L554.4 724.9L555.1 725.4L555.9 725.8L556.6 726.3L557.4 726.7L558.1 727.1L558.9 727.4L559.6 727.7L560.4 728.0L561.1 728.2L561.9 728.5L562.6 728.7L563.4 728.9L564.1 729.1L564.9 729.3L565.6 729.5L566.4 729.7L567.1 729.9L567.9 730.1L568.6 730.2L569.4 730.4L570.1 730.5L570.9 730.7L571.6 730.8L572.4 731.0L573.1 731.1L573.9 731.3L574.6 731.4L575.4 731.5L576.1 731.7L576.9 731.8L577.6 731.9L578.4 732.0L579.1 732.1L579.9 732.2L580.6 732.4L581.4 732.5L582.1 732.7L582.9 732.9L583.6 733.1L584.4 733.3L585.1 733.4L585.9 733.5L586.6 733.5L587.4 733.3L588.1 733.0L588.9 732.6L589.6 732.2L590.4 731.8L591.1 731.5L591.9 731.3L592.6 731.3L593.4 731.4L594.1 731.6L594.9 731.7L595.6 731.9L596.4 732.0L597.1 732.1L597.9 732.2L598.6 732.2L599.4 732.3L600.1 732.4L600.9 732.4L601.6 732.4L602.4 732.5L603.1 732.5L603.9 732.5L604.6 732.5L605.4 732.4L606.1 732.3L606.9 732.2L607.6 732.2L608.4 732.1L609.1 732.0L609.9 731.9L610.6 731.9L611.4 731.9L612.1 731.9L612.9 731.9L613.6 731.9L614.4 731.9L615.1 732.0L615.9 732.0L616.6 732.0L617.4 732.1L618.1 732.1L618.9 732.2L619.6 732.3L620.4 732.4L621.1 732.6L621.9 732.7L622.6 732.8L623.4 732.9L624.1 732.9L624.9 732.9L625.6 732.9L626.4 732.9L627.1 733.0L627.9 733.0L628.6 733.0L629.4 732.9L630.1 732.9L630.9 732.9L631.6 732.8L632.4 732.7L633.1 732.5L633.9 732.2L634.6 732.0L635.4 731.8L636.1 731.6L636.9 731.5L637.6 731.5L638.4 731.7L639.1 732.1L639.9 732.3L640.6 732.5L641.4 732.6L642.1 732.7L642.9 732.8L643.6 732.8L644.4 732.7L645.1 732.6L645.9 732.4L646.6 732.3L647.4 732.2L648.1 732.2L648.9 732.1L649.6 732.1L650.4 732.2L651.1 732.3"/>
<path d="M144.1 730.4L144.8 730.1L145.6 730.0L146.3 730.1L147.1 731.1L147.8 732.3L148.6 732.7L149.3 732.9L150.1 733.0L150.8 733.2L151.6 733.4L152.3 733.5L153.1 733.7L153.8 733.8L154.6 734.0L155.3 734.2L156.1 734.3L156.8 734.5L157.6 734.6L158.3 734.7L159.1 734.9L159.8 735.0L160.6 735.0L161.3 735.1L162.1 735.1L162.8 735.2L163.6 735.2L164.3 735.2L165.1 735.1L165.8 735.0L166.6 734.9L167.3 734.8L168.1 734.6L168.8 734.4L169.6 734.2L170.3 734.0L171.1 733.8L171.8 733.5L172.6 733.3L173.3 733.1L174.1 732.8L174.8 732.5L175.6 732.2L176.3 731.8L177.1 731.5L177.8 731.1L178.6 730.7L179.3 730.3L180.1 730.1L180.8 730.2L181.6 730.4L182.3 730.7L183.1 731.0L183.8 731.3L184.6 731.6L185.3 732.0L186.1 732.3L186.8 732.5L187.6 732.7L188.3 732.9L189.1 733.1L189.8 733.4L190.6 733.6L191.3 733.8L192.1 734.0L192.8 734.1L193.6 734.2L194.3 734.2L195.1 734.3L195.8 734.4L196.6 734.4L197.3 734.5L198.1 734.5L198.8 734.5L199.6 734.5L200.3 734.4L201.1 734.4L201.8 734.3L202.6 734.3L203.3 734.4L204.1 734.5L204.8 734.7L205.6 734.9L206.3 735.0L207.1 734.6L207.8 734.3L208.6 734.3L209.3 734.4L210.1 734.5L210.8 734.6L211.6 734.8L212.3 734.9L213.1 735.0L213.8 735.0L214.6 735.0L215.3 735.0L216.1 735.0L216.8 735.0L217.6 735.0L218.3 735.0L219.1 735.0L219.8 735.0L220.6 735.0L221.3 735.0L222.1 735.0L222.8 735.1L223.6 735.3L224.3 735.5L225.1 735.8L225.8 736.2L226.6 736.5L227.3 736.8L228.1 737.2L228.8 737.4L229.6 737.6L230.3 737.8L231.1 738.0L231.8 738.2L232.6 738.4L233.3 738.5L234.1 738.7L234.8 738.9L235.6 739.1L236.3 739.3L237.1 739.5L237.8 739.7L238.6 739.9L239.3 740.2L240.1 740.4L240.8 740.6L241.6 740.9L242.3 741.1L243.1 741.4L243.8 741.6L244.6 741.8L245.3 742.0L246.1 742.3L246.8 742.5L247.6 742.7L248.3 742.9L249.1 743.2L249.8 743.4L250.6 743.7L251.3 744.0L252.1 744.4L252.8 744.8L253.6 745.2L254.3 745.7L255.1 746.1L255.8 746.5L256.6 746.8L257.4 747.1L258.1 747.4L258.9 747.6L259.6 747.9L260.4 748.2L261.1 748.5L261.9 748.8L262.6 749.2L263.4 749.6L264.1 750.0L264.9 750.4L265.6 750.8L266.4 751.2L267.1 751.5L267.9 751.8L268.6 752.1L269.4 752.3L270.1 752.5L270.9 752.7L271.6 752.9L272.4 753.1L273.1 753.3L273.9 753.5L274.6 753.7L275.4 753.9L276.1 754.1L276.9 754.3L277.6 754.6L278.4 754.9L279.1 755.2L279.9 755.6L280.6 756.1L281.4 756.8L282.1 757.7L282.9 758.7L283.6 759.8L284.4 761.0L285.1 762.2L285.9 763.4L286.6 764.6L287.4 765.6L288.1 766.6L288.9 767.3L289.6 768.0L290.4 768.6L291.1 769.2L291.9 769.7L292.6 770.2L293.4 770.6L294.1 771.1L294.9 771.5L295.6 772.0L296.4 772.5L297.1 773.0L297.9 773.6L298.6 774.2L299.4 774.9L300.1 775.7L300.9 776.7L301.6 777.6L302.4 778.7L303.1 779.8L303.9 780.9L304.6 782.0L305.4 783.1L306.1 784.2L306.9 785.2L307.6 786.2L308.4 787.0L309.1 787.7L309.9 788.3L310.6 788.9L311.4 789.4L312.1 789.8L312.9 790.3L313.6 790.7L314.4 791.1L315.1 791.4L315.9 791.8L316.6 792.2L317.4 792.6L318.1 793.1L318.9 793.5L319.6 794.1L320.4 794.6L321.1 795.3L321.9 796.0L322.6 796.7L323.4 797.5L324.1 798.4L324.9 799.3L325.6 800.3L326.4 801.4L327.1 802.5L327.9 803.7L328.6 805.0L329.4 806.3L330.1 807.8L330.9 809.7L331.6 811.9L332.4 814.3L333.1 816.8L333.9 819.3L334.6 821.7L335.4 823.9L336.1 825.9L336.9 828.0L337.6 830.1L338.4 832.1L339.1 834.0L339.9 835.9L340.6 837.5L341.4 839.0L342.1 840.5L342.9 841.9L343.6 843.3L344.4 844.5L345.1 845.2L345.9 845.4L346.6 845.3L347.4 845.2L348.1 845.0L348.9 844.8L349.6 844.7L350.4 844.7L351.1 844.9L351.9 845.2L352.6 845.6L353.4 846.0L354.1 846.4L354.9 846.7L355.6 846.9L356.4 846.9L357.1 846.9L357.9 846.9L358.6 846.9L359.4 846.8L360.1 846.8L360.9 846.7L361.6 846.7L362.4 846.6L363.1 846.6L363.9 846.5L364.6 846.4L365.4 846.3L366.1 846.2L366.9 846.0L367.6 845.6L368.4 845.1L369.1 844.5L369.9 843.8L370.6 843.0L371.4 842.1L372.1 841.2L372.9 840.0L373.6 838.5L374.4 836.7L375.1 834.9L375.9 832.9L376.6 831.0L377.4 829.0L378.1 827.2L378.9 825.4L379.6 823.7L380.4 822.0L381.1 820.3L381.9 818.5L382.6 816.7L383.4 814.9L384.1 812.9L384.9 810.8L385.6 808.7L386.4 806.5L387.1 804.4L387.9 802.3L388.6 800.3L389.4 798.4L390.1 796.5L390.9 794.8L391.6 793.0L392.4 791.2L393.1 789.3L393.9 787.3L394.6 785.2L395.4 783.0L396.1 780.8L396.9 778.4L397.6 776.1L398.4 773.7L399.1 771.4L399.9 769.0L400.6 766.7L401.4 764.4L402.1 762.0L402.9 759.6L403.6 757.2L404.4 754.8L405.1 752.4L405.9 750.1L406.6 747.8L407.4 745.6L408.1 743.4L408.9 741.4L409.6 739.4L410.4 737.5L411.1 735.6L411.9 733.7L412.6 731.8L413.4 730.0L414.1 728.1L414.9 726.3L415.6 724.5L416.4 722.8L417.1 721.0L417.9 719.2L418.6 717.4L419.4 715.6L420.1 713.9L420.9 712.1L421.6 710.3L422.4 708.4L423.1 706.4L423.9 704.1L424.6 701.9L425.4 699.7L426.1 697.8L426.9 696.2L427.6 694.9L428.4 693.7L429.1 692.6L429.9 691.6L430.6 690.7L431.4 689.9L432.1 689.2L432.9 688.6L433.6 688.0L434.4 687.5L435.1 687.0L435.9 686.5L436.6 686.1L437.4 685.7L438.1 685.4L438.9 685.1L439.6 684.8L440.4 684.6L441.1 684.5L441.9 684.3L442.6 684.2L443.4 684.0L444.1 683.9L444.9 683.8L445.6 683.7L446.4 683.6L447.1 683.5L447.9 683.3L448.6 683.2L449.4 683.0L450.1 682.7L450.9 682.5L451.6 682.2L452.4 681.9L453.1 681.7L453.9 681.5L454.6 681.3L455.4 681.2L456.1 681.2L456.9 681.2L457.6 681.3L458.4 681.5L459.1 681.7L459.9 681.9L460.6 682.1L461.4 682.3L462.1 682.5L462.9 682.7L463.6 682.9L464.4 683.0L465.1 683.2L465.9 683.4L466.6 683.6L467.4 683.8L468.1 683.9L468.9 684.1L469.6 684.2L470.4 684.2L471.1 684.1L471.9 683.7L472.6 683.0L473.4 682.1L474.1 681.2L474.9 680.3L475.6 679.4L476.4 678.7L477.1 678.0L477.9 677.3L478.6 676.6L479.4 675.9L480.1 675.0L480.9 674.5L481.6 674.9L482.4 675.5L483.1 676.0L483.9 676.5L484.6 677.0L485.4 677.5L486.1 678.0L486.9 678.6L487.6 679.2L488.4 679.8L489.1 680.4L489.9 680.9L490.6 681.2L491.4 681.4L492.1 681.5L492.9 681.6L493.6 681.6L494.4 681.7L495.1 681.8L495.9 681.9L496.6 682.1L497.4 682.2L498.1 682.4L498.9 682.6L499.6 682.8L500.4 683.0L501.1 683.2L501.9 683.4L502.6 683.6L503.4 683.8L504.1 684.0L504.9 684.3L505.6 684.5L506.4 684.8L507.1 685.1L507.9 685.4L508.6 685.7L509.4 686.0L510.1 686.3L510.9 686.7L511.6 687.0L512.4 687.4L513.1 687.7L513.9 688.1L514.6 688.4L515.4 688.8L516.1 689.1L516.9 689.5L517.6 689.9L518.4 690.2L519.1 690.6L519.9 691.0L520.6 691.4L521.4 691.7L522.1 692.1L522.9 692.5L523.6 692.9L524.4 693.3L525.1 693.7L525.9 694.1L526.6 694.4L527.4 694.8L528.1 695.2L528.9 695.5L529.6 695.9L530.4 696.2L531.1 696.5L531.9 696.9L532.6 697.3L533.4 697.6L534.1 698.1L534.9 698.5L535.6 699.1L536.4 699.6L537.1 700.3L537.9 701.0L538.6 701.8L539.4 702.5L540.1 703.4L540.9 704.2L541.6 705.0L542.4 705.9L543.1 706.7L543.9 707.5L544.6 708.4L545.4 709.3L546.1 710.2L546.9 711.2L547.6 712.1L548.4 713.1L549.1 714.0L549.9 714.9L550.6 715.7L551.4 716.6L552.1 717.4L552.9 718.2L553.6 719.1L554.4 719.9L555.1 720.7L555.9 721.5L556.6 722.2L557.4 722.9L558.1 723.6L558.9 724.1L559.6 724.6L560.4 725.1L561.1 725.5L561.9 725.9L562.6 726.3L563.4 726.7L564.1 727.0L564.9 727.4L565.6 727.7L566.4 728.0L567.1 728.3L567.9 728.5L568.6 728.8L569.4 729.0L570.1 729.2L570.9 729.5L571.6 729.7L572.4 729.9L573.1 730.1L573.9 730.3L574.6 730.5L575.4 730.7L576.1 731.0L576.9 731.3L577.6 731.7L578.4 732.0L579.1 732.3L579.9 732.5L580.6 732.6L581.4 732.6L582.1 732.6L582.9 732.5L583.6 732.4L584.4 732.3L585.1 732.1L585.9 732.0L586.6 731.8L587.4 731.6L588.1 731.2L588.9 730.8L589.6 730.5L590.4 730.1L591.1 729.9L591.9 729.7L592.6 729.7L593.4 729.8L594.1 730.0L594.9 730.2L595.6 730.4L596.4 730.6L597.1 730.7L597.9 731.0L598.6 731.2L599.4 731.3L600.1 731.4L600.9 731.5L601.6 731.5L602.4 731.6L603.1 731.6L603.9 731.6L604.6 731.6L605.4 731.6L606.1 731.6L606.9 731.6L607.6 731.6L608.4 731.6L609.1 731.6L609.9 731.5L610.6 731.5L611.4 731.5L612.1 731.6L612.9 731.6L613.6 731.6L614.4 731.6L615.1 731.7L615.9 731.7L616.6 731.7L617.4 731.8L618.1 731.8L618.9 731.8L619.6 731.7L620.4 731.7L621.1 731.7L621.9 731.6L622.6 731.6L623.4 731.6L624.1 731.6L624.9 731.6L625.6 731.6L626.4 731.7L627.1 731.7L627.9 731.8L628.6 731.9L629.4 732.0L630.1 732.2L630.9 732.4L631.6 732.5L632.4 732.5L633.1 732.6L633.9 732.6L634.6 732.6L635.4 732.5L636.1 732.4L636.9 732.3L637.6 732.3L638.4 732.3L639.1 732.3L639.9 732.3L640.6 732.2L641.4 732.1L642.1 732.0L642.9 731.8L643.6 731.6L644.4 731.3L645.1 730.9L645.9 730.6L646.6 730.3L647.4 730.1L648.1 729.9L648.9 729.8L649.6 729.9L650.4 730.2L651.1 730.7"/>
<path d="M144.1 730.4L144.8 730.4L145.6 730.4L146.3 730.6L147.1 731.8L147.8 733.1L148.6 733.7L149.3 734.1L150.1 734.4L150.8 734.7L151.6 735.0L152.3 735.1L153.1 735.2L153.8 735.3L154.6 735.3L155.3 735.2L156.1 735.0L156.8 734.7L157.6 734.4L158.3 734.1L159.1 733.7L159.8 733.3L160.6 733.0L161.3 732.7L162.1 732.5L162.8 732.3L163.6 732.2L164.3 732.2L165.1 732.2L165.8 732.3L166.6 732.5L167.3 732.7L168.1 733.0L168.8 733.3L169.6 733.6L170.3 733.9L171.1 734.2L171.8 734.4L172.6 734.5L173.3 734.5L174.1 734.6L174.8 734.4L175.6 734.1L176.3 733.8L177.1 733.3L177.8 732.7L178.6 732.1L179.3 731.3L180.1 730.9L180.8 730.9L181.6 730.8L182.3 730.8L183.1 731.0L183.8 731.3L184.6 731.6L185.3 732.1L186.1 732.6L186.8 733.0L187.6 733.3L188.3 733.7L189.1 734.1L189.8 734.5L190.6 734.8L191.3 735.2L192.1 735.3L192.8 735.3L193.6 735.3L194.3 735.3L195.1 735.2L195.8 734.9L196.6 734.6L197.3 734.2L198.1 733.8L198.8 733.3L199.6 732.7L200.3 732.2L201.1 731.5L201.8 731.0L202.6 731.0L203.3 731.0L204.1 731.1L204.8 731.6L205.6 732.4L206.3 733.0L207.1 733.5L207.8 733.9L208.6 734.1L209.3 734.4L210.1 734.6L210.8 734.7L211.6 734.9L212.3 735.0L213.1 735.1L213.8 735.3L214.6 735.5L215.3 735.6L216.1 735.8L216.8 736.0L217.6 736.1L218.3 736.3L219.1 736.5L219.8 736.6L220.6 736.8L221.3 736.9L222.1 737.1L222.8 737.2L223.6 737.4L224.3 737.6L225.1 737.7L225.8 737.9L226.6 738.0L227.3 738.2L228.1 738.3L228.8 738.4L229.6 738.6L230.3 738.7L231.1 738.8L231.8 738.8L232.6 738.9L233.3 739.0L234.1 739.1L234.8 739.2L235.6 739.3L236.3 739.5L237.1 739.6L237.8 739.9L238.6 740.2L239.3 740.5L240.1 740.8L240.8 741.2L241.6 741.6L242.3 742.0L243.1 742.4L243.8 742.8L244.6 743.3L245.3 743.8L246.1 744.4L246.8 744.9L247.6 745.5L248.3 746.0L249.1 746.5L249.8 746.9L250.6 747.2L251.3 747.4L252.1 747.5L252.8 747.6L253.6 747.6L254.3 747.7L255.1 747.8L255.8 747.9L256.6 748.2L257.4 748.6L258.1 749.3L258.9 750.0L259.6 750.7L260.4 751.4L261.1 751.9L261.9 752.4L262.6 752.8L263.4 753.2L264.1 753.6L264.9 753.9L265.6 754.3L266.4 754.6L267.1 754.9L267.9 755.2L268.6 755.5L269.4 755.8L270.1 756.1L270.9 756.3L271.6 756.5L272.4 756.8L273.1 757.0L273.9 757.3L274.6 757.5L275.4 757.8L276.1 758.1L276.9 758.4L277.6 758.7L278.4 759.1L279.1 759.5L279.9 759.9L280.6 760.4L281.4 761.1L282.1 761.9L282.9 762.8L283.6 763.8L284.4 764.9L285.1 766.1L285.9 767.4L286.6 768.7L287.4 770.1L288.1 771.5L288.9 773.0L289.6 774.4L290.4 775.9L291.1 777.3L291.9 778.7L292.6 780.0L293.4 781.4L294.1 782.6L294.9 783.8L295.6 785.0L296.4 786.1L297.1 787.3L297.9 788.5L298.6 789.7L299.4 790.9L300.1 792.1L300.9 793.3L301.6 794.4L302.4 795.5L303.1 796.6L303.9 797.7L304.6 798.7L305.4 799.7L306.1 800.7L306.9 801.5L307.6 802.4L308.4 803.2L309.1 803.9L309.9 804.6L310.6 805.3L311.4 806.0L312.1 806.7L312.9 807.3L313.6 808.0L314.4 808.7L315.1 809.3L315.9 810.1L316.6 810.8L317.4 811.6L318.1 812.5L318.9 813.4L319.6 814.4L320.4 815.4L321.1 816.5L321.9 817.7L322.6 819.0L323.4 820.3L324.1 821.7L324.9 823.1L325.6 824.6L326.4 826.1L327.1 827.7L327.9 829.3L328.6 831.0L329.4 832.8L330.1 834.7L330.9 836.7L331.6 838.8L332.4 840.9L333.1 843.1L333.9 845.4L334.6 847.7L335.4 850.0L336.1 852.5L336.9 855.1L337.6 857.8L338.4 860.6L339.1 863.4L339.9 866.1L340.6 868.7L341.4 871.2L342.1 873.6L342.9 876.2L343.6 878.7L344.4 880.8L345.1 882.5L345.9 883.6L346.6 884.3L347.4 885.0L348.1 885.6L348.9 886.2L349.6 886.7L350.4 887.1L351.1 887.4L351.9 887.7L352.6 887.8L353.4 887.8L354.1 887.8L354.9 887.8L355.6 887.7L356.4 887.7L357.1 887.6L357.9 887.5L358.6 887.5L359.4 887.4L360.1 887.3L360.9 887.1L361.6 886.9L362.4 886.7L363.1 886.5L363.9 886.2L364.6 886.0L365.4 885.6L366.1 885.2L366.9 884.6L367.6 883.9L368.4 883.1L369.1 882.2L369.9 881.2L370.6 880.1L371.4 878.9L372.1 877.5L372.9 875.7L373.6 873.5L374.4 871.0L375.1 868.5L375.9 865.9L376.6 863.6L377.4 861.5L378.1 859.4L378.9 857.4L379.6 855.5L380.4 853.6L381.1 851.6L381.9 849.7L382.6 847.7L383.4 845.7L384.1 843.6L384.9 841.4L385.6 839.1L386.4 836.6L387.1 834.1L387.9 831.5L388.6 828.8L389.4 826.0L390.1 823.2L390.9 820.3L391.6 817.4L392.4 814.5L393.1 811.6L393.9 808.7L394.6 805.9L395.4 803.1L396.1 800.4L396.9 797.7L397.6 795.1L398.4 792.5L399.1 789.7L399.9 786.9L400.6 783.9L401.4 780.8L402.1 777.7L402.9 774.5L403.6 771.2L404.4 767.9L405.1 764.6L405.9 761.4L406.6 758.1L407.4 755.0L408.1 751.8L408.9 748.8L409.6 745.9L410.4 743.2L411.1 740.5L411.9 738.0L412.6 735.5L413.4 733.1L414.1 730.8L414.9 728.6L415.6 726.4L416.4 724.2L417.1 722.1L417.9 719.9L418.6 717.7L419.4 715.5L420.1 713.3L420.9 711.1L421.6 708.8L422.4 706.5L423.1 704.2L423.9 701.8L424.6 699.2L425.4 696.4L426.1 693.5L426.9 690.7L427.6 688.3L428.4 686.4L429.1 684.8L429.9 683.4L430.6 682.0L431.4 680.8L432.1 679.7L432.9 678.7L433.6 677.9L434.4 677.2L435.1 676.5L435.9 675.9L436.6 675.3L437.4 674.8L438.1 674.3L438.9 673.9L439.6 673.4L440.4 673.0L441.1 672.7L441.9 672.3L442.6 672.0L443.4 671.6L444.1 671.3L444.9 671.0L445.6 670.6L446.4 670.3L447.1 670.0L447.9 669.7L448.6 669.4L449.4 669.2L450.1 668.9L450.9 668.8L451.6 668.7L452.4 668.6L453.1 668.6L453.9 668.9L454.6 669.2L455.4 669.6L456.1 669.9L456.9 669.9L457.6 669.8L458.4 669.6L459.1 669.4L459.9 669.2L460.6 668.9L461.4 668.7L462.1 668.5L462.9 668.3L463.6 668.2L464.4 668.0L465.1 668.0L465.9 667.9L466.6 667.8L467.4 667.7L468.1 667.6L468.9 667.6L469.6 667.5L470.4 667.4L471.1 667.3L471.9 667.2L472.6 667.1L473.4 667.0L474.1 666.8L474.9 666.7L475.6 666.5L476.4 666.3L477.1 666.2L477.9 666.0L478.6 665.9L479.4 665.8L480.1 665.7L480.9 665.7L481.6 665.7L482.4 665.8L483.1 665.8L483.9 665.9L484.6 666.0L485.4 666.2L486.1 666.3L486.9 666.5L487.6 666.6L488.4 666.7L489.1 666.9L489.9 667.0L490.6 667.1L491.4 667.2L492.1 667.4L492.9 667.5L493.6 667.6L494.4 667.7L495.1 667.8L495.9 667.9L496.6 668.0L497.4 668.1L498.1 668.2L498.9 668.3L499.6 668.4L500.4 668.4L501.1 668.5L501.9 668.6L502.6 668.7L503.4 668.8L504.1 668.9L504.9 669.1L505.6 669.2L506.4 669.5L507.1 669.7L507.9 670.1L508.6 670.4L509.4 670.8L510.1 671.2L510.9 671.6L511.6 672.1L512.4 672.5L513.1 673.0L513.9 673.4L514.6 673.9L515.4 674.3L516.1 674.8L516.9 675.2L517.6 675.7L518.4 676.2L519.1 676.6L519.9 677.1L520.6 677.7L521.4 678.2L522.1 678.7L522.9 679.3L523.6 679.8L524.4 680.4L525.1 681.0L525.9 681.6L526.6 682.2L527.4 682.8L528.1 683.5L528.9 684.1L529.6 684.9L530.4 685.6L531.1 686.3L531.9 687.1L532.6 687.9L533.4 688.7L534.1 689.5L534.9 690.3L535.6 691.2L536.4 692.0L537.1 692.9L537.9 693.8L538.6 694.7L539.4 695.7L540.1 696.6L540.9 697.5L541.6 698.5L542.4 699.4L543.1 700.3L543.9 701.2L544.6 702.1L545.4 703.0L546.1 703.9L546.9 704.8L547.6 705.7L548.4 706.6L549.1 707.5L549.9 708.4L550.6 709.3L551.4 710.2L552.1 711.1L552.9 712.1L553.6 713.0L554.4 714.0L555.1 714.9L555.9 715.9L556.6 716.8L557.4 717.7L558.1 718.5L558.9 719.3L559.6 720.0L560.4 720.7L561.1 721.4L561.9 722.1L562.6 722.8L563.4 723.4L564.1 724.0L564.9 724.5L565.6 725.0L566.4 725.5L567.1 725.9L567.9 726.2L568.6 726.4L569.4 726.7L570.1 726.9L570.9 727.1L571.6 727.3L572.4 727.5L573.1 727.7L573.9 727.9L574.6 728.1L575.4 728.3L576.1 728.6L576.9 728.8L577.6 729.0L578.4 729.2L579.1 729.4L579.9 729.6L580.6 729.9L581.4 730.2L582.1 730.6L582.9 731.2L583.6 731.7L584.4 732.2L585.1 732.6L585.9 732.9L586.6 732.9L587.4 732.6L588.1 732.2L588.9 731.7L589.6 731.1L590.4 730.5L591.1 729.8L591.9 729.3L592.6 728.8L593.4 728.3L594.1 727.8L594.9 727.3L595.6 727.0L596.4 726.8L597.1 727.0L597.9 727.3L598.6 727.8L599.4 728.4L600.1 728.9L600.9 729.4L601.6 730.0L602.4 730.6L603.1 731.0L603.9 731.2L604.6 731.3L605.4 731.4L606.1 731.4L606.9 731.5L607.6 731.6L608.4 731.6L609.1 731.6L609.9 731.7L610.6 731.7L611.4 731.7L612.1 731.6L612.9 731.4L613.6 731.3L614.4 731.0L615.1 730.8L615.9 730.6L616.6 730.5L617.4 730.3L618.1 730.3L618.9 730.3L619.6 730.3L620.4 730.5L621.1 730.6L621.9 730.8L622.6 730.9L623.4 731.1L624.1 731.3L624.9 731.5L625.6 731.7L626.4 731.9L627.1 732.2L627.9 732.3L628.6 732.4L629.4 732.5L630.1 732.5L630.9 732.6L631.6 732.6L632.4 732.4L633.1 732.0L633.9 731.5L634.6 731.0L635.4 730.3L636.1 729.6L636.9 729.0L637.6 728.9L638.4 729.1L639.1 729.5L639.9 729.8L640.6 730.1L641.4 730.5L642.1 730.8L642.9 731.0L643.6 731.0L644.4 730.9L645.1 730.8L645.9 730.8L646.6 730.7L647.4 730.6L648.1 730.6L648.9 730.6L649.6 730.6L650.4 730.8L651.1 731.0"/>
<path d="M144.1 730.6L144.8 730.6L145.6 730.5L146.3 730.6L147.1 731.6L147.8 732.8L148.6 733.2L149.3 733.4L150.1 733.6L150.8 733.7L151.6 733.9L152.3 734.1L153.1 734.2L153.8 734.4L154.6 734.5L155.3 734.7L156.1 734.8L156.8 734.9L157.6 735.0L158.3 735.1L159.1 735.2L159.8 735.2L160.6 735.2L161.3 735.2L162.1 735.2L162.8 735.1L163.6 735.1L164.3 735.0L165.1 734.8L165.8 734.7L166.6 734.5L167.3 734.3L168.1 734.1L168.8 733.8L169.6 733.6L170.3 733.4L171.1 733.1L171.8 732.9L172.6 732.6L173.3 732.4L174.1 732.1L174.8 731.8L175.6 731.5L176.3 731.2L177.1 730.9L177.8 730.6L178.6 730.3L179.3 730.0L180.1 729.8L180.8 730.0L181.6 730.4L182.3 730.7L183.1 731.1L183.8 731.5L184.6 731.9L185.3 732.4L186.1 732.8L186.8 733.0L187.6 733.3L188.3 733.5L189.1 733.7L189.8 734.0L190.6 734.2L191.3 734.4L192.1 734.6L192.8 734.7L193.6 734.8L194.3 734.8L195.1 734.9L195.8 734.9L196.6 734.9L197.3 734.9L198.1 734.9L198.8 734.8L199.6 734.7L200.3 734.6L201.1 734.4L201.8 734.3L202.6 734.2L203.3 734.2L204.1 734.2L204.8 734.3L205.6 734.5L206.3 734.5L207.1 734.5L207.8 734.5L208.6 734.5L209.3 734.7L210.1 734.9L210.8 735.1L211.6 735.4L212.3 735.7L213.1 735.9L213.8 736.1L214.6 736.3L215.3 736.4L216.1 736.6L216.8 736.7L217.6 736.8L218.3 736.9L219.1 737.1L219.8 737.2L220.6 737.3L221.3 737.5L222.1 737.7L222.8 737.9L223.6 738.1L224.3 738.3L225.1 738.6L225.8 738.9L226.6 739.1L227.3 739.4L228.1 739.6L228.8 739.9L229.6 740.1L230.3 740.2L231.1 740.4L231.8 740.5L232.6 740.7L233.3 740.8L234.1 741.0L234.8 741.2L235.6 741.4L236.3 741.6L237.1 741.8L237.8 742.1L238.6 742.4L239.3 742.8L240.1 743.1L240.8 743.5L241.6 743.9L242.3 744.3L243.1 744.7L243.8 745.2L244.6 745.6L245.3 746.2L246.1 746.7L246.8 747.3L247.6 747.9L248.3 748.5L249.1 749.0L249.8 749.5L250.6 749.9L251.3 750.3L252.1 750.6L252.8 750.8L253.6 751.0L254.3 751.2L255.1 751.4L255.8 751.7L256.6 752.1L257.4 752.6L258.1 753.1L258.9 753.7L259.6 754.3L260.4 754.9L261.1 755.4L261.9 755.9L262.6 756.4L263.4 756.8L264.1 757.3L264.9 757.8L265.6 758.2L266.4 758.7L267.1 759.2L267.9 759.6L268.6 760.1L269.4 760.5L270.1 760.9L270.9 761.3L271.6 761.7L272.4 762.0L273.1 762.4L273.9 762.9L274.6 763.3L275.4 763.7L276.1 764.2L276.9 764.7L277.6 765.3L278.4 765.8L279.1 766.5L279.9 767.2L280.6 767.9L281.4 768.9L282.1 770.0L282.9 771.2L283.6 772.6L284.4 774.0L285.1 775.6L285.9 777.1L286.6 778.7L287.4 780.4L288.1 782.0L288.9 783.6L289.6 785.1L290.4 786.6L291.1 788.1L291.9 789.6L292.6 791.1L293.4 792.7L294.1 794.3L294.9 795.9L295.6 797.5L296.4 799.0L297.1 800.6L297.9 802.1L298.6 803.5L299.4 804.9L300.1 806.3L300.9 807.6L301.6 808.8L302.4 809.9L303.1 811.1L303.9 812.2L304.6 813.3L305.4 814.3L306.1 815.4L306.9 816.5L307.6 817.5L308.4 818.6L309.1 819.7L309.9 820.9L310.6 822.0L311.4 823.1L312.1 824.2L312.9 825.3L313.6 826.4L314.4 827.5L315.1 828.6L315.9 829.8L316.6 831.0L317.4 832.2L318.1 833.5L318.9 834.9L319.6 836.3L320.4 837.8L321.1 839.4L321.9 841.0L322.6 842.8L323.4 844.6L324.1 846.5L324.9 848.4L325.6 850.4L326.4 852.5L327.1 854.7L327.9 856.9L328.6 859.4L329.4 861.9L330.1 864.5L330.9 867.2L331.6 870.0L332.4 872.9L333.1 875.9L333.9 879.2L334.6 882.6L335.4 886.2L336.1 889.7L336.9 893.3L337.6 896.6L338.4 899.8L339.1 903.0L339.9 906.5L340.6 910.0L341.4 913.4L342.1 916.4L342.9 918.8L343.6 920.4L344.4 920.9L345.1 921.1L345.9 921.2L346.6 921.3L347.4 921.3L348.1 921.4L348.9 921.5L349.6 921.6L350.4 921.8L351.1 922.2L351.9 922.8L352.6 923.5L353.4 924.2L354.1 924.8L354.9 925.1L355.6 925.1L356.4 925.0L357.1 925.0L357.9 924.9L358.6 924.8L359.4 924.7L360.1 924.7L360.9 924.8L361.6 925.1L362.4 925.4L363.1 925.7L363.9 926.0L364.6 926.3L365.4 926.5L366.1 926.5L366.9 925.2L367.6 924.0L368.4 922.9L369.1 921.7L369.9 920.5L370.6 919.2L371.4 917.7L372.1 916.2L372.9 914.6L373.6 912.9L374.4 911.2L375.1 909.4L375.9 907.5L376.6 905.7L377.4 903.7L378.1 901.8L378.9 899.8L379.6 897.9L380.4 895.8L381.1 893.6L381.9 891.2L382.6 888.5L383.4 885.6L384.1 882.3L384.9 878.8L385.6 875.1L386.4 871.2L387.1 867.2L387.9 863.1L388.6 859.1L389.4 855.0L390.1 851.0L390.9 847.1L391.6 843.3L392.4 839.8L393.1 836.3L393.9 832.9L394.6 829.6L395.4 826.3L396.1 823.1L396.9 819.8L397.6 816.6L398.4 813.4L399.1 810.2L399.9 807.0L400.6 803.8L401.4 800.6L402.1 797.5L402.9 794.5L403.6 791.3L404.4 787.7L405.1 783.6L405.9 779.0L406.6 774.0L407.4 768.9L408.1 763.7L408.9 758.7L409.6 753.8L410.4 749.4L411.1 745.5L411.9 742.3L412.6 739.5L413.4 737.1L414.1 734.6L414.9 732.1L415.6 729.5L416.4 726.9L417.1 724.3L417.9 721.7L418.6 719.1L419.4 716.5L420.1 713.9L420.9 711.3L421.6 708.6L422.4 706.0L423.1 703.4L423.9 700.7L424.6 698.0L425.4 695.2L426.1 692.2L426.9 689.1L427.6 686.0L428.4 683.0L429.1 680.2L429.9 677.7L430.6 675.5L431.4 673.7L432.1 672.1L432.9 670.7L433.6 669.4L434.4 668.1L435.1 667.1L435.9 666.1L436.6 665.2L437.4 664.4L438.1 663.7L438.9 663.0L439.6 662.4L440.4 661.9L441.1 661.3L441.9 660.8L442.6 660.2L443.4 659.6L444.1 659.1L444.9 658.5L445.6 657.9L446.4 657.3L447.1 656.8L447.9 656.3L448.6 655.7L449.4 655.3L450.1 654.8L450.9 654.4L451.6 653.9L452.4 653.4L453.1 652.9L453.9 652.5L454.6 652.1L455.4 651.7L456.1 651.5L456.9 651.4L457.6 651.4L458.4 651.5L459.1 651.7L459.9 651.9L460.6 652.1L461.4 652.3L462.1 652.6L462.9 652.8L463.6 653.0L464.4 653.2L465.1 653.5L465.9 653.7L466.6 654.0L467.4 654.3L468.1 654.5L468.9 654.7L469.6 654.9L470.4 655.0L471.1 655.1L471.9 655.0L472.6 654.4L473.4 653.6L474.1 652.6L474.9 651.5L475.6 650.5L476.4 649.7L477.1 648.9L477.9 648.1L478.6 647.3L479.4 646.5L480.1 645.5L480.9 644.9L481.6 645.3L482.4 645.8L483.1 646.2L483.9 646.6L484.6 647.1L485.4 647.5L486.1 647.9L486.9 648.4L487.6 648.9L488.4 649.4L489.1 649.8L489.9 650.3L490.6 650.6L491.4 650.8L492.1 650.9L492.9 651.0L493.6 651.1L494.4 651.3L495.1 651.4L495.9 651.6L496.6 651.8L497.4 652.1L498.1 652.4L498.9 652.7L499.6 653.0L500.4 653.4L501.1 653.7L501.9 654.1L502.6 654.4L503.4 654.8L504.1 655.2L504.9 655.5L505.6 655.9L506.4 656.3L507.1 656.6L507.9 657.0L508.6 657.4L509.4 657.8L510.1 658.3L510.9 658.7L511.6 659.1L512.4 659.6L513.1 660.0L513.9 660.5L514.6 661.0L515.4 661.5L516.1 662.0L516.9 662.5L517.6 663.1L518.4 663.7L519.1 664.3L519.9 664.9L520.6 665.5L521.4 666.2L522.1 666.8L522.9 667.5L523.6 668.2L524.4 668.9L525.1 669.6L525.9 670.2L526.6 670.9L527.4 671.6L528.1 672.3L528.9 673.0L529.6 673.7L530.4 674.4L531.1 675.2L531.9 675.9L532.6 676.7L533.4 677.4L534.1 678.3L534.9 679.1L535.6 680.0L536.4 680.9L537.1 681.9L537.9 683.0L538.6 684.0L539.4 685.1L540.1 686.2L540.9 687.3L541.6 688.4L542.4 689.5L543.1 690.6L543.9 691.7L544.6 692.7L545.4 693.8L546.1 694.8L546.9 695.9L547.6 697.0L548.4 698.0L549.1 699.1L549.9 700.1L550.6 701.2L551.4 702.3L552.1 703.3L552.9 704.4L553.6 705.5L554.4 706.5L555.1 707.6L555.9 708.7L556.6 709.7L557.4 710.8L558.1 711.8L558.9 712.8L559.6 713.8L560.4 714.7L561.1 715.8L561.9 716.8L562.6 717.8L563.4 718.7L564.1 719.7L564.9 720.5L565.6 721.3L566.4 722.0L567.1 722.6L567.9 723.1L568.6 723.6L569.4 724.0L570.1 724.3L570.9 724.7L571.6 725.0L572.4 725.3L573.1 725.6L573.9 726.0L574.6 726.4L575.4 726.8L576.1 727.3L576.9 728.0L577.6 728.6L578.4 729.3L579.1 729.9L579.9 730.3L580.6 730.6L581.4 730.6L582.1 730.5L582.9 730.4L583.6 730.2L584.4 730.1L585.1 729.8L585.9 729.6L586.6 729.4L587.4 729.1L588.1 728.8L588.9 728.4L589.6 728.1L590.4 727.7L591.1 727.5L591.9 727.4L592.6 727.4L593.4 727.4L594.1 727.5L594.9 727.5L595.6 727.6L596.4 727.7L597.1 727.9L597.9 728.3L598.6 728.8L599.4 729.2L600.1 729.5L600.9 729.7L601.6 729.8L602.4 729.9L603.1 730.0L603.9 730.1L604.6 730.2L605.4 730.2L606.1 730.2L606.9 730.3L607.6 730.3L608.4 730.3L609.1 730.4L609.9 730.4L610.6 730.4L611.4 730.4L612.1 730.5L612.9 730.5L613.6 730.5L614.4 730.6L615.1 730.6L615.9 730.6L616.6 730.7L617.4 730.7L618.1 730.7L618.9 730.7L619.6 730.6L620.4 730.6L621.1 730.5L621.9 730.4L622.6 730.3L623.4 730.2L624.1 730.2L624.9 730.2L625.6 730.3L626.4 730.4L627.1 730.5L627.9 730.6L628.6 730.8L629.4 731.0L630.1 731.3L630.9 731.5L631.6 731.6L632.4 731.5L633.1 731.4L633.9 731.2L634.6 731.0L635.4 730.7L636.1 730.2L636.9 729.8L637.6 729.7L638.4 729.8L639.1 729.9L639.9 730.0L640.6 730.0L641.4 730.1L642.1 730.2L642.9 730.2L643.6 730.1L644.4 729.9L645.1 729.5L645.9 729.2L646.6 729.0L647.4 728.8L648.1 728.7L648.9 728.7L649.6 728.8L650.4 729.2L651.1 729.8"/>
<path d="M144.1 734.0L144.8 734.2L145.6 734.5L146.3 734.8L147.1 735.3L147.8 735.6L148.6 735.6L149.3 735.5L150.1 735.5L150.8 735.4L151.6 735.3L152.3 735.2L153.1 735.0L153.8 734.8L154.6 734.6L155.3 734.4L156.1 734.1L156.8 733.9L157.6 733.6L158.3 733.3L159.1 733.1L159.8 732.8L160.6 732.6L161.3 732.4L162.1 732.3L162.8 732.2L163.6 732.2L164.3 732.2L165.1 732.2L165.8 732.2L166.6 732.3L167.3 732.4L168.1 732.5L168.8 732.7L169.6 732.9L170.3 733.1L171.1 733.3L171.8 733.5L172.6 733.7L173.3 734.0L174.1 734.1L174.8 734.1L175.6 734.2L176.3 734.2L177.1 734.1L177.8 733.9L178.6 733.7L179.3 733.3L180.1 733.1L180.8 733.1L181.6 733.1L182.3 733.1L183.1 733.1L183.8 733.1L184.6 733.1L185.3 733.1L186.1 733.1L186.8 733.0L187.6 732.9L188.3 732.8L189.1 732.8L189.8 732.8L190.6 732.8L191.3 733.0L192.1 733.1L192.8 733.1L193.6 733.1L194.3 733.1L195.1 733.2L195.8 733.2L196.6 733.3L197.3 733.5L198.1 733.6L198.8 733.7L199.6 733.8L200.3 733.8L201.1 733.9L201.8 734.0L202.6 734.1L203.3 734.3L204.1 734.5L204.8 734.8L205.6 735.0L206.3 735.1L207.1 735.1L207.8 735.1L208.6 735.2L209.3 735.3L210.1 735.5L210.8 735.8L211.6 736.1L212.3 736.3L213.1 736.6L213.8 736.7L214.6 736.8L215.3 736.9L216.1 736.9L216.8 737.0L217.6 737.0L218.3 737.1L219.1 737.1L219.8 737.2L220.6 737.2L221.3 737.3L222.1 737.4L222.8 737.5L223.6 737.7L224.3 737.9L225.1 738.2L225.8 738.4L226.6 738.7L227.3 739.0L228.1 739.3L228.8 739.6L229.6 739.9L230.3 740.2L231.1 740.5L231.8 740.9L232.6 741.3L233.3 741.6L234.1 742.0L234.8 742.3L235.6 742.6L236.3 742.9L237.1 743.1L237.8 743.3L238.6 743.4L239.3 743.6L240.1 743.7L240.8 743.9L241.6 744.0L242.3 744.2L243.1 744.4L243.8 744.7L244.6 745.1L245.3 745.6L246.1 746.2L246.8 746.8L247.6 747.5L248.3 748.3L249.1 749.0L249.8 749.7L250.6 750.3L251.3 750.9L252.1 751.4L252.8 751.9L253.6 752.4L254.3 752.9L255.1 753.4L255.8 754.0L256.6 754.5L257.4 755.1L258.1 755.8L258.9 756.4L259.6 757.1L260.4 757.7L261.1 758.3L261.9 758.8L262.6 759.4L263.4 759.9L264.1 760.4L264.9 761.0L265.6 761.5L266.4 762.0L267.1 762.5L267.9 763.0L268.6 763.5L269.4 764.0L270.1 764.4L270.9 764.9L271.6 765.3L272.4 765.7L273.1 766.2L273.9 766.6L274.6 767.1L275.4 767.6L276.1 768.1L276.9 768.7L277.6 769.3L278.4 770.0L279.1 770.7L279.9 771.5L280.6 772.5L281.4 773.7L282.1 775.1L282.9 776.7L283.6 778.5L284.4 780.3L285.1 782.3L285.9 784.2L286.6 786.1L287.4 787.9L288.1 789.7L288.9 791.6L289.6 793.6L290.4 795.5L291.1 797.5L291.9 799.5L292.6 801.5L293.4 803.5L294.1 805.5L294.9 807.5L295.6 809.4L296.4 811.4L297.1 813.4L297.9 815.4L298.6 817.4L299.4 819.3L300.1 821.3L300.9 823.1L301.6 825.0L302.4 826.8L303.1 828.5L303.9 830.3L304.6 832.0L305.4 833.7L306.1 835.3L306.9 837.0L307.6 838.5L308.4 840.1L309.1 841.6L309.9 843.1L310.6 844.4L311.4 845.8L312.1 847.1L312.9 848.4L313.6 849.6L314.4 850.9L315.1 852.3L315.9 853.6L316.6 855.1L317.4 856.6L318.1 858.2L318.9 859.8L319.6 861.4L320.4 863.1L321.1 864.8L321.9 866.5L322.6 868.2L323.4 870.0L324.1 871.7L324.9 873.4L325.6 875.1L326.4 876.9L327.1 878.8L327.9 881.1L328.6 883.7L329.4 886.7L330.1 889.8L330.9 893.2L331.6 896.6L332.4 900.1L333.1 903.6L333.9 907.1L334.6 910.6L335.4 914.3L336.1 918.1L336.9 921.9L337.6 925.6L338.4 929.3L339.1 932.9L339.9 936.8L340.6 941.1L341.4 945.6L342.1 949.8L342.9 953.2L343.6 955.4L344.4 956.0L345.1 956.0L345.9 956.0L346.6 956.0L347.4 956.0L348.1 956.0L348.9 956.0L349.6 956.1L350.4 956.6L351.1 957.5L351.9 958.7L352.6 959.9L353.4 961.0L354.1 962.0L354.9 962.5L355.6 962.7L356.4 962.8L357.1 962.8L357.9 962.9L358.6 962.9L359.4 963.0L360.1 963.1L360.9 963.3L361.6 963.6L362.4 963.9L363.1 964.1L363.9 964.4L364.6 964.7L365.4 964.9L366.1 965.0L366.9 964.0L367.6 963.1L368.4 962.2L369.1 961.4L369.9 960.5L370.6 959.3L371.4 957.9L372.1 956.3L372.9 954.5L373.6 952.5L374.4 950.5L375.1 948.4L375.9 946.2L376.6 944.0L377.4 941.8L378.1 939.4L378.9 937.0L379.6 934.5L380.4 932.0L381.1 929.3L381.9 926.5L382.6 923.6L383.4 920.7L384.1 917.6L384.9 914.5L385.6 911.2L386.4 907.7L387.1 904.1L387.9 900.2L388.6 896.2L389.4 892.0L390.1 887.6L390.9 882.9L391.6 877.9L392.4 872.6L393.1 867.3L393.9 861.8L394.6 856.5L395.4 851.2L396.1 846.2L396.9 841.5L397.6 837.1L398.4 833.1L399.1 829.2L399.9 825.4L400.6 821.8L401.4 818.2L402.1 814.5L402.9 810.8L403.6 807.0L404.4 803.1L405.1 798.8L405.9 794.3L406.6 789.6L407.4 784.8L408.1 779.8L408.9 774.7L409.6 769.5L410.4 764.4L411.1 759.3L411.9 754.4L412.6 749.8L413.4 745.6L414.1 741.7L414.9 738.3L415.6 735.0L416.4 731.8L417.1 728.5L417.9 725.3L418.6 722.1L419.4 718.9L420.1 715.8L420.9 712.8L421.6 709.9L422.4 707.0L423.1 704.1L423.9 701.2L424.6 698.3L425.4 695.3L426.1 692.1L426.9 688.9L427.6 685.6L428.4 682.4L429.1 679.3L429.9 676.3L430.6 673.5L431.4 670.6L432.1 667.8L432.9 665.1L433.6 662.8L434.4 660.9L435.1 659.3L435.9 657.9L436.6 656.5L437.4 655.4L438.1 654.3L438.9 653.3L439.6 652.4L440.4 651.6L441.1 650.9L441.9 650.3L442.6 649.7L443.4 649.2L444.1 648.6L444.9 648.1L445.6 647.4L446.4 646.8L447.1 645.9L447.9 645.0L448.6 644.0L449.4 643.0L450.1 642.1L450.9 641.2L451.6 640.5L452.4 640.0L453.1 639.6L453.9 639.4L454.6 639.1L455.4 638.8L456.1 638.6L456.9 638.5L457.6 638.3L458.4 638.2L459.1 638.2L459.9 638.2L460.6 638.2L461.4 638.3L462.1 638.4L462.9 638.4L463.6 638.5L464.4 638.6L465.1 638.6L465.9 638.7L466.6 638.7L467.4 638.8L468.1 638.8L468.9 638.9L469.6 638.9L470.4 639.0L471.1 639.0L471.9 639.0L472.6 638.9L473.4 638.2L474.1 637.2L474.9 635.9L475.6 634.7L476.4 633.5L477.1 632.6L477.9 631.6L478.6 630.6L479.4 629.7L480.1 628.5L480.9 627.8L481.6 628.3L482.4 629.0L483.1 629.5L483.9 630.1L484.6 630.6L485.4 631.2L486.1 631.8L486.9 632.4L487.6 633.0L488.4 633.7L489.1 634.3L489.9 634.9L490.6 635.3L491.4 635.5L492.1 635.6L492.9 635.8L493.6 635.9L494.4 636.0L495.1 636.1L495.9 636.3L496.6 636.4L497.4 636.6L498.1 636.7L498.9 636.9L499.6 637.1L500.4 637.2L501.1 637.4L501.9 637.6L502.6 637.9L503.4 638.1L504.1 638.3L504.9 638.6L505.6 638.9L506.4 639.2L507.1 639.6L507.9 640.0L508.6 640.5L509.4 640.9L510.1 641.4L510.9 642.0L511.6 642.5L512.4 643.0L513.1 643.6L513.9 644.2L514.6 644.8L515.4 645.3L516.1 645.9L516.9 646.6L517.6 647.2L518.4 647.9L519.1 648.6L519.9 649.3L520.6 650.0L521.4 650.8L522.1 651.6L522.9 652.4L523.6 653.2L524.4 654.0L525.1 654.8L525.9 655.6L526.6 656.5L527.4 657.3L528.1 658.1L528.9 659.0L529.6 659.8L530.4 660.7L531.1 661.6L531.9 662.5L532.6 663.4L533.4 664.4L534.1 665.3L534.9 666.3L535.6 667.2L536.4 668.2L537.1 669.2L537.9 670.3L538.6 671.3L539.4 672.4L540.1 673.4L540.9 674.5L541.6 675.6L542.4 676.7L543.1 677.8L543.9 678.9L544.6 680.1L545.4 681.2L546.1 682.3L546.9 683.5L547.6 684.7L548.4 685.9L549.1 687.2L549.9 688.4L550.6 689.7L551.4 691.1L552.1 692.5L552.9 693.9L553.6 695.5L554.4 697.1L555.1 698.7L555.9 700.3L556.6 701.8L557.4 703.4L558.1 704.8L558.9 706.3L559.6 707.6L560.4 708.9L561.1 710.3L561.9 711.7L562.6 713.0L563.4 714.2L564.1 715.5L564.9 716.6L565.6 717.6L566.4 718.6L567.1 719.4L567.9 720.1L568.6 720.8L569.4 721.4L570.1 722.0L570.9 722.6L571.6 723.1L572.4 723.6L573.1 724.0L573.9 724.4L574.6 724.8L575.4 725.2L576.1 725.5L576.9 725.7L577.6 726.0L578.4 726.2L579.1 726.4L579.9 726.7L580.6 726.9L581.4 727.2L582.1 727.6L582.9 728.0L583.6 728.4L584.4 728.8L585.1 729.1L585.9 729.3L586.6 729.3L587.4 729.2L588.1 729.0L588.9 728.8L589.6 728.6L590.4 728.3L591.1 727.9L591.9 727.6L592.6 727.2L593.4 726.6L594.1 725.8L594.9 725.1L595.6 724.5L596.4 724.3L597.1 724.4L597.9 724.9L598.6 725.5L599.4 726.2L600.1 726.8L600.9 727.5L601.6 728.3L602.4 729.0L603.1 729.6L603.9 729.8L604.6 729.9L605.4 729.9L606.1 730.0L606.9 730.0L607.6 730.1L608.4 730.1L609.1 730.1L609.9 730.1L610.6 730.1L611.4 730.1L612.1 730.1L612.9 730.0L613.6 729.9L614.4 729.8L615.1 729.7L615.9 729.6L616.6 729.5L617.4 729.5L618.1 729.5L618.9 729.5L619.6 729.6L620.4 729.8L621.1 730.0L621.9 730.3L622.6 730.5L623.4 730.6L624.1 730.7L624.9 730.7L625.6 730.7L626.4 730.6L627.1 730.6L627.9 730.6L628.6 730.6L629.4 730.5L630.1 730.5L630.9 730.4L631.6 730.3L632.4 729.9L633.1 729.4L633.9 728.9L634.6 728.5L635.4 728.2L636.1 727.9L636.9 727.7L637.6 727.7L638.4 728.3L639.1 729.1L639.9 729.7L640.6 730.0L641.4 730.2L642.1 730.4L642.9 730.5L643.6 730.4L644.4 730.1L645.1 729.6L645.9 729.1L646.6 728.6L647.4 728.0L648.1 727.5L648.9 727.3L649.6 727.4L650.4 727.7L651.1 728.2"/>
<path d="M144.1 732.9L144.8 733.0L145.6 733.2L146.3 733.6L147.1 734.3L147.8 734.9L148.6 735.0L149.3 735.1L150.1 735.1L150.8 735.2L151.6 735.3L152.3 735.3L153.1 735.3L153.8 735.3L154.6 735.3L155.3 735.2L156.1 735.1L156.8 735.0L157.6 734.8L158.3 734.7L159.1 734.5L159.8 734.3L160.6 734.1L161.3 733.8L162.1 733.6L162.8 733.4L163.6 733.2L164.3 733.0L165.1 732.7L165.8 732.5L166.6 732.3L167.3 732.1L168.1 732.0L168.8 731.8L169.6 731.7L170.3 731.6L171.1 731.6L171.8 731.6L172.6 731.6L173.3 731.7L174.1 731.7L174.8 731.8L175.6 731.8L176.3 731.9L177.1 731.9L177.8 732.0L178.6 732.0L179.3 732.1L180.1 732.2L180.8 732.5L181.6 733.1L182.3 733.5L183.1 734.0L183.8 734.4L184.6 734.7L185.3 735.1L186.1 735.3L186.8 735.3L187.6 735.3L188.3 735.3L189.1 735.3L189.8 735.2L190.6 735.1L191.3 735.0L192.1 734.9L192.8 734.7L193.6 734.5L194.3 734.2L195.1 734.0L195.8 733.7L196.6 733.4L197.3 733.1L198.1 732.8L198.8 732.4L199.6 732.0L200.3 731.6L201.1 731.1L201.8 730.8L202.6 730.8L203.3 730.9L204.1 731.1L204.8 731.5L205.6 732.2L206.3 732.8L207.1 733.6L207.8 734.3L208.6 734.7L209.3 734.9L210.1 735.2L210.8 735.3L211.6 735.5L212.3 735.7L213.1 735.9L213.8 736.1L214.6 736.3L215.3 736.5L216.1 736.8L216.8 737.1L217.6 737.3L218.3 737.6L219.1 737.9L219.8 738.1L220.6 738.4L221.3 738.6L222.1 738.8L222.8 739.1L223.6 739.3L224.3 739.4L225.1 739.6L225.8 739.8L226.6 740.0L227.3 740.2L228.1 740.4L228.8 740.6L229.6 740.8L230.3 741.1L231.1 741.3L231.8 741.5L232.6 741.8L233.3 742.1L234.1 742.3L234.8 742.6L235.6 742.9L236.3 743.2L237.1 743.4L237.8 743.7L238.6 744.0L239.3 744.3L240.1 744.6L240.8 744.9L241.6 745.2L242.3 745.6L243.1 746.0L243.8 746.4L244.6 746.9L245.3 747.4L246.1 748.1L246.8 748.8L247.6 749.5L248.3 750.2L249.1 750.9L249.8 751.6L250.6 752.2L251.3 752.7L252.1 753.2L252.8 753.7L253.6 754.1L254.3 754.6L255.1 755.1L255.8 755.6L256.6 756.2L257.4 756.9L258.1 757.6L258.9 758.3L259.6 759.0L260.4 759.7L261.1 760.4L261.9 761.0L262.6 761.6L263.4 762.2L264.1 762.8L264.9 763.4L265.6 763.9L266.4 764.5L267.1 765.1L267.9 765.7L268.6 766.3L269.4 766.8L270.1 767.3L270.9 767.8L271.6 768.4L272.4 768.9L273.1 769.4L273.9 770.0L274.6 770.5L275.4 771.2L276.1 771.8L276.9 772.5L277.6 773.3L278.4 774.1L279.1 774.9L279.9 775.9L280.6 777.0L281.4 778.5L282.1 780.2L282.9 782.2L283.6 784.3L284.4 786.5L285.1 788.8L285.9 791.0L286.6 793.2L287.4 795.2L288.1 797.2L288.9 799.1L289.6 801.0L290.4 803.0L291.1 804.9L291.9 806.8L292.6 808.8L293.4 810.8L294.1 812.8L294.9 814.8L295.6 816.8L296.4 818.9L297.1 821.0L297.9 823.2L298.6 825.3L299.4 827.4L300.1 829.5L300.9 831.6L301.6 833.7L302.4 835.7L303.1 837.7L303.9 839.8L304.6 841.8L305.4 843.8L306.1 845.7L306.9 847.7L307.6 849.6L308.4 851.4L309.1 853.3L309.9 855.0L310.6 856.7L311.4 858.3L312.1 859.9L312.9 861.5L313.6 863.1L314.4 864.7L315.1 866.3L315.9 868.0L316.6 869.7L317.4 871.5L318.1 873.2L318.9 874.9L319.6 876.7L320.4 878.6L321.1 880.6L321.9 882.7L322.6 885.1L323.4 887.7L324.1 890.6L324.9 893.6L325.6 896.9L326.4 900.3L327.1 903.8L327.9 907.4L328.6 911.0L329.4 914.8L330.1 918.8L330.9 923.0L331.6 927.3L332.4 931.7L333.1 936.0L333.9 940.4L334.6 944.6L335.4 948.7L336.1 952.9L336.9 957.2L337.6 961.4L338.4 965.4L339.1 969.3L339.9 972.8L340.6 976.3L341.4 980.0L342.1 983.5L342.9 986.5L343.6 988.6L344.4 989.4L345.1 989.6L345.9 989.7L346.6 989.8L347.4 989.9L348.1 990.0L348.9 990.1L349.6 990.3L350.4 990.8L351.1 991.3L351.9 992.0L352.6 992.8L353.4 993.6L354.1 994.4L354.9 995.2L355.6 996.0L356.4 996.6L357.1 997.2L357.9 997.7L358.6 998.2L359.4 998.6L360.1 999.1L360.9 999.5L361.6 1000.0L362.4 1000.5L363.1 1000.9L363.9 1001.4L364.6 1001.9L365.4 1002.5L366.1 1002.6L366.9 1001.3L367.6 1000.1L368.4 999.0L369.1 998.0L369.9 996.9L370.6 995.7L371.4 994.3L372.1 992.6L372.9 990.7L373.6 988.6L374.4 986.4L375.1 984.0L375.9 981.6L376.6 979.2L377.4 976.6L378.1 974.0L378.9 971.2L379.6 968.3L380.4 965.3L381.1 962.2L381.9 959.0L382.6 955.8L383.4 952.5L384.1 949.1L384.9 945.6L385.6 941.9L386.4 938.2L387.1 934.4L387.9 930.5L388.6 926.5L389.4 922.5L390.1 918.4L390.9 914.3L391.6 910.1L392.4 905.9L393.1 901.4L393.9 896.8L394.6 892.0L395.4 886.8L396.1 881.1L396.9 875.0L397.6 868.6L398.4 862.1L399.1 855.6L399.9 849.4L400.6 843.6L401.4 838.3L402.1 833.4L402.9 828.7L403.6 824.3L404.4 820.0L405.1 815.7L405.9 811.3L406.6 806.9L407.4 802.3L408.1 797.3L408.9 792.2L409.6 786.8L410.4 781.3L411.1 775.5L411.9 769.6L412.6 763.7L413.4 757.9L414.1 752.4L414.9 747.2L415.6 742.5L416.4 738.3L417.1 734.3L417.9 730.5L418.6 726.8L419.4 723.3L420.1 719.8L420.9 716.2L421.6 712.6L422.4 709.0L423.1 705.4L423.9 701.8L424.6 698.4L425.4 695.1L426.1 691.8L426.9 688.7L427.6 685.6L428.4 682.5L429.1 679.4L429.9 676.4L430.6 673.4L431.4 670.3L432.1 667.3L432.9 664.3L433.6 661.3L434.4 658.4L435.1 655.6L435.9 652.9L436.6 650.0L437.4 647.1L438.1 644.8L438.9 643.1L439.6 641.9L440.4 640.9L441.1 640.0L441.9 639.2L442.6 638.5L443.4 637.8L444.1 637.0L444.9 636.2L445.6 635.6L446.4 634.9L447.1 634.2L447.9 633.4L448.6 632.5L449.4 631.4L450.1 630.0L450.9 628.6L451.6 627.4L452.4 626.5L453.1 626.1L453.9 625.8L454.6 625.5L455.4 625.2L456.1 625.0L456.9 624.9L457.6 624.7L458.4 624.6L459.1 624.6L459.9 624.6L460.6 624.7L461.4 624.8L462.1 624.9L462.9 625.0L463.6 625.1L464.4 625.1L465.1 625.2L465.9 625.3L466.6 625.3L467.4 625.3L468.1 625.4L468.9 625.4L469.6 625.4L470.4 625.5L471.1 625.5L471.9 625.5L472.6 625.4L473.4 624.9L474.1 624.0L474.9 623.0L475.6 622.0L476.4 621.1L477.1 620.3L477.9 619.5L478.6 618.7L479.4 617.9L480.1 617.0L480.9 616.4L481.6 616.7L482.4 617.2L483.1 617.6L483.9 617.9L484.6 618.3L485.4 618.7L486.1 619.1L486.9 619.5L487.6 620.0L488.4 620.5L489.1 620.9L489.9 621.3L490.6 621.5L491.4 621.5L492.1 621.4L492.9 621.2L493.6 621.1L494.4 620.9L495.1 620.9L495.9 621.0L496.6 621.1L497.4 621.4L498.1 621.7L498.9 622.1L499.6 622.5L500.4 623.0L501.1 623.5L501.9 624.0L502.6 624.5L503.4 624.9L504.1 625.4L504.9 625.8L505.6 626.3L506.4 626.7L507.1 627.1L507.9 627.5L508.6 628.0L509.4 628.4L510.1 628.9L510.9 629.3L511.6 629.8L512.4 630.3L513.1 630.8L513.9 631.4L514.6 631.9L515.4 632.5L516.1 633.2L516.9 633.8L517.6 634.5L518.4 635.3L519.1 636.1L519.9 636.9L520.6 637.8L521.4 638.7L522.1 639.6L522.9 640.5L523.6 641.4L524.4 642.4L525.1 643.3L525.9 644.2L526.6 645.1L527.4 646.0L528.1 646.9L528.9 647.8L529.6 648.6L530.4 649.5L531.1 650.4L531.9 651.3L532.6 652.2L533.4 653.2L534.1 654.1L534.9 655.1L535.6 656.0L536.4 657.0L537.1 658.0L537.9 659.0L538.6 660.0L539.4 661.0L540.1 662.0L540.9 663.1L541.6 664.2L542.4 665.4L543.1 666.6L543.9 667.9L544.6 669.2L545.4 670.6L546.1 672.1L546.9 673.6L547.6 675.1L548.4 676.7L549.1 678.3L549.9 679.9L550.6 681.5L551.4 683.2L552.1 684.9L552.9 686.7L553.6 688.5L554.4 690.4L555.1 692.3L555.9 694.2L556.6 696.0L557.4 697.9L558.1 699.6L558.9 701.4L559.6 703.0L560.4 704.7L561.1 706.4L561.9 708.1L562.6 709.8L563.4 711.4L564.1 712.9L564.9 714.3L565.6 715.7L566.4 716.8L567.1 717.8L567.9 718.6L568.6 719.4L569.4 720.2L570.1 720.9L570.9 721.5L571.6 722.2L572.4 722.7L573.1 723.2L573.9 723.7L574.6 724.0L575.4 724.4L576.1 724.6L576.9 724.8L577.6 725.0L578.4 725.2L579.1 725.4L579.9 725.6L580.6 725.8L581.4 726.1L582.1 726.5L582.9 727.1L583.6 727.6L584.4 728.1L585.1 728.6L585.9 728.8L586.6 728.8L587.4 728.7L588.1 728.4L588.9 728.0L589.6 727.6L590.4 727.1L591.1 726.7L591.9 726.2L592.6 725.7L593.4 724.9L594.1 724.1L594.9 723.4L595.6 722.8L596.4 722.6L597.1 722.8L597.9 723.4L598.6 724.3L599.4 725.2L600.1 726.0L600.9 726.8L601.6 727.6L602.4 728.4L603.1 728.9L603.9 729.2L604.6 729.3L605.4 729.3L606.1 729.4L606.9 729.4L607.6 729.5L608.4 729.5L609.1 729.5L609.9 729.6L610.6 729.6L611.4 729.6L612.1 729.5L612.9 729.5L613.6 729.4L614.4 729.3L615.1 729.1L615.9 729.0L616.6 728.9L617.4 728.9L618.1 728.8L618.9 728.9L619.6 729.0L620.4 729.1L621.1 729.3L621.9 729.6L622.6 729.8L623.4 729.9L624.1 730.0L624.9 730.1L625.6 730.2L626.4 730.2L627.1 730.2L627.9 730.3L628.6 730.3L629.4 730.3L630.1 730.2L630.9 730.1L631.6 729.9L632.4 729.5L633.1 728.7L633.9 728.0L634.6 727.3L635.4 726.7L636.1 726.0L636.9 725.6L637.6 725.6L638.4 726.3L639.1 727.3L639.9 728.2L640.6 728.8L641.4 729.3L642.1 729.8L642.9 730.0L643.6 730.0L644.4 729.8L645.1 729.4L645.9 729.0L646.6 728.6L647.4 728.0L648.1 727.4L648.9 727.2L649.6 727.2L650.4 727.2L651.1 727.5"/>
<path d="M144.1 732.8L144.8 733.0L145.6 733.3L146.3 733.7L147.1 734.4L147.8 735.0L148.6 735.2L149.3 735.2L150.1 735.3L150.8 735.3L151.6 735.3L152.3 735.3L153.1 735.3L153.8 735.2L154.6 735.2L155.3 735.0L156.1 734.9L156.8 734.7L157.6 734.4L158.3 734.2L159.1 734.0L159.8 733.7L160.6 733.5L161.3 733.2L162.1 733.0L162.8 732.8L163.6 732.6L164.3 732.4L165.1 732.2L165.8 732.1L166.6 732.0L167.3 731.9L168.1 731.9L168.8 731.9L169.6 731.9L170.3 732.0L171.1 732.1L171.8 732.3L172.6 732.4L173.3 732.6L174.1 732.8L174.8 733.0L175.6 733.1L176.3 733.2L177.1 733.3L177.8 733.3L178.6 733.3L179.3 733.3L180.1 733.3L180.8 733.5L181.6 733.8L182.3 734.1L183.1 734.3L183.8 734.5L184.6 734.6L185.3 734.7L186.1 734.7L186.8 734.6L187.6 734.4L188.3 734.2L189.1 734.0L189.8 733.8L190.6 733.7L191.3 733.6L192.1 733.5L192.8 733.3L193.6 733.1L194.3 732.9L195.1 732.7L195.8 732.5L196.6 732.4L197.3 732.3L198.1 732.2L198.8 732.0L199.6 731.9L200.3 731.9L201.1 731.9L201.8 731.9L202.6 732.0L203.3 732.5L204.1 733.0L204.8 733.6L205.6 734.2L206.3 734.5L207.1 734.6L207.8 734.8L208.6 735.0L209.3 735.2L210.1 735.6L210.8 735.9L211.6 736.3L212.3 736.6L213.1 736.9L213.8 737.1L214.6 737.3L215.3 737.5L216.1 737.6L216.8 737.7L217.6 737.8L218.3 737.9L219.1 738.0L219.8 738.1L220.6 738.3L221.3 738.4L222.1 738.6L222.8 738.8L223.6 739.1L224.3 739.4L225.1 739.8L225.8 740.2L226.6 740.5L227.3 740.8L228.1 741.1L228.8 741.3L229.6 741.5L230.3 741.6L231.1 741.7L231.8 741.8L232.6 741.8L233.3 741.9L234.1 742.0L234.8 742.1L235.6 742.2L236.3 742.4L237.1 742.6L237.8 742.8L238.6 743.1L239.3 743.5L240.1 743.9L240.8 744.3L241.6 744.8L242.3 745.3L243.1 745.9L243.8 746.5L244.6 747.3L245.3 748.3L246.1 749.4L246.8 750.7L247.6 751.9L248.3 753.2L249.1 754.3L249.8 755.2L250.6 755.9L251.3 756.3L252.1 756.6L252.8 756.8L253.6 757.0L254.3 757.2L255.1 757.4L255.8 757.6L256.6 757.9L257.4 758.2L258.1 758.5L258.9 758.8L259.6 759.2L260.4 759.6L261.1 760.1L261.9 760.6L262.6 761.3L263.4 762.1L264.1 762.9L264.9 763.8L265.6 764.7L266.4 765.6L267.1 766.4L267.9 767.1L268.6 767.8L269.4 768.5L270.1 769.2L270.9 769.8L271.6 770.5L272.4 771.1L273.1 771.8L273.9 772.5L274.6 773.2L275.4 773.9L276.1 774.7L276.9 775.5L277.6 776.4L278.4 777.3L279.1 778.4L279.9 779.5L280.6 780.7L281.4 782.3L282.1 784.2L282.9 786.2L283.6 788.4L284.4 790.6L285.1 793.0L285.9 795.3L286.6 797.5L287.4 799.6L288.1 801.7L288.9 803.8L289.6 805.8L290.4 807.9L291.1 810.0L291.9 812.1L292.6 814.2L293.4 816.3L294.1 818.5L294.9 820.6L295.6 822.8L296.4 825.0L297.1 827.3L297.9 829.5L298.6 831.8L299.4 834.1L300.1 836.4L300.9 838.6L301.6 840.9L302.4 843.2L303.1 845.4L303.9 847.7L304.6 850.0L305.4 852.3L306.1 854.6L306.9 856.9L307.6 859.1L308.4 861.3L309.1 863.4L309.9 865.5L310.6 867.4L311.4 869.2L312.1 871.0L312.9 872.7L313.6 874.6L314.4 876.4L315.1 878.5L315.9 880.6L316.6 883.0L317.4 885.7L318.1 888.6L318.9 891.7L319.6 894.9L320.4 898.4L321.1 902.0L321.9 905.6L322.6 909.4L323.4 913.1L324.1 917.0L324.9 921.1L325.6 925.4L326.4 929.7L327.1 934.2L327.9 938.7L328.6 943.3L329.4 947.9L330.1 952.4L330.9 957.1L331.6 962.0L332.4 967.0L333.1 972.0L333.9 976.9L334.6 981.7L335.4 986.3L336.1 990.5L336.9 994.2L337.6 998.0L338.4 1001.8L339.1 1005.6L339.9 1009.3L340.6 1012.7L341.4 1015.8L342.1 1018.5L342.9 1020.6L343.6 1022.1L344.4 1022.8L345.1 1023.1L345.9 1023.4L346.6 1023.6L347.4 1023.8L348.1 1024.0L348.9 1024.2L349.6 1024.6L350.4 1025.1L351.1 1025.7L351.9 1026.4L352.6 1027.2L353.4 1028.1L354.1 1028.9L354.9 1029.8L355.6 1030.7L356.4 1031.6L357.1 1032.4L357.9 1033.1L358.6 1033.8L359.4 1034.4L360.1 1034.9L360.9 1035.5L361.6 1036.0L362.4 1036.6L363.1 1037.1L363.9 1037.7L364.6 1038.2L365.4 1038.8L366.1 1039.5L366.9 1039.9L367.6 1038.6L368.4 1037.4L369.1 1036.2L369.9 1035.1L370.6 1034.0L371.4 1032.8L372.1 1031.2L372.9 1029.3L373.6 1027.1L374.4 1024.6L375.1 1021.9L375.9 1019.0L376.6 1016.0L377.4 1012.9L378.1 1009.4L378.9 1005.6L379.6 1001.6L380.4 997.5L381.1 993.3L381.9 989.1L382.6 985.0L383.4 981.0L384.1 977.1L384.9 973.4L385.6 969.6L386.4 965.9L387.1 962.2L387.9 958.4L388.6 954.6L389.4 950.8L390.1 946.8L390.9 942.8L391.6 938.8L392.4 934.7L393.1 930.6L393.9 926.3L394.6 922.0L395.4 917.5L396.1 912.8L396.9 907.9L397.6 902.9L398.4 897.5L399.1 891.7L399.9 885.0L400.6 877.0L401.4 868.4L402.1 859.5L402.9 851.1L403.6 843.5L404.4 837.2L405.1 831.8L405.9 827.0L406.6 822.5L407.4 818.1L408.1 813.8L408.9 809.2L409.6 804.3L410.4 798.8L411.1 792.4L411.9 786.1L412.6 779.9L413.4 773.8L414.1 767.7L414.9 761.7L415.6 755.8L416.4 750.0L417.1 744.4L417.9 739.0L418.6 733.9L419.4 729.3L420.1 725.0L420.9 720.8L421.6 716.6L422.4 712.1L423.1 707.3L423.9 702.7L424.6 698.5L425.4 694.8L426.1 691.4L426.9 688.3L427.6 685.2L428.4 682.3L429.1 679.4L429.9 676.4L430.6 673.4L431.4 670.4L432.1 667.3L432.9 664.4L433.6 661.4L434.4 658.5L435.1 655.6L435.9 652.8L436.6 650.0L437.4 647.1L438.1 644.2L438.9 641.3L439.6 638.6L440.4 636.1L441.1 633.8L441.9 631.8L442.6 630.1L443.4 628.5L444.1 627.1L444.9 625.7L445.6 624.5L446.4 623.3L447.1 622.2L447.9 621.1L448.6 620.0L449.4 618.9L450.1 617.9L450.9 617.0L451.6 616.2L452.4 615.6L453.1 615.2L453.9 614.9L454.6 614.6L455.4 614.3L456.1 614.1L456.9 613.8L457.6 613.7L458.4 613.5L459.1 613.3L459.9 613.2L460.6 613.0L461.4 612.8L462.1 612.7L462.9 612.6L463.6 612.5L464.4 612.4L465.1 612.4L465.9 612.4L466.6 612.4L467.4 612.4L468.1 612.4L468.9 612.4L469.6 612.4L470.4 612.4L471.1 612.4L471.9 612.4L472.6 612.4L473.4 612.4L474.1 612.2L474.9 611.4L475.6 610.3L476.4 609.0L477.1 607.9L477.9 607.0L478.6 606.0L479.4 605.1L480.1 604.1L480.9 603.3L481.6 603.7L482.4 604.3L483.1 604.8L483.9 605.3L484.6 605.8L485.4 606.2L486.1 606.7L486.9 607.3L487.6 607.9L488.4 608.6L489.1 609.2L489.9 609.6L490.6 609.9L491.4 609.9L492.1 609.9L492.9 609.8L493.6 609.8L494.4 609.7L495.1 609.7L495.9 609.7L496.6 609.8L497.4 609.9L498.1 610.0L498.9 610.2L499.6 610.4L500.4 610.6L501.1 610.9L501.9 611.1L502.6 611.4L503.4 611.7L504.1 612.0L504.9 612.3L505.6 612.6L506.4 613.0L507.1 613.3L507.9 613.7L508.6 614.2L509.4 614.7L510.1 615.3L510.9 615.9L511.6 616.5L512.4 617.1L513.1 617.8L513.9 618.4L514.6 619.1L515.4 619.7L516.1 620.4L516.9 621.0L517.6 621.6L518.4 622.3L519.1 623.0L519.9 623.6L520.6 624.3L521.4 625.1L522.1 625.8L522.9 626.5L523.6 627.3L524.4 628.1L525.1 628.9L525.9 629.8L526.6 630.7L527.4 631.6L528.1 632.6L528.9 633.7L529.6 634.8L530.4 636.0L531.1 637.2L531.9 638.5L532.6 639.8L533.4 641.1L534.1 642.4L534.9 643.7L535.6 644.9L536.4 646.2L537.1 647.5L537.9 648.8L538.6 650.1L539.4 651.4L540.1 652.8L540.9 654.2L541.6 655.6L542.4 657.1L543.1 658.6L543.9 660.2L544.6 661.8L545.4 663.6L546.1 665.3L546.9 667.2L547.6 669.0L548.4 670.9L549.1 672.8L549.9 674.7L550.6 676.5L551.4 678.4L552.1 680.4L552.9 682.3L553.6 684.3L554.4 686.4L555.1 688.4L555.9 690.4L556.6 692.4L557.4 694.4L558.1 696.3L558.9 698.1L559.6 699.9L560.4 701.7L561.1 703.6L561.9 705.5L562.6 707.3L563.4 709.1L564.1 710.8L564.9 712.4L565.6 713.8L566.4 715.1L567.1 716.2L567.9 717.1L568.6 718.0L569.4 718.9L570.1 719.8L570.9 720.6L571.6 721.3L572.4 721.9L573.1 722.5L573.9 722.9L574.6 723.3L575.4 723.5L576.1 723.7L576.9 723.8L577.6 723.9L578.4 724.0L579.1 724.1L579.9 724.2L580.6 724.4L581.4 724.5L582.1 724.9L582.9 725.3L583.6 725.8L584.4 726.2L585.1 726.5L585.9 726.7L586.6 726.7L587.4 726.7L588.1 726.6L588.9 726.4L589.6 726.2L590.4 726.0L591.1 725.7L591.9 725.5L592.6 725.1L593.4 724.3L594.1 723.4L594.9 722.4L595.6 721.7L596.4 721.4L597.1 721.6L597.9 722.3L598.6 723.2L599.4 724.1L600.1 724.9L600.9 725.7L601.6 726.7L602.4 727.5L603.1 728.1L603.9 728.4L604.6 728.5L605.4 728.6L606.1 728.6L606.9 728.7L607.6 728.7L608.4 728.8L609.1 728.8L609.9 728.8L610.6 728.8L611.4 728.8L612.1 728.8L612.9 728.8L613.6 728.7L614.4 728.7L615.1 728.7L615.9 728.6L616.6 728.6L617.4 728.6L618.1 728.6L618.9 728.6L619.6 728.7L620.4 728.8L621.1 729.0L621.9 729.2L622.6 729.3L623.4 729.4L624.1 729.5L624.9 729.4L625.6 729.4L626.4 729.3L627.1 729.2L627.9 729.2L628.6 729.1L629.4 729.1L630.1 729.1L630.9 729.0L631.6 729.0L632.4 728.6L633.1 728.0L633.9 727.4L634.6 726.9L635.4 726.4L636.1 726.0L636.9 725.7L637.6 725.8L638.4 726.4L639.1 727.3L639.9 728.0L640.6 728.4L641.4 728.7L642.1 729.0L642.9 729.1L643.6 729.0L644.4 728.6L645.1 728.0L645.9 727.5L646.6 727.0L647.4 726.4L648.1 725.9L648.9 725.6L649.6 725.8L650.4 726.2L651.1 726.9"/>
<path d="M144.1 736.6L144.8 736.2L145.6 735.9L146.3 735.6L147.1 735.4L147.8 735.2L148.6 734.9L149.3 734.6L150.1 734.2L150.8 734.0L151.6 733.7L152.3 733.5L153.1 733.2L153.8 733.0L154.6 732.8L155.3 732.6L156.1 732.5L156.8 732.4L157.6 732.3L158.3 732.3L159.1 732.3L159.8 732.4L160.6 732.4L161.3 732.6L162.1 732.7L162.8 732.9L163.6 733.1L164.3 733.3L165.1 733.6L165.8 733.8L166.6 734.0L167.3 734.1L168.1 734.3L168.8 734.4L169.6 734.6L170.3 734.6L171.1 734.7L171.8 734.7L172.6 734.7L173.3 734.6L174.1 734.4L174.8 734.2L175.6 734.0L176.3 733.6L177.1 733.2L177.8 732.8L178.6 732.3L179.3 731.7L180.1 731.4L180.8 731.4L181.6 731.4L182.3 731.4L183.1 731.5L183.8 731.6L184.6 731.8L185.3 732.0L186.1 732.2L186.8 732.3L187.6 732.5L188.3 732.6L189.1 732.8L189.8 733.1L190.6 733.3L191.3 733.6L192.1 733.8L192.8 734.0L193.6 734.1L194.3 734.2L195.1 734.3L195.8 734.5L196.6 734.6L197.3 734.7L198.1 734.7L198.8 734.7L199.6 734.7L200.3 734.6L201.1 734.5L201.8 734.3L202.6 734.2L203.3 734.1L204.1 734.1L204.8 734.1L205.6 734.2L206.3 734.4L207.1 734.5L207.8 734.7L208.6 734.9L209.3 735.2L210.1 735.4L210.8 735.7L211.6 736.0L212.3 736.2L213.1 736.5L213.8 736.8L214.6 737.1L215.3 737.4L216.1 737.7L216.8 738.0L217.6 738.4L218.3 738.7L219.1 739.0L219.8 739.3L220.6 739.6L221.3 739.8L222.1 740.1L222.8 740.3L223.6 740.5L224.3 740.7L225.1 740.9L225.8 741.1L226.6 741.3L227.3 741.5L228.1 741.6L228.8 741.8L229.6 742.0L230.3 742.1L231.1 742.2L231.8 742.4L232.6 742.5L233.3 742.6L234.1 742.7L234.8 742.9L235.6 743.1L236.3 743.3L237.1 743.5L237.8 743.9L238.6 744.3L239.3 744.7L240.1 745.3L240.8 745.8L241.6 746.4L242.3 747.1L243.1 747.7L243.8 748.4L244.6 749.2L245.3 750.2L246.1 751.3L246.8 752.5L247.6 753.7L248.3 754.8L249.1 755.9L249.8 756.7L250.6 757.3L251.3 757.7L252.1 757.9L252.8 758.1L253.6 758.2L254.3 758.4L255.1 758.6L255.8 758.8L256.6 759.1L257.4 759.4L258.1 759.8L258.9 760.2L259.6 760.6L260.4 761.0L261.1 761.5L261.9 762.0L262.6 762.5L263.4 763.0L264.1 763.6L264.9 764.2L265.6 764.8L266.4 765.4L267.1 766.1L267.9 766.8L268.6 767.6L269.4 768.3L270.1 769.1L270.9 769.9L271.6 770.7L272.4 771.6L273.1 772.5L273.9 773.4L274.6 774.4L275.4 775.4L276.1 776.4L276.9 777.5L277.6 778.7L278.4 779.9L279.1 781.1L279.9 782.4L280.6 783.9L281.4 785.5L282.1 787.3L282.9 789.3L283.6 791.5L284.4 793.7L285.1 795.9L285.9 798.1L286.6 800.4L287.4 802.5L288.1 804.7L288.9 806.9L289.6 809.1L290.4 811.4L291.1 813.7L291.9 815.9L292.6 818.2L293.4 820.5L294.1 822.8L294.9 825.0L295.6 827.3L296.4 829.5L297.1 831.7L297.9 833.9L298.6 836.1L299.4 838.3L300.1 840.6L300.9 842.9L301.6 845.2L302.4 847.7L303.1 850.1L303.9 852.7L304.6 855.3L305.4 857.9L306.1 860.5L306.9 863.1L307.6 865.7L308.4 868.2L309.1 870.7L309.9 873.0L310.6 875.2L311.4 877.3L312.1 879.3L312.9 881.5L313.6 883.7L314.4 886.2L315.1 888.9L315.9 892.0L316.6 895.6L317.4 899.3L318.1 903.0L318.9 906.7L319.6 910.5L320.4 914.4L321.1 918.3L321.9 922.3L322.6 926.3L323.4 930.5L324.1 934.7L324.9 939.0L325.6 943.4L326.4 948.0L327.1 952.6L327.9 957.6L328.6 962.9L329.4 968.3L330.1 973.8L330.9 979.4L331.6 984.8L332.4 990.0L333.1 995.0L333.9 999.7L334.6 1004.2L335.4 1008.7L336.1 1013.1L336.9 1017.3L337.6 1021.4L338.4 1025.4L339.1 1029.2L339.9 1032.9L340.6 1036.6L341.4 1040.6L342.1 1044.5L342.9 1047.8L343.6 1050.2L344.4 1051.2L345.1 1051.6L345.9 1051.8L346.6 1052.0L347.4 1052.2L348.1 1052.3L348.9 1052.6L349.6 1053.1L350.4 1053.9L351.1 1054.9L351.9 1056.2L352.6 1057.7L353.4 1059.2L354.1 1060.8L354.9 1062.3L355.6 1063.7L356.4 1064.8L357.1 1065.8L357.9 1066.6L358.6 1067.3L359.4 1068.1L360.1 1068.8L360.9 1069.5L361.6 1070.2L362.4 1071.0L363.1 1071.7L363.9 1072.4L364.6 1073.2L365.4 1074.1L366.1 1074.4L366.9 1073.4L367.6 1072.5L368.4 1071.6L369.1 1070.8L369.9 1069.9L370.6 1069.0L371.4 1067.9L372.1 1066.7L372.9 1065.5L373.6 1064.2L374.4 1062.7L375.1 1061.2L375.9 1059.5L376.6 1057.7L377.4 1055.7L378.1 1053.5L378.9 1051.2L379.6 1048.7L380.4 1045.9L381.1 1042.1L381.9 1037.4L382.6 1031.8L383.4 1025.7L384.1 1019.3L384.9 1012.7L385.6 1006.3L386.4 1000.3L387.1 994.7L387.9 989.3L388.6 984.0L389.4 978.7L390.1 973.4L390.9 968.1L391.6 963.0L392.4 957.8L393.1 952.8L393.9 947.8L394.6 942.9L395.4 938.1L396.1 933.4L396.9 928.7L397.6 923.9L398.4 919.2L399.1 914.4L399.9 909.7L400.6 905.1L401.4 900.4L402.1 895.3L402.9 889.6L403.6 882.8L404.4 875.0L405.1 866.5L405.9 857.9L406.6 849.4L407.4 841.5L408.1 834.3L408.9 827.5L409.6 820.9L410.4 814.5L411.1 808.0L411.9 801.4L412.6 794.5L413.4 787.7L414.1 781.1L414.9 774.6L415.6 768.2L416.4 761.9L417.1 755.7L417.9 749.6L418.6 743.7L419.4 738.1L420.1 732.6L420.9 727.1L421.6 721.8L422.4 716.4L423.1 710.6L423.9 704.7L424.6 699.3L425.4 695.1L426.1 691.4L426.9 688.1L427.6 685.1L428.4 682.2L429.1 679.3L429.9 676.4L430.6 673.4L431.4 670.4L432.1 667.5L432.9 664.6L433.6 661.7L434.4 658.8L435.1 655.8L435.9 652.8L436.6 649.5L437.4 646.0L438.1 642.5L438.9 639.1L439.6 635.9L440.4 633.1L441.1 630.8L441.9 628.9L442.6 627.1L443.4 625.4L444.1 623.9L444.9 622.4L445.6 621.0L446.4 619.5L447.1 618.0L447.9 616.5L448.6 615.0L449.4 613.6L450.1 612.3L450.9 611.1L451.6 610.0L452.4 609.0L453.1 608.0L453.9 607.1L454.6 606.2L455.4 605.5L456.1 604.8L456.9 604.3L457.6 603.9L458.4 603.5L459.1 603.1L459.9 602.7L460.6 602.4L461.4 602.2L462.1 602.0L462.9 601.9L463.6 601.9L464.4 602.0L465.1 602.0L465.9 602.2L466.6 602.3L467.4 602.5L468.1 602.6L468.9 602.8L469.6 602.9L470.4 603.0L471.1 603.0L471.9 602.8L472.6 602.1L473.4 601.0L474.1 599.7L474.9 598.3L475.6 596.9L476.4 595.8L477.1 594.8L477.9 593.7L478.6 592.6L479.4 591.6L480.1 590.3L480.9 589.5L481.6 590.1L482.4 590.9L483.1 591.6L483.9 592.3L484.6 593.0L485.4 593.7L486.1 594.4L486.9 595.2L487.6 596.0L488.4 596.8L489.1 597.6L489.9 598.3L490.6 598.7L491.4 599.0L492.1 599.2L492.9 599.3L493.6 599.4L494.4 599.5L495.1 599.6L495.9 599.7L496.6 599.8L497.4 599.9L498.1 600.0L498.9 600.1L499.6 600.2L500.4 600.3L501.1 600.4L501.9 600.6L502.6 600.7L503.4 600.9L504.1 601.2L504.9 601.5L505.6 601.9L506.4 602.3L507.1 602.8L507.9 603.4L508.6 603.9L509.4 604.5L510.1 605.0L510.9 605.6L511.6 606.1L512.4 606.7L513.1 607.3L513.9 607.9L514.6 608.5L515.4 609.2L516.1 609.8L516.9 610.6L517.6 611.3L518.4 612.1L519.1 612.9L519.9 613.8L520.6 614.7L521.4 615.8L522.1 616.9L522.9 618.0L523.6 619.2L524.4 620.4L525.1 621.6L525.9 622.8L526.6 624.1L527.4 625.3L528.1 626.6L528.9 627.8L529.6 629.2L530.4 630.5L531.1 631.8L531.9 633.2L532.6 634.6L533.4 636.0L534.1 637.4L534.9 638.8L535.6 640.2L536.4 641.7L537.1 643.1L537.9 644.5L538.6 646.0L539.4 647.5L540.1 649.0L540.9 650.5L541.6 652.1L542.4 653.7L543.1 655.4L543.9 657.1L544.6 659.0L545.4 660.9L546.1 662.8L546.9 664.8L547.6 666.8L548.4 668.8L549.1 670.9L549.9 672.9L550.6 674.9L551.4 676.9L552.1 678.8L552.9 680.8L553.6 682.9L554.4 684.9L555.1 686.9L555.9 688.9L556.6 690.8L557.4 692.8L558.1 694.7L558.9 696.5L559.6 698.3L560.4 700.1L561.1 702.0L561.9 703.8L562.6 705.6L563.4 707.4L564.1 709.1L564.9 710.6L565.6 712.1L566.4 713.4L567.1 714.6L567.9 715.6L568.6 716.5L569.4 717.4L570.1 718.3L570.9 719.1L571.6 719.8L572.4 720.5L573.1 721.1L573.9 721.7L574.6 722.3L575.4 722.8L576.1 723.3L576.9 723.8L577.6 724.3L578.4 724.7L579.1 725.1L579.9 725.4L580.6 725.6L581.4 725.7L582.1 725.8L582.9 725.9L583.6 726.0L584.4 726.1L585.1 726.1L585.9 726.2L586.6 726.1L587.4 726.0L588.1 725.7L588.9 725.3L589.6 724.9L590.4 724.4L591.1 723.9L591.9 723.4L592.6 722.9L593.4 722.1L594.1 721.3L594.9 720.6L595.6 720.0L596.4 719.8L597.1 720.0L597.9 720.8L598.6 721.8L599.4 722.9L600.1 723.8L600.9 724.5L601.6 725.3L602.4 726.0L603.1 726.6L603.9 727.0L604.6 727.3L605.4 727.6L606.1 727.9L606.9 728.1L607.6 728.3L608.4 728.5L609.1 728.7L609.9 728.8L610.6 728.8L611.4 728.8L612.1 728.8L612.9 728.8L613.6 728.8L614.4 728.7L615.1 728.7L615.9 728.6L616.6 728.6L617.4 728.5L618.1 728.5L618.9 728.4L619.6 728.3L620.4 728.3L621.1 728.2L621.9 728.1L622.6 728.0L623.4 727.9L624.1 727.9L624.9 727.9L625.6 728.0L626.4 728.0L627.1 728.0L627.9 728.1L628.6 728.1L629.4 728.2L630.1 728.4L630.9 728.5L631.6 728.5L632.4 728.1L633.1 727.5L633.9 726.7L634.6 726.0L635.4 725.4L636.1 724.7L636.9 724.2L637.6 724.2L638.4 724.9L639.1 725.9L639.9 726.8L640.6 727.5L641.4 728.1L642.1 728.6L642.9 728.9L643.6 728.8L644.4 728.6L645.1 728.2L645.9 727.8L646.6 727.4L647.4 726.8L648.1 726.3L648.9 726.1L649.6 726.1L650.4 726.3L651.1 726.6"/>
</g>
<line x1="144.1" y1="733.5" x2="651.4" y2="733.5" stroke="#000" stroke-width="1.2"/>
<g stroke="#000" stroke-width="3.3" fill="none" stroke-linecap="butt">
<path d="M142.5 550.5 L142.5 18.3 L651.4 18.3 L651.4 1101.8" stroke-linejoin="miter"/>
<path d="M144.1 550.5 L144.1 1100.3 L651.4 1100.3" stroke-linejoin="miter"/>
</g>
<line x1="141.0" y1="550.5" x2="651.4" y2="550.5" stroke="#000" stroke-width="2.6"/>
<path d="M178.8 18.3 v12.0M178.7 538.5 v24.0M179.6 1100.3 v-11.0M215.2 18.3 v12.0M215.0 538.5 v24.0M215.9 1100.3 v-11.0M251.6 18.3 v12.0M251.4 538.5 v24.0M252.2 1100.3 v-11.0M287.9 18.3 v23.0M287.7 527.5 v46.0M288.5 1100.3 v-22.0M324.2 18.3 v12.0M324.1 538.5 v24.0M324.8 1100.3 v-11.0M360.6 18.3 v12.0M360.4 538.5 v24.0M361.1 1100.3 v-11.0M396.9 18.3 v12.0M396.8 538.5 v24.0M397.4 1100.3 v-11.0M433.3 18.3 v12.0M433.1 538.5 v24.0M433.6 1100.3 v-11.0M469.6 18.3 v23.0M469.4 527.5 v46.0M469.9 1100.3 v-22.0M506.0 18.3 v12.0M505.8 538.5 v24.0M506.2 1100.3 v-11.0M542.3 18.3 v12.0M542.1 538.5 v24.0M542.5 1100.3 v-11.0M578.7 18.3 v12.0M578.5 538.5 v24.0M578.8 1100.3 v-11.0M615.0 18.3 v12.0M614.8 538.5 v24.0M615.1 1100.3 v-11.0M142.5 502.8 h23.0M651.4 502.8 h-23.0M142.5 406.9 h23.0M651.4 406.9 h-23.0M142.5 310.9 h23.0M651.4 310.9 h-23.0M142.5 215.0 h23.0M651.4 215.0 h-23.0M142.5 119.1 h23.0M651.4 119.1 h-23.0M142.5 23.2 h23.0M651.4 23.2 h-23.0M144.1 611.9 h23.0M651.4 611.9 h-23.0M144.1 733.5 h23.0M651.4 733.5 h-23.0M144.1 855.9 h23.0M651.4 855.9 h-23.0M144.1 978.3 h23.0M651.4 978.3 h-23.0" stroke="#000" stroke-width="3.1" fill="none"/>
<line x1="276.0" y1="167.9" x2="276.0" y2="248.5" stroke="#000" stroke-width="3.0"/><path d="M266.7 248.5 L285.3 248.5 L276.0 281.6Z" fill="#000"/>
<line x1="246.3" y1="880.8" x2="246.3" y2="965.3" stroke="#000" stroke-width="3.0"/><path d="M237.0 965.3 L255.60000000000002 965.3 L246.3 998.3Z" fill="#000"/>
<line x1="598.7" y1="705.7" x2="598.7" y2="667.0" stroke="#000" stroke-width="3.0"/><path d="M589.4000000000001 667.0 L608.0 667.0 L598.7 634.0Z" fill="#000"/>
<g font-family="'Liberation Sans', Arial, Helvetica, sans-serif" font-size="30.5" fill="#000" stroke="#000" stroke-width="0.4" stroke-linejoin="round">
<text x="130.4" y="511.4" text-anchor="end" >0.00</text>
<text x="130.4" y="415.5" text-anchor="end" >0.02</text>
<text x="130.4" y="319.5" text-anchor="end" >0.04</text>
<text x="130.4" y="223.6" text-anchor="end" >0.06</text>
<text x="130.4" y="127.6" text-anchor="end" >0.08</text>
<text x="130.4" y="31.7" text-anchor="end" >0.10</text>
<text x="131.0" y="620.4" text-anchor="end" >10</text>
<text x="131.0" y="743.0" text-anchor="end" >0</text>
<text x="131.0" y="865.6" text-anchor="end" >-10</text>
<text x="131.0" y="987.6" text-anchor="end" >-20</text>
<text x="131.0" y="1110.0" text-anchor="end" >-30</text>
<text x="289.5" y="1139.6" text-anchor="middle" >1600</text>
<text x="470.4" y="1139.6" text-anchor="middle" >1650</text>
<text x="651.0" y="1139.6" text-anchor="middle" >1700</text>
<text x="196.5" y="85.9" text-anchor="start" >A</text>
<text x="203" y="618.6" text-anchor="start" >B</text>
<text x="276.8" y="147.6" text-anchor="middle" >T</text>
<text x="245.5" y="860.8" text-anchor="middle" >T</text>
<text x="596.7" y="612.4" text-anchor="middle" >T</text>
<text transform="translate(28.0 394.6) rotate(-90)" textLength="202.5" lengthAdjust="spacing">IR Absorbance</text>
<text transform="translate(51.2 888) rotate(-90)">ΔA x 10<tspan font-size="22" dy="-14">-3</tspan></text>
<text x="257.2" y="1183" letter-spacing="0.3">Wavenumber (cm<tspan x="502" y="1170" font-size="21.5" letter-spacing="0">-1</tspan><tspan x="521.4" y="1183">)</tspan></text>
</g>
</svg>
</body></html>
